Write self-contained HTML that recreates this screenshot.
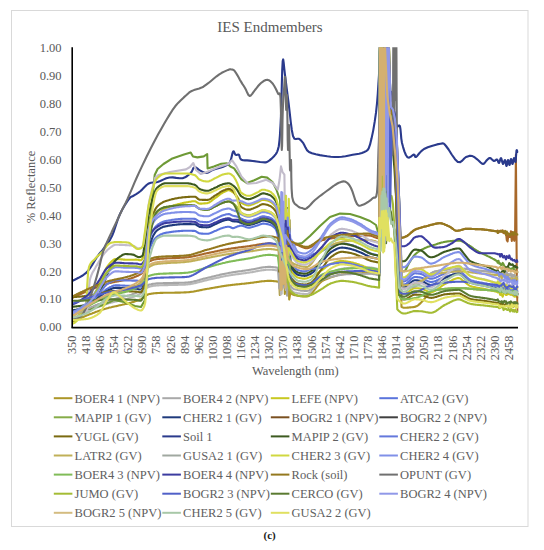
<!DOCTYPE html>
<html><head><meta charset="utf-8"><style>html,body{margin:0;padding:0;background:#fff;width:544px;height:550px;overflow:hidden}svg{display:block}</style></head>
<body><svg width="544" height="550" viewBox="0 0 544 550"><rect x="11.5" y="10.5" width="516.5" height="516" fill="#fff" stroke="#d9d9d9" stroke-width="1"/>
<text x="270" y="31.6" font-family="Liberation Serif, serif" font-size="15" fill="#595959" text-anchor="middle">IES Endmembers</text>
<text x="61.6" y="51.8" font-family="Liberation Serif, serif" font-size="12.5" fill="#595959" text-anchor="end">1.00</text>
<text x="61.6" y="79.8" font-family="Liberation Serif, serif" font-size="12.5" fill="#595959" text-anchor="end">0.90</text>
<text x="61.6" y="107.7" font-family="Liberation Serif, serif" font-size="12.5" fill="#595959" text-anchor="end">0.80</text>
<text x="61.6" y="135.7" font-family="Liberation Serif, serif" font-size="12.5" fill="#595959" text-anchor="end">0.70</text>
<text x="61.6" y="163.6" font-family="Liberation Serif, serif" font-size="12.5" fill="#595959" text-anchor="end">0.60</text>
<text x="61.6" y="191.6" font-family="Liberation Serif, serif" font-size="12.5" fill="#595959" text-anchor="end">0.50</text>
<text x="61.6" y="219.6" font-family="Liberation Serif, serif" font-size="12.5" fill="#595959" text-anchor="end">0.40</text>
<text x="61.6" y="247.5" font-family="Liberation Serif, serif" font-size="12.5" fill="#595959" text-anchor="end">0.30</text>
<text x="61.6" y="275.5" font-family="Liberation Serif, serif" font-size="12.5" fill="#595959" text-anchor="end">0.20</text>
<text x="61.6" y="303.4" font-family="Liberation Serif, serif" font-size="12.5" fill="#595959" text-anchor="end">0.10</text>
<text x="61.6" y="331.4" font-family="Liberation Serif, serif" font-size="12.5" fill="#595959" text-anchor="end">0.00</text>
<text transform="translate(75.8,335.6) rotate(-90)" font-family="Liberation Serif, serif" font-size="12.3" fill="#595959" text-anchor="end">350</text>
<text transform="translate(89.9,335.6) rotate(-90)" font-family="Liberation Serif, serif" font-size="12.3" fill="#595959" text-anchor="end">418</text>
<text transform="translate(104.0,335.6) rotate(-90)" font-family="Liberation Serif, serif" font-size="12.3" fill="#595959" text-anchor="end">486</text>
<text transform="translate(118.1,335.6) rotate(-90)" font-family="Liberation Serif, serif" font-size="12.3" fill="#595959" text-anchor="end">554</text>
<text transform="translate(132.2,335.6) rotate(-90)" font-family="Liberation Serif, serif" font-size="12.3" fill="#595959" text-anchor="end">622</text>
<text transform="translate(146.3,335.6) rotate(-90)" font-family="Liberation Serif, serif" font-size="12.3" fill="#595959" text-anchor="end">690</text>
<text transform="translate(160.4,335.6) rotate(-90)" font-family="Liberation Serif, serif" font-size="12.3" fill="#595959" text-anchor="end">758</text>
<text transform="translate(174.5,335.6) rotate(-90)" font-family="Liberation Serif, serif" font-size="12.3" fill="#595959" text-anchor="end">826</text>
<text transform="translate(188.6,335.6) rotate(-90)" font-family="Liberation Serif, serif" font-size="12.3" fill="#595959" text-anchor="end">894</text>
<text transform="translate(202.7,335.6) rotate(-90)" font-family="Liberation Serif, serif" font-size="12.3" fill="#595959" text-anchor="end">962</text>
<text transform="translate(216.8,335.6) rotate(-90)" font-family="Liberation Serif, serif" font-size="12.3" fill="#595959" text-anchor="end">1030</text>
<text transform="translate(230.9,335.6) rotate(-90)" font-family="Liberation Serif, serif" font-size="12.3" fill="#595959" text-anchor="end">1098</text>
<text transform="translate(245.0,335.6) rotate(-90)" font-family="Liberation Serif, serif" font-size="12.3" fill="#595959" text-anchor="end">1166</text>
<text transform="translate(259.1,335.6) rotate(-90)" font-family="Liberation Serif, serif" font-size="12.3" fill="#595959" text-anchor="end">1234</text>
<text transform="translate(273.2,335.6) rotate(-90)" font-family="Liberation Serif, serif" font-size="12.3" fill="#595959" text-anchor="end">1302</text>
<text transform="translate(287.3,335.6) rotate(-90)" font-family="Liberation Serif, serif" font-size="12.3" fill="#595959" text-anchor="end">1370</text>
<text transform="translate(301.4,335.6) rotate(-90)" font-family="Liberation Serif, serif" font-size="12.3" fill="#595959" text-anchor="end">1438</text>
<text transform="translate(315.5,335.6) rotate(-90)" font-family="Liberation Serif, serif" font-size="12.3" fill="#595959" text-anchor="end">1506</text>
<text transform="translate(329.6,335.6) rotate(-90)" font-family="Liberation Serif, serif" font-size="12.3" fill="#595959" text-anchor="end">1574</text>
<text transform="translate(343.7,335.6) rotate(-90)" font-family="Liberation Serif, serif" font-size="12.3" fill="#595959" text-anchor="end">1642</text>
<text transform="translate(357.8,335.6) rotate(-90)" font-family="Liberation Serif, serif" font-size="12.3" fill="#595959" text-anchor="end">1710</text>
<text transform="translate(371.9,335.6) rotate(-90)" font-family="Liberation Serif, serif" font-size="12.3" fill="#595959" text-anchor="end">1778</text>
<text transform="translate(386.0,335.6) rotate(-90)" font-family="Liberation Serif, serif" font-size="12.3" fill="#595959" text-anchor="end">1846</text>
<text transform="translate(400.1,335.6) rotate(-90)" font-family="Liberation Serif, serif" font-size="12.3" fill="#595959" text-anchor="end">1914</text>
<text transform="translate(414.2,335.6) rotate(-90)" font-family="Liberation Serif, serif" font-size="12.3" fill="#595959" text-anchor="end">1982</text>
<text transform="translate(428.3,335.6) rotate(-90)" font-family="Liberation Serif, serif" font-size="12.3" fill="#595959" text-anchor="end">2050</text>
<text transform="translate(442.4,335.6) rotate(-90)" font-family="Liberation Serif, serif" font-size="12.3" fill="#595959" text-anchor="end">2118</text>
<text transform="translate(456.5,335.6) rotate(-90)" font-family="Liberation Serif, serif" font-size="12.3" fill="#595959" text-anchor="end">2186</text>
<text transform="translate(470.6,335.6) rotate(-90)" font-family="Liberation Serif, serif" font-size="12.3" fill="#595959" text-anchor="end">2254</text>
<text transform="translate(484.7,335.6) rotate(-90)" font-family="Liberation Serif, serif" font-size="12.3" fill="#595959" text-anchor="end">2322</text>
<text transform="translate(498.8,335.6) rotate(-90)" font-family="Liberation Serif, serif" font-size="12.3" fill="#595959" text-anchor="end">2390</text>
<text transform="translate(512.9,335.6) rotate(-90)" font-family="Liberation Serif, serif" font-size="12.3" fill="#595959" text-anchor="end">2458</text>
<text x="295.3" y="375" font-family="Liberation Serif, serif" font-size="12.5" fill="#595959" text-anchor="middle">Wavelength (nm)</text>
<text transform="translate(35,187) rotate(-90)" font-family="Liberation Serif, serif" font-size="12.5" fill="#595959" text-anchor="middle">% Reflectance</text>
<defs><clipPath id="pc"><rect x="72" y="47.3" width="446.5" height="280.5"/></clipPath></defs>
<g clip-path="url(#pc)" fill="none" stroke-width="2.1" stroke-linejoin="round" stroke-linecap="round">
<polyline points="72.3,321.7 73.1,321.3 74.0,321.0 74.8,320.6 75.6,320.2 76.4,319.9 77.3,319.5 78.1,319.1 78.9,318.8 79.8,318.4 80.6,318.1 81.4,317.7 82.3,317.3 83.1,317.0 83.9,316.7 84.7,316.3 85.6,316.0 86.4,315.6 87.2,315.3 88.1,315.0 88.9,314.6 89.7,314.3 90.5,314.0 91.4,313.7 92.2,313.4 93.0,313.0 93.9,312.7 94.7,312.4 95.5,312.1 96.3,311.8 97.2,311.5 98.0,311.2 98.8,310.9 99.7,310.6 100.5,310.4 101.3,310.1 102.2,309.8 103.0,309.5 103.8,309.3 104.6,309.0 105.5,308.8 106.3,308.5 107.1,308.3 108.0,308.1 108.8,307.8 109.6,307.6 110.4,307.4 111.3,307.2 112.1,307.0 112.9,306.8 113.8,306.6 114.6,306.4 115.4,306.2 116.2,306.1 117.1,305.9 117.9,305.7 118.7,305.5 119.6,305.3 120.4,305.2 121.2,305.0 122.1,304.8 122.9,304.6 123.7,304.4 124.5,304.2 125.4,304.0 126.2,303.9 127.0,303.7 127.9,303.4 128.7,303.2 129.5,303.0 130.3,302.8 131.2,302.6 132.0,302.3 132.8,302.1 133.7,301.9 134.5,301.6 135.3,301.3 136.1,301.0 137.0,300.8 137.8,300.5 138.6,300.2 139.5,299.8 140.3,299.5 141.1,299.2 142.0,298.7 142.8,298.1 143.6,297.5 144.4,296.8 145.3,296.2 146.1,295.6 146.9,295.0 147.8,294.5 148.6,294.2 149.4,294.0 150.2,293.9 151.1,293.7 151.9,293.6 152.7,293.5 153.6,293.4 154.4,293.3 155.2,293.2 156.0,293.1 156.9,293.1 157.7,293.0 158.5,293.0 159.4,293.0 160.2,292.9 161.0,292.9 161.9,292.9 162.7,292.9 163.5,292.8 164.3,292.8 165.2,292.8 166.0,292.8 166.8,292.8 167.7,292.8 168.5,292.7 169.3,292.7 170.1,292.7 171.0,292.7 171.8,292.7 172.6,292.7 173.5,292.7 174.3,292.7 175.1,292.6 175.9,292.6 176.8,292.6 177.6,292.6 178.4,292.6 179.3,292.6 180.1,292.6 180.9,292.5 181.8,292.5 182.6,292.5 183.4,292.5 184.2,292.4 185.1,292.4 185.9,292.4 186.7,292.3 187.6,292.3 188.4,292.2 189.2,292.1 190.0,292.0 190.9,291.9 191.7,291.8 192.5,291.7 193.4,291.6 194.2,291.4 195.0,291.3 195.9,291.1 196.7,290.9 197.5,290.8 198.3,290.6 199.2,290.4 200.0,290.3 200.8,290.1 201.7,289.9 202.5,289.8 203.3,289.6 204.1,289.4 205.0,289.3 205.8,289.1 206.6,289.0 207.5,288.8 208.3,288.7 209.1,288.6 209.9,288.4 210.8,288.3 211.6,288.1 212.4,288.0 213.3,287.8 214.1,287.7 214.9,287.5 215.8,287.4 216.6,287.3 217.4,287.1 218.2,287.0 219.1,286.8 219.9,286.7 220.7,286.5 221.6,286.4 222.4,286.3 223.2,286.1 224.0,286.0 224.9,285.9 225.7,285.8 226.5,285.6 227.4,285.5 228.2,285.4 229.0,285.3 229.8,285.2 230.7,285.1 231.5,285.0 232.3,284.9 233.2,284.8 234.0,284.7 234.8,284.6 235.7,284.5 236.5,284.4 237.3,284.4 238.1,284.3 239.0,284.2 239.8,284.1 240.6,284.0 241.5,283.9 242.3,283.8 243.1,283.8 243.9,283.7 244.8,283.6 245.6,283.5 246.4,283.4 247.3,283.3 248.1,283.2 248.9,283.1 249.7,283.0 250.6,282.9 251.4,282.8 252.2,282.7 253.1,282.6 253.9,282.5 254.7,282.3 255.6,282.2 256.4,282.1 257.2,282.0 258.0,281.9 258.9,281.7 259.7,281.6 260.5,281.5 261.4,281.4 262.2,281.3 263.0,281.2 263.8,281.2 264.7,281.1 265.5,281.0 266.3,281.0 267.2,280.9 268.0,280.9 268.8,280.9 269.6,280.9 270.5,280.9 271.3,280.9 272.1,281.0 273.0,281.0 273.8,281.1 274.6,281.2 275.5,281.3 276.3,281.4 277.1,281.5 277.9,281.6 279.3,282.3 279.8,294.9 280.2,274.2 280.7,286.2 281.1,284.5 281.7,288.4 282.3,279.2 282.8,272.1 283.3,286.0 283.8,287.1 284.3,269.5 284.8,294.0 285.2,289.4 285.7,283.5 286.2,277.8 286.8,290.8 287.4,284.5 287.9,280.1 288.6,281.0 289.2,299.5 290.4,292.5 291.2,293.3 292.0,294.0 292.9,294.5 293.7,294.9 294.5,295.1 295.4,295.3 296.2,295.4 297.0,295.6 297.8,295.7 298.7,295.9 299.5,296.0 300.3,296.1 301.2,296.2 302.0,296.3 302.8,296.4 303.6,296.4 304.5,296.5 305.3,296.5 306.1,296.5 307.0,296.5 307.8,296.3 308.6,296.0 309.5,295.4 310.3,294.8 311.1,294.0 311.9,293.1 312.8,292.1 313.6,291.1 314.4,290.0 315.3,288.9 316.1,287.8 316.9,286.7 317.7,285.6 318.6,284.5 319.4,283.6 320.2,282.7 321.1,281.9 321.9,281.2 322.7,280.7 323.5,280.3 324.4,279.9 325.2,279.6 326.0,279.2 326.9,278.9 327.7,278.6 328.5,278.2 329.4,277.9 330.2,277.6 331.0,277.3 331.8,277.0 332.7,276.7 333.5,276.4 334.3,276.2 335.2,275.9 336.0,275.7 336.8,275.5 337.6,275.2 338.5,275.0 339.3,274.8 340.1,274.7 341.0,274.5 341.8,274.3 342.6,274.2 343.4,274.1 344.3,273.9 345.1,273.8 345.9,273.8 346.8,273.7 347.6,273.6 348.4,273.6 349.3,273.6 350.1,273.5 350.9,273.5 351.7,273.5 352.6,273.4 353.4,273.4 354.2,273.4 355.1,273.3 355.9,273.3 356.7,273.3 357.5,273.3 358.4,273.2 359.2,273.2 360.0,273.2 360.9,273.2 361.7,273.2 362.5,273.1 363.3,273.1 364.2,273.1 365.0,273.1 365.8,273.1 366.7,273.1 367.5,273.1 368.3,273.1 369.2,273.1 370.0,273.1 370.8,273.2 371.6,273.2 372.5,273.3 373.3,273.5 374.1,273.6 375.0,273.7 375.8,273.9 376.6,274.1 377.4,274.3 378.3,274.5 379.1,274.7 379.9,44.5 380.4,177.8 381.0,38.3 381.5,222.7 381.9,51.5 382.4,161.4 383.0,50.1 383.4,136.5 384.0,42.9 384.5,109.6 385.2,40.0 385.9,226.5 389.0,98.8 391.4,114.1 393.9,122.9 396.4,147.5 398.9,219.1 401.5,306.9 402.3,307.3 403.2,307.6 404.0,307.7 404.8,307.7 405.6,307.7 406.5,307.7 407.3,307.6 408.1,307.6 409.0,307.5 409.8,307.4 410.6,307.4 411.4,307.3 412.3,307.2 413.1,307.1 413.9,307.0 414.8,306.9 415.6,306.6 416.4,306.3 417.2,305.8 418.1,305.3 418.9,304.6 419.7,303.9 420.6,303.1 421.4,302.3 422.2,301.4 423.1,300.5 423.9,299.5 424.7,298.6 425.5,297.6 426.4,296.7 427.2,295.8 428.0,294.9 428.9,294.0 429.7,293.2 430.5,292.5 431.3,291.9 432.2,291.3 433.0,290.8 433.8,290.4 434.7,290.2 435.5,290.1 436.3,289.9 437.1,289.8 438.0,289.7 438.8,289.6 439.6,289.5 440.5,289.4 441.3,289.3 442.1,289.2 443.0,289.1 443.8,289.0 444.6,288.9 445.4,288.9 446.3,288.8 447.1,288.7 447.9,288.6 448.8,288.6 449.6,288.5 450.4,288.5 451.2,288.4 452.1,288.4 452.9,288.3 453.7,288.3 454.6,288.3 455.4,288.2 456.2,288.2 457.0,288.2 457.9,288.2 458.7,288.2 459.5,288.2 460.4,288.2 461.2,288.2 462.0,288.2 462.9,288.2 463.7,288.3 464.5,288.3 465.3,288.4 466.2,288.4 467.0,288.5 467.8,288.6 468.7,288.6 469.5,288.7 470.3,288.8 471.1,288.9 472.0,288.9 472.8,289.0 473.6,289.1 474.5,289.2 475.3,289.2 476.1,289.3 476.9,289.4 477.8,289.4 478.6,289.5 479.4,289.5 480.3,289.6 481.1,289.6 481.9,289.7 482.8,289.8 483.6,289.8 484.4,289.9 485.2,289.9 486.1,290.0 486.9,290.0 487.7,290.1 488.6,290.2 489.4,290.2 490.2,290.3 491.0,290.3 491.9,290.4 492.7,290.5 493.5,290.5 494.4,290.6 495.2,290.7 496.0,290.8 496.9,290.9 497.7,290.9 498.5,290.7 499.3,291.4 500.2,292.2 501.0,291.8 501.8,292.5 502.7,291.5 503.5,290.1 504.3,292.3 505.1,292.6 506.0,291.4 506.8,291.7 507.6,292.1 508.5,293.4 509.3,292.5 510.1,291.9 510.9,294.3 511.8,293.4 512.6,295.2 513.4,294.6 514.3,295.4 515.1,293.8 515.9,295.1 516.8,293.5 517.6,293.8" stroke="#ac9628"/>
<polyline points="72.3,318.9 73.1,318.5 74.0,318.1 74.8,317.7 75.6,317.2 76.4,316.8 77.3,316.4 78.1,316.0 78.9,315.6 79.8,315.2 80.6,314.8 81.4,314.4 82.3,314.0 83.1,313.6 83.9,313.2 84.7,312.8 85.6,312.5 86.4,312.1 87.2,311.7 88.1,311.3 88.9,311.0 89.7,310.6 90.5,310.2 91.4,309.9 92.2,309.5 93.0,309.2 93.9,308.8 94.7,308.5 95.5,308.1 96.3,307.8 97.2,307.4 98.0,307.1 98.8,306.8 99.7,306.5 100.5,306.2 101.3,305.8 102.2,305.5 103.0,305.2 103.8,304.9 104.6,304.6 105.5,304.4 106.3,304.1 107.1,303.8 108.0,303.6 108.8,303.3 109.6,303.1 110.4,302.9 111.3,302.6 112.1,302.4 112.9,302.2 113.8,302.0 114.6,301.8 115.4,301.6 116.2,301.4 117.1,301.2 117.9,301.0 118.7,300.8 119.6,300.6 120.4,300.4 121.2,300.2 122.1,300.0 122.9,299.8 123.7,299.6 124.5,299.4 125.4,299.2 126.2,299.0 127.0,298.8 127.9,298.5 128.7,298.3 129.5,298.1 130.3,297.8 131.2,297.5 132.0,297.3 132.8,297.0 133.7,296.7 134.5,296.4 135.3,296.1 136.1,295.8 137.0,295.4 137.8,295.1 138.6,294.7 139.5,294.3 140.3,294.0 141.1,293.5 142.0,292.9 142.8,292.2 143.6,291.4 144.4,290.5 145.3,289.6 146.1,288.8 146.9,288.0 147.8,287.4 148.6,287.0 149.4,286.7 150.2,286.5 151.1,286.3 151.9,286.1 152.7,286.0 153.6,285.8 154.4,285.7 155.2,285.6 156.0,285.5 156.9,285.5 157.7,285.4 158.5,285.4 159.4,285.3 160.2,285.3 161.0,285.3 161.9,285.2 162.7,285.2 163.5,285.2 164.3,285.1 165.2,285.1 166.0,285.1 166.8,285.1 167.7,285.1 168.5,285.0 169.3,285.0 170.1,285.0 171.0,285.0 171.8,285.0 172.6,285.0 173.5,284.9 174.3,284.9 175.1,284.9 175.9,284.9 176.8,284.9 177.6,284.9 178.4,284.8 179.3,284.8 180.1,284.8 180.9,284.8 181.8,284.7 182.6,284.7 183.4,284.7 184.2,284.6 185.1,284.6 185.9,284.5 186.7,284.5 187.6,284.4 188.4,284.3 189.2,284.2 190.0,284.1 190.9,284.0 191.7,283.8 192.5,283.7 193.4,283.5 194.2,283.3 195.0,283.1 195.9,282.9 196.7,282.7 197.5,282.5 198.3,282.3 199.2,282.1 200.0,281.8 200.8,281.6 201.7,281.4 202.5,281.2 203.3,281.0 204.1,280.8 205.0,280.5 205.8,280.4 206.6,280.2 207.5,280.0 208.3,279.8 209.1,279.6 209.9,279.4 210.8,279.3 211.6,279.1 212.4,278.9 213.3,278.7 214.1,278.5 214.9,278.3 215.8,278.1 216.6,277.9 217.4,277.7 218.2,277.6 219.1,277.4 219.9,277.2 220.7,277.0 221.6,276.8 222.4,276.7 223.2,276.5 224.0,276.3 224.9,276.2 225.7,276.0 226.5,275.8 227.4,275.7 228.2,275.6 229.0,275.4 229.8,275.3 230.7,275.2 231.5,275.0 232.3,274.9 233.2,274.8 234.0,274.7 234.8,274.5 235.7,274.4 236.5,274.3 237.3,274.2 238.1,274.1 239.0,274.0 239.8,273.9 240.6,273.7 241.5,273.6 242.3,273.5 243.1,273.4 243.9,273.3 244.8,273.2 245.6,273.1 246.4,273.0 247.3,272.8 248.1,272.7 248.9,272.6 249.7,272.5 250.6,272.3 251.4,272.2 252.2,272.1 253.1,271.9 253.9,271.7 254.7,271.6 255.6,271.4 256.4,271.3 257.2,271.1 258.0,271.0 258.9,270.8 259.7,270.7 260.5,270.5 261.4,270.4 262.2,270.3 263.0,270.2 263.8,270.1 264.7,270.0 265.5,269.9 266.3,269.8 267.2,269.8 268.0,269.7 268.8,269.7 269.6,269.7 270.5,269.7 271.3,269.8 272.1,269.8 273.0,269.9 273.8,270.0 274.6,270.0 275.5,270.2 276.3,270.3 277.1,270.4 277.9,270.5 279.2,269.0 279.6,285.0 280.2,265.2 280.7,294.8 281.1,281.4 281.7,293.8 282.2,275.3 282.7,277.4 283.2,278.1 283.6,287.5 284.2,265.0 284.9,283.3 285.4,267.5 285.8,290.0 286.2,275.4 286.6,279.4 287.2,276.0 287.8,280.1 288.4,281.2 288.9,284.8 290.4,288.5 291.2,289.8 292.0,290.9 292.9,291.7 293.7,292.2 294.5,292.5 295.4,292.7 296.2,292.8 297.0,293.0 297.8,293.2 298.7,293.3 299.5,293.4 300.3,293.6 301.2,293.7 302.0,293.8 302.8,293.9 303.6,293.9 304.5,294.0 305.3,294.0 306.1,294.0 307.0,294.0 307.8,293.8 308.6,293.4 309.5,292.8 310.3,292.0 311.1,291.1 311.9,290.1 312.8,289.0 313.6,287.8 314.4,286.6 315.3,285.3 316.1,284.1 316.9,282.8 317.7,281.6 318.6,280.4 319.4,279.3 320.2,278.3 321.1,277.4 321.9,276.7 322.7,276.1 323.5,275.6 324.4,275.2 325.2,274.8 326.0,274.4 326.9,274.0 327.7,273.6 328.5,273.3 329.4,272.9 330.2,272.5 331.0,272.2 331.8,271.9 332.7,271.5 333.5,271.2 334.3,270.9 335.2,270.6 336.0,270.4 336.8,270.1 337.6,269.9 338.5,269.6 339.3,269.4 340.1,269.2 341.0,269.0 341.8,268.8 342.6,268.7 343.4,268.5 344.3,268.4 345.1,268.3 345.9,268.2 346.8,268.1 347.6,268.0 348.4,268.0 349.3,268.0 350.1,267.9 350.9,267.9 351.7,267.8 352.6,267.8 353.4,267.8 354.2,267.7 355.1,267.7 355.9,267.7 356.7,267.6 357.5,267.6 358.4,267.6 359.2,267.6 360.0,267.5 360.9,267.5 361.7,267.5 362.5,267.5 363.3,267.5 364.2,267.5 365.0,267.5 365.8,267.4 366.7,267.4 367.5,267.4 368.3,267.4 369.2,267.4 370.0,267.5 370.8,267.5 371.6,267.6 372.5,267.7 373.3,267.9 374.1,268.0 375.0,268.2 375.8,268.4 376.6,268.6 377.4,268.8 378.3,269.0 379.1,269.2 379.7,30.9 380.2,63.0 380.7,30.9 381.3,187.7 382.0,30.9 382.3,104.8 382.9,30.9 383.3,88.5 383.8,30.9 384.5,150.8 385.1,30.9 385.8,181.7 386.1,30.9 386.5,106.6 387.2,30.9 389.2,104.7 391.2,104.9 393.2,126.5 395.1,150.0 397.1,206.6 399.8,286.9 400.7,287.3 401.5,287.7 402.3,287.9 403.2,288.1 404.0,288.2 404.8,288.1 405.6,288.1 406.5,288.0 407.3,287.9 408.1,287.8 409.0,287.7 409.8,287.6 410.6,287.4 411.4,287.2 412.3,287.1 413.1,286.9 413.9,286.7 414.8,286.5 415.6,286.2 416.4,285.8 417.2,285.4 418.1,284.8 418.9,284.2 419.7,283.6 420.6,282.9 421.4,282.2 422.2,281.4 423.1,280.6 423.9,279.8 424.7,279.0 425.5,278.2 426.4,277.4 427.2,276.6 428.0,275.8 428.9,275.1 429.7,274.4 430.5,273.8 431.3,273.2 432.2,272.7 433.0,272.2 433.8,271.9 434.7,271.6 435.5,271.4 436.3,271.3 437.1,271.1 438.0,270.9 438.8,270.8 439.6,270.6 440.5,270.5 441.3,270.3 442.1,270.2 443.0,270.1 443.8,269.9 444.6,269.8 445.4,269.7 446.3,269.6 447.1,269.5 447.9,269.4 448.8,269.3 449.6,269.2 450.4,269.1 451.2,269.0 452.1,268.9 452.9,268.9 453.7,268.8 454.6,268.7 455.4,268.7 456.2,268.7 457.0,268.6 457.9,268.6 458.7,268.6 459.5,268.6 460.4,268.6 461.2,268.6 462.0,268.6 462.9,268.7 463.7,268.7 464.5,268.8 465.3,268.9 466.2,269.0 467.0,269.1 467.8,269.2 468.7,269.3 469.5,269.4 470.3,269.5 471.1,269.6 472.0,269.8 472.8,269.9 473.6,270.0 474.5,270.1 475.3,270.2 476.1,270.3 476.9,270.4 477.8,270.5 478.6,270.6 479.4,270.7 480.3,270.7 481.1,270.8 481.9,270.9 482.8,271.0 483.6,271.1 484.4,271.2 485.2,271.2 486.1,271.3 486.9,271.4 487.7,271.5 488.6,271.6 489.4,271.7 490.2,271.8 491.0,271.9 491.9,272.0 492.7,272.1 493.5,272.2 494.4,272.3 495.2,272.4 496.0,272.5 496.9,272.6 497.7,272.7 498.5,273.5 499.3,273.2 500.2,275.4 501.0,274.6 501.8,273.1 502.7,276.0 503.5,272.9 504.3,275.9 505.1,273.3 506.0,275.3 506.8,273.6 507.6,274.6 508.5,276.6 509.3,273.7 510.1,273.7 510.9,275.6 511.8,276.0 512.6,276.1 513.4,277.2 514.3,275.1 515.1,277.2 515.9,276.9 516.8,277.9 517.6,278.0" stroke="#b8b8b8"/>
<polyline points="72.3,318.9 73.1,318.6 74.0,318.3 74.8,317.9 75.6,317.4 76.4,316.9 77.3,316.3 78.1,315.7 78.9,315.0 79.8,314.3 80.6,313.5 81.4,312.7 82.3,311.9 83.1,311.0 83.9,310.2 84.7,309.3 85.6,308.4 86.4,307.4 87.2,306.5 88.1,305.4 88.9,304.2 89.7,302.9 90.5,301.6 91.4,300.1 92.2,298.6 93.0,297.1 93.9,295.5 94.7,293.9 95.5,292.2 96.3,290.6 97.2,289.0 98.0,287.3 98.8,285.4 99.7,283.5 100.5,281.4 101.3,279.3 102.2,277.2 103.0,275.2 103.8,273.2 104.6,271.3 105.5,269.6 106.3,268.1 107.1,266.8 108.0,265.7 108.8,264.7 109.6,263.7 110.4,262.7 111.3,261.8 112.1,261.0 112.9,260.3 113.8,259.7 114.6,259.3 115.4,259.1 116.2,259.1 117.1,259.1 117.9,259.1 118.7,259.2 119.6,259.2 120.4,259.3 121.2,259.4 122.1,259.4 122.9,259.5 123.7,259.6 124.5,259.6 125.4,259.7 126.2,259.7 127.0,259.7 127.9,259.8 128.7,259.8 129.5,259.8 130.3,259.7 131.2,259.7 132.0,259.7 132.8,259.7 133.7,259.7 134.5,259.7 135.3,259.6 136.1,259.6 137.0,259.7 137.8,259.8 138.6,259.9 139.5,260.1 140.3,260.2 141.1,260.1 142.0,259.4 142.8,258.2 143.6,256.4 144.4,254.3 145.3,251.3 146.1,244.2 146.9,234.8 147.8,225.7 148.6,219.5 149.4,217.9 150.2,217.2 151.1,216.7 151.9,216.3 152.7,216.0 153.6,215.7 154.4,215.5 155.2,215.2 156.0,214.9 156.9,214.6 157.7,214.1 158.5,213.5 159.4,212.9 160.2,212.3 161.0,211.6 161.9,210.9 162.7,210.3 163.5,209.6 164.3,209.1 165.2,208.6 166.0,208.2 166.8,207.9 167.7,207.6 168.5,207.2 169.3,206.9 170.1,206.6 171.0,206.3 171.8,206.0 172.6,205.7 173.5,205.5 174.3,205.2 175.1,205.0 175.9,204.7 176.8,204.5 177.6,204.3 178.4,204.1 179.3,203.9 180.1,203.7 180.9,203.5 181.8,203.3 182.6,203.1 183.4,202.9 184.2,202.8 185.1,202.6 185.9,202.5 186.7,202.3 187.6,202.2 188.4,202.0 189.2,201.8 190.0,201.7 190.9,201.6 191.7,201.4 192.5,201.3 193.4,201.3 194.2,201.2 195.0,201.3 195.9,201.6 196.7,202.1 197.5,202.6 198.3,203.2 199.2,203.5 200.0,203.6 200.8,203.6 201.7,203.6 202.5,203.5 203.3,203.5 204.1,203.4 205.0,203.4 205.8,203.3 206.6,203.2 207.5,203.1 208.3,202.8 209.1,202.5 209.9,202.0 210.8,201.4 211.6,200.8 212.4,200.1 213.3,199.5 214.1,198.8 214.9,198.2 215.8,197.6 216.6,197.1 217.4,196.4 218.2,195.8 219.1,195.2 219.9,194.5 220.7,193.9 221.6,193.4 222.4,192.8 223.2,192.4 224.0,192.0 224.9,191.6 225.7,191.2 226.5,190.8 227.4,190.5 228.2,190.3 229.0,190.3 229.8,190.5 230.7,190.9 231.5,191.4 232.3,191.9 233.2,192.5 234.0,193.1 234.8,193.9 235.7,194.8 236.5,195.7 237.3,196.7 238.1,198.0 239.0,199.5 239.8,200.9 240.6,202.1 241.5,202.8 242.3,203.3 243.1,203.7 243.9,204.2 244.8,204.5 245.6,204.8 246.4,205.1 247.3,205.3 248.1,205.4 248.9,205.4 249.7,205.3 250.6,205.1 251.4,204.8 252.2,204.6 253.1,204.2 253.9,203.9 254.7,203.5 255.6,203.1 256.4,202.8 257.2,202.5 258.0,202.0 258.9,201.6 259.7,201.1 260.5,200.6 261.4,200.2 262.2,200.0 263.0,199.9 263.8,199.9 264.7,200.0 265.5,200.2 266.3,200.3 267.2,200.6 268.0,200.8 268.8,201.1 269.6,201.4 270.5,201.8 271.3,202.4 272.1,203.0 273.0,203.8 273.8,204.6 274.6,205.6 275.5,206.7 276.3,208.3 277.1,210.5 277.9,213.3 279.4,208.4 280.0,245.7 280.5,226.3 281.0,257.1 281.5,216.3 282.1,259.2 282.7,231.0 283.4,240.4 284.0,225.9 284.4,250.4 285.0,226.1 285.5,261.3 286.0,229.4 286.6,256.0 287.3,228.7 287.8,245.7 288.4,219.8 288.8,260.1 289.2,236.7 290.4,269.6 291.2,271.0 292.0,272.2 292.9,273.3 293.7,274.4 294.5,275.3 295.4,276.0 296.2,276.7 297.0,277.2 297.8,277.5 298.7,277.8 299.5,278.0 300.3,278.2 301.2,278.3 302.0,278.5 302.8,278.6 303.6,278.6 304.5,278.6 305.3,278.6 306.1,278.4 307.0,278.2 307.8,277.9 308.6,277.6 309.5,277.2 310.3,276.9 311.1,276.5 311.9,276.2 312.8,275.8 313.6,275.3 314.4,274.9 315.3,274.4 316.1,273.9 316.9,273.4 317.7,272.8 318.6,272.3 319.4,271.8 320.2,271.2 321.1,270.7 321.9,270.2 322.7,269.6 323.5,269.0 324.4,268.3 325.2,267.7 326.0,267.0 326.9,266.4 327.7,265.8 328.5,265.2 329.4,264.7 330.2,264.2 331.0,263.8 331.8,263.5 332.7,263.2 333.5,262.9 334.3,262.6 335.2,262.3 336.0,262.1 336.8,261.8 337.6,261.6 338.5,261.4 339.3,261.3 340.1,261.1 341.0,261.1 341.8,261.0 342.6,261.1 343.4,261.1 344.3,261.2 345.1,261.3 345.9,261.4 346.8,261.5 347.6,261.6 348.4,261.7 349.3,261.9 350.1,262.0 350.9,262.2 351.7,262.4 352.6,262.6 353.4,262.8 354.2,263.0 355.1,263.2 355.9,263.5 356.7,263.8 357.5,264.0 358.4,264.3 359.2,264.6 360.0,264.9 360.9,265.2 361.7,265.5 362.5,265.8 363.3,266.1 364.2,266.5 365.0,266.8 365.8,267.2 366.7,267.5 367.5,267.9 368.3,268.2 369.2,268.5 370.0,268.7 370.8,269.0 371.6,269.2 372.5,269.4 373.3,269.5 374.1,269.7 375.0,269.8 375.8,270.0 376.6,270.1 377.4,270.3 378.3,270.5 379.1,270.7 379.8,30.9 380.2,130.9 380.5,30.9 380.9,86.7 381.4,30.9 382.1,56.5 382.8,30.9 383.3,175.0 383.7,30.9 384.2,193.6 384.6,30.9 385.1,182.7 385.7,30.9 386.2,165.0 386.7,30.9 387.3,144.8 387.9,30.9 388.3,191.2 388.6,30.9 390.5,108.5 392.1,99.8 393.7,125.2 395.4,149.0 397.0,203.1 399.0,291.9 399.8,292.5 400.7,293.0 401.5,293.4 402.3,293.8 403.2,294.0 404.0,294.0 404.8,293.9 405.6,293.7 406.5,293.3 407.3,292.7 408.1,292.2 409.0,291.5 409.8,290.8 410.6,290.2 411.4,289.6 412.3,289.0 413.1,288.6 413.9,288.3 414.8,288.2 415.6,288.2 416.4,288.2 417.2,288.2 418.1,288.3 418.9,288.4 419.7,288.5 420.6,288.5 421.4,288.7 422.2,288.9 423.1,289.2 423.9,289.6 424.7,290.0 425.5,290.3 426.4,290.7 427.2,291.1 428.0,291.5 428.9,291.7 429.7,291.9 430.5,292.1 431.3,292.1 432.2,291.9 433.0,291.7 433.8,291.4 434.7,291.0 435.5,290.6 436.3,290.1 437.1,289.5 438.0,288.9 438.8,288.3 439.6,287.6 440.5,287.0 441.3,286.4 442.1,285.7 443.0,285.2 443.8,284.6 444.6,284.1 445.4,283.7 446.3,283.3 447.1,282.8 447.9,282.4 448.8,281.9 449.6,281.5 450.4,281.0 451.2,280.6 452.1,280.1 452.9,279.7 453.7,279.3 454.6,279.0 455.4,278.7 456.2,278.5 457.0,278.3 457.9,278.1 458.7,278.1 459.5,278.2 460.4,278.5 461.2,279.1 462.0,279.8 462.9,280.5 463.7,281.2 464.5,281.8 465.3,282.5 466.2,283.2 467.0,283.8 467.8,284.5 468.7,285.1 469.5,285.6 470.3,286.0 471.1,286.2 472.0,286.5 472.8,286.7 473.6,286.9 474.5,287.1 475.3,287.3 476.1,287.5 476.9,287.7 477.8,287.8 478.6,288.0 479.4,288.1 480.3,288.2 481.1,288.4 481.9,288.5 482.8,288.6 483.6,288.8 484.4,288.9 485.2,289.1 486.1,289.2 486.9,289.4 487.7,289.6 488.6,289.8 489.4,290.0 490.2,290.2 491.0,290.4 491.9,290.6 492.7,290.8 493.5,291.0 494.4,291.2 495.2,291.4 496.0,291.6 496.9,291.8 497.7,292.3 498.5,290.9 499.3,292.4 500.2,295.0 501.0,293.5 501.8,295.1 502.7,296.7 503.5,293.9 504.3,291.9 505.1,293.5 506.0,295.0 506.8,294.9 507.6,292.7 508.5,294.0 509.3,294.3 510.1,294.5 510.9,294.6 511.8,293.9 512.6,294.4 513.4,295.0 514.3,296.6 515.1,295.1 515.9,296.6 516.8,294.9 517.6,297.7" stroke="#c8c820"/>
<polyline points="72.3,311.9 73.1,311.8 74.0,311.6 74.8,311.5 75.6,311.3 76.4,311.0 77.3,310.8 78.1,310.5 78.9,310.2 79.8,309.9 80.6,309.5 81.4,309.2 82.3,308.8 83.1,308.4 83.9,308.0 84.7,307.6 85.6,307.2 86.4,306.8 87.2,306.4 88.1,305.9 88.9,305.4 89.7,304.8 90.5,304.2 91.4,303.6 92.2,302.9 93.0,302.2 93.9,301.5 94.7,300.8 95.5,300.1 96.3,299.4 97.2,298.6 98.0,297.9 98.8,297.1 99.7,296.2 100.5,295.3 101.3,294.3 102.2,293.4 103.0,292.5 103.8,291.6 104.6,290.8 105.5,290.0 106.3,289.4 107.1,288.8 108.0,288.3 108.8,287.9 109.6,287.4 110.4,287.0 111.3,286.6 112.1,286.2 112.9,285.9 113.8,285.6 114.6,285.5 115.4,285.4 116.2,285.4 117.1,285.4 117.9,285.4 118.7,285.4 119.6,285.4 120.4,285.5 121.2,285.5 122.1,285.5 122.9,285.6 123.7,285.6 124.5,285.6 125.4,285.7 126.2,285.7 127.0,285.7 127.9,285.8 128.7,285.8 129.5,285.8 130.3,285.8 131.2,285.9 132.0,285.9 132.8,285.9 133.7,285.9 134.5,286.0 135.3,286.0 136.1,286.0 137.0,286.1 137.8,286.2 138.6,286.4 139.5,286.6 140.3,286.7 141.1,286.7 142.0,286.1 142.8,285.0 143.6,283.5 144.4,281.7 145.3,279.2 146.1,273.6 146.9,266.0 147.8,258.4 148.6,252.4 149.4,249.5 150.2,247.3 151.1,245.3 151.9,243.5 152.7,241.9 153.6,240.6 154.4,239.4 155.2,238.4 156.0,237.5 156.9,236.8 157.7,236.2 158.5,235.7 159.4,235.2 160.2,234.7 161.0,234.3 161.9,234.0 162.7,233.6 163.5,233.4 164.3,233.1 165.2,232.9 166.0,232.8 166.8,232.6 167.7,232.5 168.5,232.4 169.3,232.2 170.1,232.1 171.0,232.0 171.8,231.9 172.6,231.8 173.5,231.6 174.3,231.5 175.1,231.5 175.9,231.4 176.8,231.3 177.6,231.2 178.4,231.1 179.3,231.1 180.1,231.0 180.9,231.0 181.8,230.9 182.6,230.9 183.4,230.8 184.2,230.8 185.1,230.8 185.9,230.8 186.7,230.8 187.6,230.8 188.4,230.8 189.2,230.8 190.0,230.8 190.9,230.8 191.7,230.8 192.5,230.9 193.4,230.9 194.2,230.9 195.0,231.0 195.9,231.3 196.7,231.8 197.5,232.3 198.3,232.8 199.2,233.2 200.0,233.4 200.8,233.5 201.7,233.6 202.5,233.6 203.3,233.7 204.1,233.8 205.0,233.8 205.8,233.8 206.6,233.8 207.5,233.8 208.3,233.7 209.1,233.5 209.9,233.3 210.8,232.9 211.6,232.6 212.4,232.2 213.3,231.8 214.1,231.4 214.9,231.0 215.8,230.7 216.6,230.4 217.4,230.0 218.2,229.6 219.1,229.3 219.9,228.9 220.7,228.5 221.6,228.2 222.4,227.9 223.2,227.7 224.0,227.5 224.9,227.3 225.7,227.1 226.5,226.9 227.4,226.7 228.2,226.7 229.0,226.7 229.8,226.9 230.7,227.3 231.5,227.7 232.3,228.1 233.2,228.1 234.0,228.0 234.8,227.6 235.7,227.2 236.5,226.9 237.3,226.6 238.1,226.3 239.0,226.1 239.8,225.8 240.6,225.7 241.5,225.6 242.3,225.7 243.1,226.0 243.9,226.3 244.8,226.6 245.6,226.9 246.4,227.3 247.3,227.5 248.1,227.6 248.9,227.6 249.7,227.6 250.6,227.4 251.4,227.3 252.2,227.1 253.1,226.8 253.9,226.5 254.7,226.3 255.6,226.0 256.4,225.8 257.2,225.5 258.0,225.2 258.9,224.9 259.7,224.5 260.5,224.2 261.4,223.9 262.2,223.7 263.0,223.6 263.8,223.6 264.7,223.7 265.5,223.8 266.3,224.0 267.2,224.1 268.0,224.3 268.8,224.5 269.6,224.7 270.5,225.0 271.3,225.4 272.1,225.9 273.0,226.4 273.8,227.1 274.6,227.8 275.5,228.7 276.3,230.2 277.1,232.8 277.9,236.0 279.2,241.1 279.7,227.9 280.2,245.4 280.7,245.7 281.2,233.7 281.7,240.7 282.3,235.9 282.8,245.9 283.3,248.6 283.9,241.4 284.3,243.1 284.8,239.8 285.2,244.5 285.7,235.8 286.2,237.2 286.7,239.5 287.3,246.1 287.8,232.7 288.3,243.3 288.9,241.8 289.3,236.7 290.4,244.2 291.2,244.8 292.0,245.9 292.9,247.4 293.7,249.1 294.5,250.8 295.4,252.6 296.2,254.2 297.0,255.5 297.8,256.3 298.7,256.7 299.5,257.0 300.3,257.3 301.2,257.5 302.0,257.7 302.8,257.8 303.6,257.9 304.5,258.0 305.3,257.9 306.1,257.6 307.0,257.2 307.8,256.8 308.6,256.3 309.5,255.8 310.3,255.4 311.1,255.0 311.9,254.7 312.8,254.4 313.6,254.1 314.4,253.8 315.3,253.6 316.1,253.3 316.9,253.0 317.7,252.7 318.6,252.4 319.4,252.1 320.2,251.8 321.1,251.4 321.9,251.0 322.7,250.6 323.5,250.1 324.4,249.6 325.2,249.0 326.0,248.5 326.9,247.9 327.7,247.4 328.5,246.9 329.4,246.5 330.2,246.1 331.0,245.7 331.8,245.5 332.7,245.2 333.5,245.0 334.3,244.7 335.2,244.5 336.0,244.3 336.8,244.1 337.6,243.9 338.5,243.7 339.3,243.6 340.1,243.5 341.0,243.4 341.8,243.4 342.6,243.4 343.4,243.5 344.3,243.6 345.1,243.7 345.9,243.8 346.8,244.0 347.6,244.1 348.4,244.3 349.3,244.5 350.1,244.7 350.9,244.9 351.7,245.1 352.6,245.3 353.4,245.6 354.2,245.9 355.1,246.2 355.9,246.5 356.7,246.9 357.5,247.2 358.4,247.6 359.2,247.9 360.0,248.3 360.9,248.6 361.7,249.0 362.5,249.4 363.3,249.8 364.2,250.3 365.0,250.7 365.8,251.2 366.7,251.6 367.5,252.0 368.3,252.5 369.2,252.8 370.0,253.2 370.8,253.5 371.6,253.7 372.5,254.0 373.3,254.2 374.1,254.4 375.0,254.5 375.8,254.7 376.6,254.9 377.4,255.1 378.3,255.4 379.1,255.7 379.7,30.9 380.2,94.0 380.8,30.9 381.3,174.0 381.7,30.9 382.2,38.5 382.7,30.9 383.1,107.9 383.8,30.9 384.3,160.2 385.0,30.9 385.6,192.4 386.2,30.9 386.8,171.6 387.2,30.9 389.7,104.4 392.0,103.0 394.4,120.2 396.7,149.3 399.0,198.0 401.5,283.8 402.3,284.2 403.2,284.4 404.0,284.5 404.8,284.4 405.6,284.1 406.5,283.5 407.3,282.9 408.1,282.1 409.0,281.3 409.8,280.4 410.6,279.6 411.4,278.8 412.3,278.1 413.1,277.6 413.9,277.2 414.8,277.0 415.6,277.0 416.4,277.0 417.2,277.1 418.1,277.2 418.9,277.3 419.7,277.4 420.6,277.5 421.4,277.7 422.2,277.9 423.1,278.3 423.9,278.8 424.7,279.3 425.5,279.8 426.4,280.3 427.2,280.8 428.0,281.2 428.9,281.6 429.7,281.8 430.5,282.0 431.3,282.0 432.2,281.9 433.0,281.8 433.8,281.6 434.7,281.3 435.5,281.0 436.3,280.7 437.1,280.3 438.0,279.9 438.8,279.5 439.6,279.1 440.5,278.7 441.3,278.3 442.1,277.9 443.0,277.5 443.8,277.2 444.6,276.9 445.4,276.7 446.3,276.5 447.1,276.3 447.9,276.1 448.8,275.8 449.6,275.6 450.4,275.4 451.2,275.2 452.1,275.0 452.9,274.9 453.7,274.7 454.6,274.6 455.4,274.4 456.2,274.3 457.0,274.3 457.9,274.2 458.7,274.2 459.5,274.3 460.4,274.7 461.2,275.3 462.0,276.0 462.9,276.8 463.7,277.6 464.5,278.2 465.3,278.9 466.2,279.6 467.0,280.4 467.8,281.1 468.7,281.7 469.5,282.3 470.3,282.7 471.1,283.0 472.0,283.3 472.8,283.5 473.6,283.7 474.5,284.0 475.3,284.2 476.1,284.3 476.9,284.5 477.8,284.7 478.6,284.8 479.4,285.0 480.3,285.1 481.1,285.3 481.9,285.4 482.8,285.5 483.6,285.7 484.4,285.9 485.2,286.0 486.1,286.2 486.9,286.4 487.7,286.6 488.6,286.8 489.4,287.0 490.2,287.2 491.0,287.4 491.9,287.7 492.7,287.9 493.5,288.1 494.4,288.3 495.2,288.6 496.0,288.8 496.9,289.0 497.7,289.6 498.5,290.2 499.3,288.9 500.2,287.3 501.0,289.8 501.8,291.1 502.7,291.7 503.5,290.6 504.3,290.9 505.1,292.2 506.0,290.9 506.8,292.5 507.6,290.1 508.5,290.3 509.3,290.5 510.1,292.4 510.9,291.5 511.8,292.4 512.6,292.9 513.4,293.0 514.3,294.3 515.1,294.7 515.9,292.5 516.8,293.8 517.6,293.6" stroke="#5a74dc"/>
<polyline points="72.0,310.0 90.0,309.0 103.0,305.0 114.0,300.0 124.0,302.0 135.0,306.0 141.0,307.0 145.0,300.0 148.0,260.0 150.5,220.0 152.5,196.0 154.7,175.0 157.6,169.0 163.5,164.0 172.4,158.4 184.0,154.5 190.7,152.5 193.0,156.5 197.4,157.4 203.8,156.4 207.2,154.0 207.6,168.4 213.9,166.5 221.3,163.8 226.8,163.2 230.4,166.5 234.1,168.4 237.8,173.9 241.5,179.4 247.0,183.1 254.3,180.3 261.7,176.7 267.2,177.6 272.7,182.2 276.4,189.5 280.0,200.0 282.0,230.0 284.0,215.0 286.0,245.0 288.0,232.0 290.0,250.0 293.0,245.0 297.0,244.0 302.0,243.0 310.0,236.0 320.0,226.0 330.0,217.0 340.0,213.6 350.0,214.0 360.0,217.0 370.0,221.0 376.0,225.0 378.0,232.0 378.3,229.0 379.1,229.4 380.1,30.9 380.4,164.5 380.8,30.9 381.3,47.0 381.7,30.9 382.3,58.0 382.8,30.9 383.4,147.8 383.8,30.9 384.4,152.7 384.8,30.9 385.2,80.3 385.6,30.9 386.0,107.8 386.3,30.9 386.9,171.6 387.4,30.9 387.9,137.8 388.5,30.9 390.7,107.4 392.7,102.9 394.8,116.1 396.8,139.9 398.9,193.7 401.5,270.3 402.3,270.9 403.2,271.3 404.0,271.4 404.8,271.0 405.6,269.9 406.5,268.4 407.3,266.6 408.1,264.9 409.0,263.3 409.8,262.0 410.6,260.7 411.4,259.3 412.3,258.0 413.1,256.8 413.9,255.7 414.8,254.8 415.6,254.0 416.4,253.3 417.2,252.6 418.1,252.0 418.9,251.4 419.7,250.9 420.6,250.4 421.4,249.9 422.2,249.4 423.1,249.0 423.9,248.6 424.7,248.2 425.5,247.8 426.4,247.5 427.2,247.1 428.0,246.8 428.9,246.5 429.7,246.2 430.5,246.0 431.3,245.7 432.2,245.4 433.0,245.2 433.8,244.9 434.7,244.7 435.5,244.4 436.3,244.2 437.1,243.9 438.0,243.6 438.8,243.4 439.6,243.1 440.5,242.9 441.3,242.6 442.1,242.4 443.0,242.2 443.8,242.0 444.6,241.9 445.4,241.7 446.3,241.6 447.1,241.5 447.9,241.4 448.8,241.3 449.6,241.2 450.4,241.1 451.2,241.1 452.1,241.0 452.9,240.9 453.7,240.8 454.6,240.8 455.4,240.7 456.2,240.7 457.0,240.7 457.9,240.6 458.7,240.6 459.5,240.7 460.4,240.8 461.2,241.0 462.0,241.3 462.9,241.7 463.7,242.1 464.5,242.6 465.3,243.1 466.2,243.6 467.0,244.1 467.8,244.6 468.7,245.0 469.5,245.6 470.3,246.1 471.1,246.7 472.0,247.3 472.8,247.9 473.6,248.5 474.5,249.1 475.3,249.6 476.1,250.2 476.9,250.7 477.8,251.1 478.6,251.6 479.4,252.0 480.3,252.5 481.1,252.9 481.9,253.3 482.8,253.7 483.6,254.1 484.4,254.5 485.2,254.9 486.1,255.3 486.9,255.7 487.7,256.1 488.6,256.5 489.4,256.9 490.2,257.3 491.0,257.7 491.9,258.1 492.7,258.6 493.5,259.0 494.4,259.5 495.2,260.0 496.0,260.5 496.9,261.0 497.7,262.7 498.5,260.8 499.3,263.7 500.2,263.3 501.0,265.2 501.8,265.1 502.7,262.9 503.5,264.1 504.3,265.9 505.1,266.9 506.0,268.5 506.8,267.2 507.6,267.2 508.5,267.7 509.3,268.1 510.1,269.6 510.9,268.8 511.8,269.1 512.6,267.9 513.4,267.6 514.3,270.2 515.1,271.2 515.9,270.7 516.8,271.6 517.6,272.1" stroke="#6e9a36"/>
<polyline points="72.3,310.5 73.1,310.4 74.0,310.3 74.8,310.1 75.6,310.0 76.4,309.8 77.3,309.5 78.1,309.3 78.9,309.0 79.8,308.8 80.6,308.5 81.4,308.2 82.3,307.9 83.1,307.5 83.9,307.2 84.7,306.9 85.6,306.5 86.4,306.2 87.2,305.8 88.1,305.4 88.9,305.0 89.7,304.5 90.5,304.0 91.4,303.4 92.2,302.8 93.0,302.3 93.9,301.7 94.7,301.0 95.5,300.4 96.3,299.8 97.2,299.2 98.0,298.6 98.8,297.9 99.7,297.1 100.5,296.3 101.3,295.5 102.2,294.7 103.0,294.0 103.8,293.2 104.6,292.5 105.5,291.9 106.3,291.3 107.1,290.8 108.0,290.4 108.8,290.0 109.6,289.6 110.4,289.3 111.3,288.9 112.1,288.6 112.9,288.3 113.8,288.1 114.6,288.0 115.4,287.9 116.2,287.9 117.1,287.9 117.9,287.9 118.7,287.9 119.6,287.9 120.4,288.0 121.2,288.0 122.1,288.0 122.9,288.0 123.7,288.1 124.5,288.1 125.4,288.1 126.2,288.2 127.0,288.2 127.9,288.3 128.7,288.3 129.5,288.3 130.3,288.4 131.2,288.4 132.0,288.4 132.8,288.5 133.7,288.5 134.5,288.6 135.3,288.6 136.1,288.7 137.0,288.8 137.8,289.0 138.6,289.2 139.5,289.4 140.3,289.5 141.1,289.5 142.0,288.8 142.8,287.5 143.6,285.8 144.4,283.7 145.3,280.8 146.1,274.2 146.9,265.5 147.8,256.6 148.6,249.7 149.4,246.2 150.2,243.4 151.1,241.0 151.9,238.8 152.7,236.8 153.6,235.1 154.4,233.7 155.2,232.4 156.0,231.4 156.9,230.5 157.7,229.9 158.5,229.3 159.4,228.8 160.2,228.3 161.0,227.8 161.9,227.5 162.7,227.1 163.5,226.8 164.3,226.6 165.2,226.4 166.0,226.2 166.8,226.1 167.7,225.9 168.5,225.8 169.3,225.6 170.1,225.5 171.0,225.4 171.8,225.2 172.6,225.1 173.5,225.0 174.3,224.9 175.1,224.8 175.9,224.7 176.8,224.6 177.6,224.5 178.4,224.4 179.3,224.4 180.1,224.3 180.9,224.3 181.8,224.2 182.6,224.2 183.4,224.1 184.2,224.1 185.1,224.1 185.9,224.1 186.7,224.1 187.6,224.1 188.4,224.1 189.2,224.1 190.0,224.1 190.9,224.1 191.7,224.2 192.5,224.2 193.4,224.2 194.2,224.2 195.0,224.3 195.9,224.6 196.7,225.1 197.5,225.7 198.3,226.2 199.2,226.7 200.0,226.9 200.8,227.0 201.7,227.1 202.5,227.1 203.3,227.2 204.1,227.3 205.0,227.3 205.8,227.3 206.6,227.4 207.5,227.3 208.3,227.2 209.1,227.0 209.9,226.7 210.8,226.4 211.6,226.0 212.4,225.6 213.3,225.1 214.1,224.7 214.9,224.3 215.8,224.0 216.6,223.6 217.4,223.2 218.2,222.8 219.1,222.4 219.9,222.1 220.7,221.7 221.6,221.3 222.4,221.0 223.2,220.7 224.0,220.5 224.9,220.3 225.7,220.1 226.5,219.9 227.4,219.8 228.2,219.7 229.0,219.7 229.8,219.9 230.7,220.3 231.5,220.7 232.3,221.1 233.2,221.3 234.0,221.4 234.8,221.4 235.7,221.5 236.5,221.5 237.3,221.6 238.1,221.8 239.0,222.1 239.8,222.4 240.6,222.7 241.5,222.9 242.3,223.2 243.1,223.6 243.9,223.9 244.8,224.2 245.6,224.5 246.4,224.7 247.3,224.9 248.1,225.0 248.9,225.0 249.7,225.0 250.6,224.8 251.4,224.6 252.2,224.4 253.1,224.1 253.9,223.9 254.7,223.6 255.6,223.3 256.4,223.0 257.2,222.7 258.0,222.4 258.9,222.0 259.7,221.7 260.5,221.3 261.4,221.0 262.2,220.8 263.0,220.7 263.8,220.8 264.7,220.8 265.5,220.9 266.3,221.1 267.2,221.3 268.0,221.5 268.8,221.7 269.6,221.9 270.5,222.3 271.3,222.7 272.1,223.2 273.0,223.8 273.8,224.4 274.6,225.2 275.5,226.1 276.3,227.4 277.1,229.5 277.9,232.0 279.3,243.4 279.8,256.7 280.3,220.1 280.7,250.0 281.3,244.9 281.9,269.6 282.6,245.7 283.1,261.8 283.6,235.5 284.2,255.8 284.8,238.7 285.3,274.0 285.8,229.1 286.4,261.6 287.0,242.0 287.5,254.7 288.0,235.0 288.7,278.2 289.3,228.5 290.4,266.2 291.2,267.5 292.0,268.7 292.9,269.9 293.7,271.0 294.5,272.0 295.4,272.9 296.2,273.7 297.0,274.3 297.8,274.7 298.7,274.9 299.5,275.2 300.3,275.3 301.2,275.5 302.0,275.7 302.8,275.8 303.6,275.8 304.5,275.9 305.3,275.8 306.1,275.6 307.0,275.4 307.8,275.1 308.6,274.8 309.5,274.4 310.3,274.0 311.1,273.6 311.9,273.0 312.8,272.4 313.6,271.7 314.4,270.8 315.3,269.9 316.1,269.0 316.9,268.0 317.7,267.0 318.6,266.0 319.4,265.0 320.2,264.1 321.1,263.1 321.9,262.2 322.7,261.3 323.5,260.3 324.4,259.2 325.2,258.2 326.0,257.2 326.9,256.1 327.7,255.2 328.5,254.3 329.4,253.5 330.2,252.7 331.0,252.1 331.8,251.6 332.7,251.1 333.5,250.6 334.3,250.1 335.2,249.7 336.0,249.3 336.8,248.9 337.6,248.5 338.5,248.2 339.3,248.0 340.1,247.8 341.0,247.7 341.8,247.6 342.6,247.6 343.4,247.7 344.3,247.8 345.1,247.9 345.9,248.0 346.8,248.1 347.6,248.3 348.4,248.5 349.3,248.6 350.1,248.8 350.9,249.0 351.7,249.2 352.6,249.4 353.4,249.7 354.2,250.0 355.1,250.3 355.9,250.6 356.7,250.9 357.5,251.2 358.4,251.6 359.2,251.9 360.0,252.2 360.9,252.6 361.7,252.9 362.5,253.3 363.3,253.7 364.2,254.1 365.0,254.6 365.8,255.0 366.7,255.4 367.5,255.8 368.3,256.2 369.2,256.6 370.0,256.9 370.8,257.2 371.6,257.4 372.5,257.6 373.3,257.8 374.1,258.0 375.0,258.2 375.8,258.3 376.6,258.5 377.4,258.7 378.3,259.0 379.1,259.3 380.1,67.8 380.6,154.5 381.2,71.5 381.6,175.9 382.3,75.9 382.7,118.7 383.1,76.3 383.4,110.7 383.8,71.8 384.4,156.5 384.8,67.4 385.2,213.9 385.6,67.2 386.1,175.6 386.7,69.3 387.0,178.8 387.6,69.0 388.1,125.4 388.6,77.8 390.4,121.3 391.9,117.4 393.4,136.6 395.0,164.0 396.5,206.6 398.2,283.9 399.0,284.7 399.8,285.5 400.7,286.2 401.5,286.7 402.3,287.1 403.2,287.3 404.0,287.4 404.8,287.3 405.6,286.9 406.5,286.5 407.3,285.8 408.1,285.1 409.0,284.3 409.8,283.6 410.6,282.8 411.4,282.0 412.3,281.4 413.1,280.9 413.9,280.5 414.8,280.3 415.6,280.3 416.4,280.4 417.2,280.4 418.1,280.5 418.9,280.6 419.7,280.7 420.6,280.8 421.4,281.0 422.2,281.2 423.1,281.6 423.9,282.0 424.7,282.5 425.5,283.0 426.4,283.4 427.2,283.9 428.0,284.3 428.9,284.6 429.7,284.9 430.5,285.0 431.3,285.0 432.2,284.9 433.0,284.7 433.8,284.5 434.7,284.1 435.5,283.7 436.3,283.3 437.1,282.8 438.0,282.3 438.8,281.7 439.6,281.2 440.5,280.6 441.3,280.1 442.1,279.5 443.0,279.0 443.8,278.6 444.6,278.1 445.4,277.8 446.3,277.4 447.1,277.1 447.9,276.7 448.8,276.4 449.6,276.0 450.4,275.6 451.2,275.3 452.1,274.9 452.9,274.6 453.7,274.3 454.6,274.1 455.4,273.8 456.2,273.6 457.0,273.5 457.9,273.4 458.7,273.3 459.5,273.4 460.4,273.8 461.2,274.5 462.0,275.2 462.9,276.0 463.7,276.8 464.5,277.4 465.3,278.1 466.2,278.9 467.0,279.6 467.8,280.4 468.7,281.0 469.5,281.6 470.3,282.0 471.1,282.3 472.0,282.6 472.8,282.8 473.6,283.1 474.5,283.3 475.3,283.5 476.1,283.7 476.9,283.8 477.8,284.0 478.6,284.2 479.4,284.3 480.3,284.5 481.1,284.6 481.9,284.7 482.8,284.9 483.6,285.0 484.4,285.2 485.2,285.4 486.1,285.6 486.9,285.7 487.7,286.0 488.6,286.2 489.4,286.4 490.2,286.6 491.0,286.8 491.9,287.0 492.7,287.3 493.5,287.5 494.4,287.7 495.2,287.9 496.0,288.2 496.9,288.4 497.7,287.0 498.5,289.9 499.3,289.2 500.2,289.5 501.0,288.6 501.8,288.5 502.7,291.5 503.5,291.0 504.3,289.8 505.1,291.0 506.0,292.2 506.8,289.5 507.6,290.2 508.5,290.4 509.3,291.7 510.1,290.2 510.9,291.8 511.8,290.5 512.6,292.9 513.4,293.1 514.3,292.1 515.1,293.4 515.9,292.1 516.8,292.8 517.6,294.4" stroke="#1f3a7c"/>
<polyline points="72.3,297.9 73.1,297.5 74.0,297.1 74.8,296.8 75.6,296.4 76.4,296.0 77.3,295.6 78.1,295.2 78.9,294.8 79.8,294.4 80.6,294.1 81.4,293.7 82.3,293.3 83.1,292.9 83.9,292.6 84.7,292.2 85.6,291.8 86.4,291.5 87.2,291.1 88.1,290.8 88.9,290.4 89.7,290.1 90.5,289.7 91.4,289.4 92.2,289.1 93.0,288.7 93.9,288.4 94.7,288.1 95.5,287.8 96.3,287.4 97.2,287.1 98.0,286.8 98.8,286.5 99.7,286.2 100.5,285.9 101.3,285.6 102.2,285.3 103.0,285.0 103.8,284.7 104.6,284.5 105.5,284.2 106.3,284.0 107.1,283.7 108.0,283.5 108.8,283.3 109.6,283.1 110.4,282.9 111.3,282.7 112.1,282.5 112.9,282.3 113.8,282.2 114.6,282.0 115.4,281.8 116.2,281.7 117.1,281.5 117.9,281.4 118.7,281.2 119.6,281.0 120.4,280.9 121.2,280.7 122.1,280.6 122.9,280.4 123.7,280.2 124.5,280.0 125.4,279.8 126.2,279.6 127.0,279.4 127.9,279.2 128.7,279.0 129.5,278.8 130.3,278.5 131.2,278.3 132.0,278.0 132.8,277.7 133.7,277.4 134.5,277.1 135.3,276.8 136.1,276.4 137.0,276.1 137.8,275.7 138.6,275.3 139.5,274.9 140.3,274.4 141.1,273.9 142.0,273.0 142.8,271.7 143.6,270.3 144.4,268.7 145.3,267.0 146.1,265.4 146.9,263.9 147.8,262.7 148.6,261.9 149.4,261.4 150.2,261.0 151.1,260.7 151.9,260.3 152.7,260.1 153.6,259.8 154.4,259.6 155.2,259.4 156.0,259.3 156.9,259.1 157.7,259.0 158.5,258.9 159.4,258.9 160.2,258.8 161.0,258.7 161.9,258.7 162.7,258.6 163.5,258.6 164.3,258.5 165.2,258.5 166.0,258.4 166.8,258.4 167.7,258.3 168.5,258.3 169.3,258.3 170.1,258.2 171.0,258.2 171.8,258.2 172.6,258.1 173.5,258.1 174.3,258.1 175.1,258.1 175.9,258.0 176.8,258.0 177.6,258.0 178.4,257.9 179.3,257.9 180.1,257.8 180.9,257.8 181.8,257.7 182.6,257.7 183.4,257.6 184.2,257.6 185.1,257.5 185.9,257.4 186.7,257.4 187.6,257.3 188.4,257.2 189.2,257.0 190.0,256.9 190.9,256.8 191.7,256.6 192.5,256.5 193.4,256.3 194.2,256.1 195.0,256.0 195.9,255.8 196.7,255.6 197.5,255.4 198.3,255.2 199.2,255.0 200.0,254.8 200.8,254.6 201.7,254.4 202.5,254.2 203.3,254.0 204.1,253.8 205.0,253.6 205.8,253.5 206.6,253.3 207.5,253.1 208.3,253.0 209.1,252.8 209.9,252.6 210.8,252.4 211.6,252.3 212.4,252.1 213.3,251.9 214.1,251.7 214.9,251.5 215.8,251.4 216.6,251.2 217.4,251.0 218.2,250.8 219.1,250.7 219.9,250.5 220.7,250.3 221.6,250.1 222.4,250.0 223.2,249.8 224.0,249.7 224.9,249.5 225.7,249.4 226.5,249.2 227.4,249.1 228.2,248.9 229.0,248.8 229.8,248.7 230.7,248.6 231.5,248.4 232.3,248.3 233.2,248.2 234.0,248.1 234.8,248.0 235.7,247.9 236.5,247.8 237.3,247.7 238.1,247.5 239.0,247.4 239.8,247.3 240.6,247.2 241.5,247.1 242.3,247.0 243.1,246.9 243.9,246.8 244.8,246.7 245.6,246.6 246.4,246.5 247.3,246.4 248.1,246.3 248.9,246.2 249.7,246.0 250.6,245.9 251.4,245.8 252.2,245.6 253.1,245.5 253.9,245.3 254.7,245.2 255.6,245.1 256.4,244.9 257.2,244.8 258.0,244.6 258.9,244.5 259.7,244.3 260.5,244.2 261.4,244.1 262.2,244.0 263.0,243.8 263.8,243.7 264.7,243.7 265.5,243.6 266.3,243.5 267.2,243.5 268.0,243.4 268.8,243.4 269.6,243.4 270.5,243.5 271.3,243.6 272.1,243.7 273.0,243.9 273.8,244.1 274.6,244.3 275.5,244.5 276.3,244.7 277.1,244.9 277.9,245.0 279.4,243.0 280.0,253.4 280.7,252.0 281.3,256.0 281.8,242.6 282.2,244.1 282.8,242.5 283.2,245.3 283.7,252.8 284.1,251.6 284.5,245.3 285.0,248.2 285.5,245.0 286.0,250.4 286.4,240.2 287.0,244.5 287.5,247.6 288.0,247.0 288.4,255.1 289.0,241.1 289.3,240.9 290.4,244.4 291.2,244.3 292.0,244.3 292.9,244.2 293.7,244.2 294.5,244.2 295.4,244.3 296.2,244.5 297.0,244.8 297.8,245.1 298.7,245.4 299.5,245.8 300.3,246.2 301.2,246.6 302.0,247.0 302.8,247.3 303.6,247.6 304.5,247.9 305.3,248.1 306.1,248.2 307.0,248.2 307.8,248.1 308.6,247.9 309.5,247.6 310.3,247.3 311.1,246.9 311.9,246.4 312.8,245.9 313.6,245.4 314.4,244.8 315.3,244.3 316.1,243.7 316.9,243.1 317.7,242.6 318.6,242.0 319.4,241.5 320.2,241.1 321.1,240.7 321.9,240.3 322.7,240.1 323.5,239.9 324.4,239.7 325.2,239.5 326.0,239.3 326.9,239.2 327.7,239.0 328.5,238.8 329.4,238.7 330.2,238.5 331.0,238.4 331.8,238.2 332.7,238.1 333.5,238.0 334.3,237.9 335.2,237.7 336.0,237.6 336.8,237.5 337.6,237.4 338.5,237.3 339.3,237.2 340.1,237.1 341.0,237.0 341.8,236.9 342.6,236.9 343.4,236.8 344.3,236.7 345.1,236.6 345.9,236.6 346.8,236.5 347.6,236.5 348.4,236.4 349.3,236.3 350.1,236.3 350.9,236.2 351.7,236.2 352.6,236.1 353.4,236.1 354.2,236.0 355.1,236.0 355.9,235.9 356.7,235.9 357.5,235.8 358.4,235.8 359.2,235.8 360.0,235.7 360.9,235.7 361.7,235.7 362.5,235.6 363.3,235.6 364.2,235.6 365.0,235.6 365.8,235.5 366.7,235.5 367.5,235.5 368.3,235.5 369.2,235.5 370.0,235.6 370.8,235.8 371.6,236.0 372.5,236.3 373.3,236.6 374.1,237.0 375.0,237.3 375.8,237.6 376.6,237.9 377.4,238.1 378.3,238.2 379.1,238.2 380.0,77.1 380.5,180.2 381.1,64.3 381.5,94.7 382.2,73.1 382.5,167.4 382.8,67.2 383.2,189.2 383.7,65.6 384.1,101.3 384.6,68.8 384.9,113.4 385.5,71.8 386.1,192.1 386.5,72.3 388.4,111.7 390.3,117.0 392.2,127.2 394.1,154.2 396.0,174.2 398.2,237.9 399.0,237.9 399.8,237.9 400.7,237.8 401.5,237.8 402.3,237.6 403.2,237.4 404.0,237.2 404.8,236.9 405.6,236.6 406.5,236.3 407.3,235.8 408.1,235.2 409.0,234.5 409.8,233.8 410.6,233.1 411.4,232.3 412.3,231.6 413.1,230.9 413.9,230.3 414.8,229.8 415.6,229.4 416.4,229.1 417.2,228.8 418.1,228.5 418.9,228.2 419.7,228.0 420.6,227.7 421.4,227.5 422.2,227.2 423.1,227.0 423.9,226.8 424.7,226.6 425.5,226.4 426.4,226.2 427.2,226.0 428.0,225.8 428.9,225.5 429.7,225.3 430.5,225.1 431.3,224.8 432.2,224.6 433.0,224.4 433.8,224.2 434.7,224.0 435.5,223.8 436.3,223.6 437.1,223.5 438.0,223.4 438.8,223.3 439.6,223.3 440.5,223.3 441.3,223.4 442.1,223.5 443.0,223.8 443.8,224.0 444.6,224.4 445.4,224.7 446.3,225.1 447.1,225.5 447.9,225.9 448.8,226.3 449.6,226.6 450.4,227.1 451.2,227.6 452.1,228.3 452.9,228.9 453.7,229.5 454.6,230.1 455.4,230.5 456.2,230.8 457.0,230.8 457.9,230.8 458.7,230.6 459.5,230.4 460.4,230.2 461.2,230.0 462.0,229.7 462.9,229.4 463.7,229.2 464.5,229.0 465.3,228.9 466.2,228.9 467.0,228.9 467.8,228.9 468.7,228.9 469.5,228.9 470.3,228.9 471.1,228.9 472.0,229.0 472.8,229.0 473.6,229.0 474.5,229.0 475.3,229.1 476.1,229.1 476.9,229.1 477.8,229.2 478.6,229.2 479.4,229.3 480.3,229.3 481.1,229.3 481.9,229.4 482.8,229.4 483.6,229.5 484.4,229.6 485.2,229.7 486.1,229.8 486.9,229.9 487.7,230.0 488.6,230.1 489.4,230.2 490.2,230.4 491.0,230.5 491.9,230.6 492.7,230.8 493.5,230.9 494.4,231.0 495.2,231.1 496.0,231.2 496.9,231.3 497.7,230.5 498.5,232.7 499.3,231.7 500.2,230.6 501.0,231.5 501.8,231.8 502.7,230.4 503.5,233.1 504.3,232.5 505.1,233.5 506.0,232.3 506.8,240.2 507.6,241.4 508.5,233.7 509.3,236.9 510.1,237.0 510.9,231.4 511.8,241.0 512.6,232.1 513.4,238.0 514.3,240.8 515.1,234.4 515.9,154.7 516.8,276.8 517.6,310.6" stroke="#a8682a"/>
<polyline points="72.3,316.1 73.1,315.7 74.0,315.3 74.8,314.9 75.6,314.4 76.4,314.0 77.3,313.6 78.1,313.2 78.9,312.8 79.8,312.4 80.6,312.0 81.4,311.6 82.3,311.2 83.1,310.8 83.9,310.4 84.7,310.0 85.6,309.7 86.4,309.3 87.2,308.9 88.1,308.5 88.9,308.2 89.7,307.8 90.5,307.4 91.4,307.1 92.2,306.7 93.0,306.4 93.9,306.0 94.7,305.7 95.5,305.3 96.3,305.0 97.2,304.7 98.0,304.3 98.8,304.0 99.7,303.7 100.5,303.4 101.3,303.0 102.2,302.7 103.0,302.4 103.8,302.1 104.6,301.8 105.5,301.6 106.3,301.3 107.1,301.0 108.0,300.8 108.8,300.5 109.6,300.3 110.4,300.0 111.3,299.8 112.1,299.6 112.9,299.4 113.8,299.2 114.6,299.0 115.4,298.8 116.2,298.6 117.1,298.3 117.9,298.1 118.7,297.9 119.6,297.7 120.4,297.5 121.2,297.3 122.1,297.1 122.9,296.9 123.7,296.7 124.5,296.5 125.4,296.3 126.2,296.1 127.0,295.9 127.9,295.6 128.7,295.4 129.5,295.2 130.3,294.9 131.2,294.7 132.0,294.4 132.8,294.1 133.7,293.8 134.5,293.5 135.3,293.2 136.1,292.9 137.0,292.6 137.8,292.2 138.6,291.9 139.5,291.5 140.3,291.1 141.1,290.7 142.0,290.2 142.8,289.5 143.6,288.8 144.4,288.0 145.3,287.2 146.1,286.4 146.9,285.8 147.8,285.2 148.6,284.8 149.4,284.6 150.2,284.4 151.1,284.2 151.9,284.0 152.7,283.9 153.6,283.8 154.4,283.7 155.2,283.6 156.0,283.5 156.9,283.4 157.7,283.4 158.5,283.3 159.4,283.3 160.2,283.3 161.0,283.2 161.9,283.2 162.7,283.2 163.5,283.1 164.3,283.1 165.2,283.1 166.0,283.1 166.8,283.1 167.7,283.0 168.5,283.0 169.3,283.0 170.1,283.0 171.0,283.0 171.8,283.0 172.6,283.0 173.5,282.9 174.3,282.9 175.1,282.9 175.9,282.9 176.8,282.9 177.6,282.9 178.4,282.9 179.3,282.8 180.1,282.8 180.9,282.8 181.8,282.8 182.6,282.7 183.4,282.7 184.2,282.7 185.1,282.6 185.9,282.6 186.7,282.5 187.6,282.5 188.4,282.4 189.2,282.3 190.0,282.2 190.9,282.0 191.7,281.9 192.5,281.7 193.4,281.5 194.2,281.3 195.0,281.1 195.9,280.9 196.7,280.7 197.5,280.4 198.3,280.2 199.2,280.0 200.0,279.7 200.8,279.5 201.7,279.3 202.5,279.0 203.3,278.8 204.1,278.6 205.0,278.4 205.8,278.2 206.6,278.0 207.5,277.8 208.3,277.6 209.1,277.4 209.9,277.2 210.8,277.0 211.6,276.8 212.4,276.6 213.3,276.4 214.1,276.2 214.9,276.0 215.8,275.8 216.6,275.6 217.4,275.4 218.2,275.2 219.1,275.0 219.9,274.8 220.7,274.6 221.6,274.4 222.4,274.3 223.2,274.1 224.0,273.9 224.9,273.7 225.7,273.6 226.5,273.4 227.4,273.2 228.2,273.1 229.0,272.9 229.8,272.8 230.7,272.7 231.5,272.5 232.3,272.4 233.2,272.3 234.0,272.1 234.8,272.0 235.7,271.9 236.5,271.8 237.3,271.6 238.1,271.5 239.0,271.4 239.8,271.3 240.6,271.2 241.5,271.1 242.3,270.9 243.1,270.8 243.9,270.7 244.8,270.6 245.6,270.5 246.4,270.3 247.3,270.2 248.1,270.1 248.9,270.0 249.7,269.8 250.6,269.7 251.4,269.5 252.2,269.4 253.1,269.2 253.9,269.1 254.7,268.9 255.6,268.7 256.4,268.6 257.2,268.4 258.0,268.2 258.9,268.1 259.7,267.9 260.5,267.8 261.4,267.6 262.2,267.5 263.0,267.4 263.8,267.3 264.7,267.2 265.5,267.1 266.3,267.0 267.2,267.0 268.0,266.9 268.8,266.9 269.6,266.9 270.5,266.9 271.3,267.0 272.1,267.0 273.0,267.1 273.8,267.2 274.6,267.3 275.5,267.4 276.3,267.5 277.1,267.6 277.9,267.8 279.3,288.5 279.8,285.7 280.4,275.3 281.0,284.2 281.5,277.2 282.1,288.5 282.7,283.9 283.1,276.0 283.6,271.7 284.2,286.8 284.6,271.3 285.1,287.0 285.5,263.3 286.0,269.7 286.5,271.2 287.1,295.6 287.7,271.3 288.3,281.1 288.7,268.1 289.1,287.3 290.4,285.3 291.2,286.6 292.0,287.6 292.9,288.4 293.7,289.0 294.5,289.2 295.4,289.4 296.2,289.6 297.0,289.8 297.8,290.0 298.7,290.2 299.5,290.3 300.3,290.4 301.2,290.6 302.0,290.7 302.8,290.8 303.6,290.8 304.5,290.9 305.3,290.9 306.1,290.9 307.0,290.9 307.8,290.8 308.6,290.5 309.5,290.1 310.3,289.6 311.1,289.1 311.9,288.4 312.8,287.7 313.6,287.0 314.4,286.2 315.3,285.3 316.1,284.5 316.9,283.7 317.7,282.9 318.6,282.2 319.4,281.5 320.2,280.8 321.1,280.2 321.9,279.7 322.7,279.4 323.5,279.1 324.4,278.8 325.2,278.5 326.0,278.3 326.9,278.0 327.7,277.8 328.5,277.6 329.4,277.3 330.2,277.1 331.0,276.9 331.8,276.7 332.7,276.5 333.5,276.3 334.3,276.1 335.2,275.9 336.0,275.7 336.8,275.6 337.6,275.4 338.5,275.3 339.3,275.1 340.1,275.0 341.0,274.9 341.8,274.7 342.6,274.6 343.4,274.5 344.3,274.4 345.1,274.4 345.9,274.3 346.8,274.2 347.6,274.2 348.4,274.2 349.3,274.1 350.1,274.1 350.9,274.1 351.7,274.0 352.6,274.0 353.4,274.0 354.2,273.9 355.1,273.9 355.9,273.9 356.7,273.8 357.5,273.8 358.4,273.8 359.2,273.8 360.0,273.8 360.9,273.7 361.7,273.7 362.5,273.7 363.3,273.7 364.2,273.7 365.0,273.7 365.8,273.7 366.7,273.7 367.5,273.6 368.3,273.6 369.2,273.6 370.0,273.7 370.8,273.7 371.6,273.8 372.5,273.9 373.3,274.1 374.1,274.2 375.0,274.3 375.8,274.5 376.6,274.7 377.4,274.9 378.3,275.1 379.1,275.2 379.9,275.5 380.5,30.9 381.1,46.0 381.7,30.9 382.1,115.4 382.5,30.9 382.9,60.9 383.6,30.9 383.9,164.9 384.3,30.9 384.8,134.2 385.3,30.9 385.9,159.9 386.4,30.9 389.3,108.2 391.8,103.9 394.3,123.1 396.8,141.6 399.3,202.8 402.3,288.0 403.2,288.1 404.0,288.2 404.8,288.1 405.6,288.1 406.5,288.0 407.3,287.9 408.1,287.8 409.0,287.7 409.8,287.6 410.6,287.4 411.4,287.2 412.3,287.1 413.1,286.9 413.9,286.7 414.8,286.5 415.6,286.2 416.4,285.8 417.2,285.4 418.1,284.8 418.9,284.2 419.7,283.6 420.6,282.9 421.4,282.2 422.2,281.4 423.1,280.6 423.9,279.8 424.7,279.0 425.5,278.2 426.4,277.4 427.2,276.6 428.0,275.8 428.9,275.1 429.7,274.4 430.5,273.8 431.3,273.2 432.2,272.7 433.0,272.2 433.8,271.9 434.7,271.6 435.5,271.4 436.3,271.3 437.1,271.1 438.0,270.9 438.8,270.8 439.6,270.6 440.5,270.5 441.3,270.3 442.1,270.2 443.0,270.1 443.8,269.9 444.6,269.8 445.4,269.7 446.3,269.6 447.1,269.5 447.9,269.4 448.8,269.3 449.6,269.2 450.4,269.1 451.2,269.0 452.1,268.9 452.9,268.9 453.7,268.8 454.6,268.7 455.4,268.7 456.2,268.7 457.0,268.6 457.9,268.6 458.7,268.6 459.5,268.6 460.4,268.6 461.2,268.6 462.0,268.6 462.9,268.7 463.7,268.7 464.5,268.8 465.3,268.9 466.2,269.0 467.0,269.1 467.8,269.2 468.7,269.3 469.5,269.4 470.3,269.5 471.1,269.6 472.0,269.8 472.8,269.9 473.6,270.0 474.5,270.1 475.3,270.2 476.1,270.3 476.9,270.4 477.8,270.5 478.6,270.6 479.4,270.7 480.3,270.7 481.1,270.8 481.9,270.9 482.8,271.0 483.6,271.1 484.4,271.2 485.2,271.2 486.1,271.3 486.9,271.4 487.7,271.5 488.6,271.6 489.4,271.7 490.2,271.8 491.0,271.9 491.9,272.0 492.7,272.1 493.5,272.2 494.4,272.3 495.2,272.4 496.0,272.5 496.9,272.6 497.7,274.0 498.5,272.9 499.3,272.0 500.2,274.3 501.0,273.6 501.8,272.7 502.7,274.8 503.5,273.6 504.3,275.2 505.1,272.9 506.0,271.7 506.8,272.2 507.6,274.9 508.5,274.1 509.3,275.0 510.1,275.2 510.9,273.8 511.8,277.2 512.6,274.7 513.4,276.2 514.3,274.8 515.1,276.4 515.9,277.6 516.8,276.7 517.6,276.5" stroke="#a6a6a6"/>
<polyline points="72.3,297.1 73.1,297.1 74.0,297.0 74.8,297.0 75.6,296.9 76.4,296.9 77.3,296.8 78.1,296.8 78.9,296.7 79.8,296.6 80.6,296.5 81.4,296.5 82.3,296.4 83.1,296.3 83.9,296.2 84.7,296.1 85.6,296.0 86.4,295.9 87.2,295.8 88.1,295.7 88.9,295.6 89.7,295.5 90.5,295.3 91.4,295.2 92.2,295.0 93.0,294.9 93.9,294.7 94.7,294.5 95.5,294.4 96.3,294.2 97.2,294.0 98.0,293.9 98.8,293.7 99.7,293.5 100.5,293.2 101.3,293.0 102.2,292.8 103.0,292.6 103.8,292.4 104.6,292.2 105.5,292.0 106.3,291.9 107.1,291.7 108.0,291.6 108.8,291.5 109.6,291.4 110.4,291.3 111.3,291.2 112.1,291.1 112.9,291.1 113.8,291.0 114.6,291.0 115.4,291.0 116.2,291.0 117.1,291.0 117.9,291.0 118.7,291.0 119.6,291.0 120.4,291.0 121.2,291.1 122.1,291.1 122.9,291.1 123.7,291.1 124.5,291.2 125.4,291.2 126.2,291.2 127.0,291.3 127.9,291.3 128.7,291.3 129.5,291.4 130.3,291.4 131.2,291.4 132.0,291.4 132.8,291.5 133.7,291.5 134.5,291.5 135.3,291.6 136.1,291.6 137.0,291.7 137.8,291.8 138.6,292.0 139.5,292.2 140.3,292.3 141.1,292.2 142.0,291.2 142.8,289.3 143.6,286.8 144.4,283.7 145.3,279.3 146.1,269.6 146.9,256.6 147.8,243.4 148.6,233.3 149.4,228.3 150.2,224.5 151.1,221.1 151.9,218.1 152.7,215.5 153.6,213.2 154.4,211.2 155.2,209.5 156.0,208.1 156.9,206.9 157.7,206.0 158.5,205.3 159.4,204.5 160.2,203.9 161.0,203.3 161.9,202.8 162.7,202.3 163.5,201.9 164.3,201.6 165.2,201.3 166.0,201.0 166.8,200.7 167.7,200.5 168.5,200.2 169.3,200.0 170.1,199.7 171.0,199.5 171.8,199.3 172.6,199.1 173.5,198.9 174.3,198.7 175.1,198.5 175.9,198.4 176.8,198.2 177.6,198.1 178.4,197.9 179.3,197.8 180.1,197.7 180.9,197.6 181.8,197.4 182.6,197.4 183.4,197.3 184.2,197.2 185.1,197.1 185.9,197.1 186.7,197.0 187.6,197.0 188.4,196.9 189.2,196.9 190.0,196.8 190.9,196.8 191.7,196.8 192.5,196.8 193.4,196.7 194.2,196.7 195.0,196.8 195.9,197.1 196.7,197.7 197.5,198.4 198.3,199.1 199.2,199.6 200.0,199.7 200.8,199.8 201.7,199.8 202.5,199.9 203.3,199.9 204.1,199.9 205.0,199.9 205.8,199.9 206.6,200.0 207.5,199.9 208.3,199.8 209.1,199.5 209.9,199.1 210.8,198.6 211.6,198.0 212.4,197.4 213.3,196.8 214.1,196.2 214.9,195.7 215.8,195.2 216.6,194.7 217.4,194.1 218.2,193.6 219.1,193.0 219.9,192.4 220.7,191.9 221.6,191.4 222.4,191.0 223.2,190.6 224.0,190.2 224.9,189.9 225.7,189.6 226.5,189.3 227.4,189.1 228.2,188.9 229.0,188.9 229.8,189.1 230.7,189.4 231.5,189.9 232.3,190.5 233.2,191.1 234.0,192.1 234.8,193.4 235.7,194.9 236.5,196.4 237.3,198.0 238.1,200.0 239.0,202.3 239.8,204.5 240.6,206.2 241.5,207.0 242.3,207.6 243.1,208.1 243.9,208.5 244.8,208.9 245.6,209.2 246.4,209.4 247.3,209.6 248.1,209.6 248.9,209.6 249.7,209.6 250.6,209.4 251.4,209.1 252.2,208.8 253.1,208.5 253.9,208.1 254.7,207.8 255.6,207.4 256.4,207.1 257.2,206.7 258.0,206.3 258.9,205.8 259.7,205.3 260.5,204.9 261.4,204.5 262.2,204.2 263.0,204.1 263.8,204.2 264.7,204.2 265.5,204.4 266.3,204.6 267.2,204.8 268.0,205.1 268.8,205.4 269.6,205.7 270.5,206.1 271.3,206.6 272.1,207.3 273.0,208.0 273.8,208.9 274.6,209.9 275.5,211.0 276.3,212.6 277.1,214.7 277.9,217.3 279.3,271.7 279.9,222.6 280.5,259.5 281.0,225.6 281.6,257.1 282.2,236.4 282.7,246.1 283.2,226.4 283.9,284.1 284.4,254.3 284.8,259.8 285.3,241.4 285.9,255.9 286.4,252.6 287.1,281.5 287.7,233.9 288.1,246.0 288.5,226.0 288.9,269.0 289.5,220.0 290.4,276.6 291.2,277.8 292.0,278.9 292.9,279.9 293.7,280.8 294.5,281.6 295.4,282.3 296.2,282.8 297.0,283.2 297.8,283.6 298.7,283.8 299.5,283.9 300.3,284.1 301.2,284.2 302.0,284.4 302.8,284.4 303.6,284.5 304.5,284.5 305.3,284.5 306.1,284.4 307.0,284.2 307.8,283.9 308.6,283.6 309.5,283.3 310.3,283.0 311.1,282.6 311.9,282.0 312.8,281.3 313.6,280.4 314.4,279.4 315.3,278.3 316.1,277.1 316.9,275.8 317.7,274.6 318.6,273.3 319.4,272.1 320.2,270.9 321.1,269.8 321.9,268.7 322.7,267.6 323.5,266.4 324.4,265.2 325.2,264.0 326.0,262.8 326.9,261.7 327.7,260.6 328.5,259.5 329.4,258.6 330.2,257.7 331.0,257.0 331.8,256.4 332.7,255.9 333.5,255.3 334.3,254.7 335.2,254.2 336.0,253.7 336.8,253.3 337.6,252.9 338.5,252.5 339.3,252.2 340.1,252.0 341.0,251.9 341.8,251.8 342.6,251.8 343.4,251.9 344.3,252.0 345.1,252.1 345.9,252.2 346.8,252.3 347.6,252.5 348.4,252.6 349.3,252.8 350.1,252.9 350.9,253.1 351.7,253.3 352.6,253.5 353.4,253.8 354.2,254.0 355.1,254.3 355.9,254.6 356.7,254.9 357.5,255.2 358.4,255.6 359.2,255.9 360.0,256.2 360.9,256.5 361.7,256.8 362.5,257.2 363.3,257.6 364.2,258.0 365.0,258.4 365.8,258.8 366.7,259.2 367.5,259.6 368.3,259.9 369.2,260.3 370.0,260.6 370.8,260.9 371.6,261.1 372.5,261.3 373.3,261.5 374.1,261.6 375.0,261.8 375.8,262.0 376.6,262.1 377.4,262.3 378.3,262.6 379.1,262.9 379.9,263.3 380.6,30.9 381.3,119.7 382.0,30.9 382.7,204.4 383.3,30.9 383.7,161.2 384.3,30.9 384.9,211.6 385.3,30.9 386.0,124.9 386.5,30.9 387.1,166.9 387.4,30.9 389.8,102.3 392.0,115.3 394.3,121.9 396.5,152.7 398.7,205.2 401.5,298.6 402.3,299.1 403.2,299.4 404.0,299.5 404.8,299.4 405.6,299.2 406.5,298.9 407.3,298.4 408.1,297.9 409.0,297.4 409.8,296.8 410.6,296.3 411.4,295.8 412.3,295.3 413.1,295.0 413.9,294.7 414.8,294.6 415.6,294.6 416.4,294.6 417.2,294.7 418.1,294.7 418.9,294.8 419.7,294.8 420.6,294.9 421.4,295.0 422.2,295.2 423.1,295.5 423.9,295.8 424.7,296.1 425.5,296.4 426.4,296.8 427.2,297.1 428.0,297.3 428.9,297.6 429.7,297.8 430.5,297.8 431.3,297.9 432.2,297.8 433.0,297.7 433.8,297.5 434.7,297.3 435.5,297.1 436.3,296.9 437.1,296.6 438.0,296.3 438.8,296.0 439.6,295.7 440.5,295.4 441.3,295.2 442.1,294.9 443.0,294.7 443.8,294.5 444.6,294.4 445.4,294.3 446.3,294.2 447.1,294.1 447.9,294.0 448.8,294.0 449.6,293.9 450.4,293.8 451.2,293.8 452.1,293.7 452.9,293.7 453.7,293.6 454.6,293.6 455.4,293.5 456.2,293.5 457.0,293.5 457.9,293.5 458.7,293.5 459.5,293.5 460.4,293.8 461.2,294.2 462.0,294.7 462.9,295.2 463.7,295.6 464.5,296.0 465.3,296.5 466.2,297.0 467.0,297.4 467.8,297.9 468.7,298.3 469.5,298.6 470.3,298.9 471.1,299.1 472.0,299.2 472.8,299.4 473.6,299.6 474.5,299.7 475.3,299.8 476.1,299.9 476.9,300.0 477.8,300.2 478.6,300.2 479.4,300.3 480.3,300.4 481.1,300.5 481.9,300.6 482.8,300.7 483.6,300.8 484.4,300.9 485.2,301.0 486.1,301.1 486.9,301.2 487.7,301.4 488.6,301.5 489.4,301.6 490.2,301.8 491.0,301.9 491.9,302.1 492.7,302.2 493.5,302.3 494.4,302.5 495.2,302.6 496.0,302.8 496.9,302.9 497.7,303.0 498.5,303.1 499.3,303.6 500.2,305.5 501.0,303.8 501.8,306.2 502.7,303.4 503.5,304.7 504.3,304.8 505.1,304.4 506.0,303.9 506.8,305.9 507.6,306.4 508.5,305.7 509.3,306.9 510.1,305.8 510.9,303.1 511.8,306.2 512.6,304.4 513.4,306.8 514.3,305.0 515.1,305.9 515.9,305.8 516.8,305.2 517.6,304.0" stroke="#7a6a10"/>
<polyline points="72.0,281.0 74.7,279.7 78.5,277.8 82.7,275.5 86.4,272.7 89.4,269.1 92.2,264.9 94.7,260.6 97.0,257.0 99.0,254.3 100.7,252.3 102.3,250.3 104.0,248.0 105.9,245.4 107.9,242.8 110.0,239.8 112.0,236.0 114.0,231.0 115.9,225.2 117.9,219.2 120.0,214.0 122.3,209.5 124.8,205.3 127.1,201.7 129.0,199.0 130.3,197.4 131.1,196.8 131.9,196.6 133.0,196.0 134.5,195.1 136.2,194.1 138.1,192.9 140.0,191.5 142.1,189.6 144.3,187.3 146.6,185.0 148.8,183.4 150.9,182.7 153.0,182.5 155.2,182.4 157.6,182.0 160.3,181.0 163.2,179.6 166.3,178.3 169.4,177.5 172.7,177.4 176.2,177.9 179.6,178.3 182.6,178.2 185.1,177.3 187.2,176.0 189.1,174.5 190.7,173.0 191.9,171.4 192.7,169.6 193.4,168.0 194.4,167.2 195.7,167.4 197.2,168.4 198.7,169.6 200.3,170.6 201.8,171.4 203.4,172.2 205.0,172.8 206.6,173.0 208.1,172.6 209.7,171.7 211.3,170.6 213.2,169.7 215.5,169.0 218.2,168.3 220.9,167.6 223.2,166.8 225.2,165.9 226.9,165.0 228.5,163.9 229.8,162.3 230.9,159.7 231.7,156.4 232.4,153.4 233.1,151.5 233.8,151.4 234.3,152.5 234.9,153.9 235.6,154.8 236.4,154.9 237.3,154.7 238.1,154.5 238.9,154.8 239.4,155.8 239.8,157.3 240.4,158.7 241.4,159.8 243.0,160.3 244.9,160.4 247.1,160.4 249.7,160.6 252.8,161.0 256.5,161.5 260.1,162.0 262.9,162.3 264.7,162.4 265.8,162.4 266.7,162.1 267.9,161.5 269.5,160.4 271.3,158.9 273.0,157.3 274.5,155.7 275.6,154.3 276.5,153.1 277.2,151.6 277.8,149.9 278.3,148.1 278.8,146.2 279.1,143.6 279.5,140.0 279.9,135.5 280.2,130.3 280.6,123.6 281.0,115.0 281.4,101.9 281.8,85.6 282.2,70.4 282.7,61.0 283.2,59.4 283.7,62.8 284.3,68.9 285.0,75.0 285.8,81.1 286.7,88.4 287.7,96.2 288.7,104.0 289.7,112.5 290.7,121.6 291.8,130.0 293.0,136.0 294.4,138.7 296.0,139.1 297.6,138.7 299.0,138.8 300.2,139.7 301.2,140.6 302.2,141.8 303.3,143.2 304.4,145.2 305.5,147.6 306.9,150.1 309.0,152.0 312.0,153.3 315.8,154.3 319.8,155.1 323.6,155.7 327.2,156.3 330.8,156.7 334.4,157.0 338.0,157.0 341.7,156.7 345.5,156.2 349.2,155.5 352.7,154.8 356.0,154.2 359.1,153.7 361.9,153.0 364.3,152.0 366.1,151.1 367.5,150.2 368.7,148.4 370.0,144.7 371.5,138.6 373.2,130.6 374.7,121.7 376.0,112.7 377.0,103.4 377.8,93.6 378.4,83.9 379.0,75.0 379.3,66.7 379.5,58.6 379.7,51.8 380.3,47.0 381.5,44.0 383.0,42.6 384.7,43.4 386.0,47.0 386.9,55.5 387.7,67.9 388.3,80.5 389.0,89.4 389.7,92.6 390.4,92.3 391.2,91.8 392.0,93.8 393.0,100.3 394.1,109.2 395.2,118.1 396.3,124.3 397.3,126.5 398.3,126.2 399.2,125.4 400.0,126.3 400.5,129.5 400.9,133.9 401.3,138.6 402.0,143.0 403.1,147.1 404.4,151.4 405.9,155.0 407.4,157.3 409.1,157.7 410.9,156.6 412.6,155.2 414.0,154.5 414.7,155.0 414.9,156.1 415.2,157.0 416.0,157.0 417.4,155.7 419.1,153.5 421.3,151.1 424.0,149.0 427.8,147.3 432.5,145.7 437.0,144.4 440.6,143.7 442.6,143.4 443.6,143.5 444.5,144.3 446.0,146.0 448.6,149.5 451.7,154.5 455.0,159.2 457.8,162.0 460.2,162.1 462.3,160.6 464.2,158.5 466.0,157.0 467.7,156.4 469.1,155.9 470.6,155.8 472.0,156.0 473.5,156.6 475.1,157.7 476.6,158.9 478.0,160.0 479.3,161.2 480.6,162.5 481.8,163.6 483.0,164.0 484.1,163.5 485.1,162.4 486.1,161.0 487.0,160.0 487.8,159.2 488.5,158.6 489.2,158.1 490.0,158.0 491.0,158.5 492.0,159.5 493.0,160.4 494.0,161.0 494.8,160.8 495.6,160.2 496.3,159.6 497.0,159.5 497.6,160.2 498.1,161.5 498.5,162.6 499.0,163.0 499.5,162.1 500.0,160.3 500.5,158.7 501.0,158.0 501.5,159.0 502.0,160.9 502.5,162.9 503.0,164.0 503.5,163.5 504.0,162.0 504.5,160.5 505.0,160.0 505.4,161.1 505.8,163.1 506.1,165.1 506.5,166.0 506.9,165.1 507.2,163.1 507.6,161.0 508.0,160.0 508.4,160.7 508.8,162.5 509.1,164.3 509.5,165.0 509.9,164.0 510.2,162.0 510.6,160.0 511.0,159.0 511.4,159.7 511.8,161.5 512.1,163.3 512.5,164.0 512.9,163.0 513.2,161.1 513.6,159.1 514.0,158.0 514.4,158.7 514.8,160.3 515.2,161.8 515.5,162.0 515.8,159.9 516.0,156.5 516.3,152.9 516.5,150.6 516.8,150.1 517.1,150.6 517.3,151.4 517.5,152.0" stroke="#2a3a8c"/>
<polyline points="72.3,306.6 73.1,306.6 74.0,306.6 74.8,306.5 75.6,306.5 76.4,306.4 77.3,306.3 78.1,306.3 78.9,306.1 79.8,306.0 80.6,305.9 81.4,305.7 82.3,305.6 83.1,305.4 83.9,305.2 84.7,305.0 85.6,304.8 86.4,304.5 87.2,304.3 88.1,304.0 88.9,303.7 89.7,303.4 90.5,303.1 91.4,302.8 92.2,302.5 93.0,302.1 93.9,301.6 94.7,300.8 95.5,299.8 96.3,298.7 97.2,297.3 98.0,295.9 98.8,294.5 99.7,293.0 100.5,291.2 101.3,289.2 102.2,287.1 103.0,285.1 103.8,283.1 104.6,281.1 105.5,279.0 106.3,276.8 107.1,274.8 108.0,272.7 108.8,270.8 109.6,269.1 110.4,267.5 111.3,266.1 112.1,264.8 112.9,263.7 113.8,262.5 114.6,261.5 115.4,260.5 116.2,259.7 117.1,258.9 117.9,258.1 118.7,257.5 119.6,256.9 120.4,256.3 121.2,255.8 122.1,255.2 122.9,254.8 123.7,254.4 124.5,254.2 125.4,254.0 126.2,254.0 127.0,254.1 127.9,254.1 128.7,254.2 129.5,254.2 130.3,254.3 131.2,254.4 132.0,254.5 132.8,254.6 133.7,254.8 134.5,255.2 135.3,255.7 136.1,256.1 137.0,256.6 137.8,256.9 138.6,257.1 139.5,257.1 140.3,256.9 141.1,256.6 142.0,256.2 142.8,255.2 143.6,251.4 144.4,246.0 145.3,240.8 146.1,234.4 146.9,227.5 147.8,220.7 148.6,215.1 149.4,211.1 150.2,207.5 151.1,204.1 151.9,200.9 152.7,197.9 153.6,195.2 154.4,192.9 155.2,190.9 156.0,189.2 156.9,188.1 157.7,187.3 158.5,186.6 159.4,185.9 160.2,185.3 161.0,184.8 161.9,184.3 162.7,183.9 163.5,183.6 164.3,183.4 165.2,183.3 166.0,183.3 166.8,183.3 167.7,183.3 168.5,183.3 169.3,183.3 170.1,183.3 171.0,183.3 171.8,183.3 172.6,183.3 173.5,183.3 174.3,183.3 175.1,183.3 175.9,183.3 176.8,183.3 177.6,183.3 178.4,183.3 179.3,183.3 180.1,183.3 180.9,183.3 181.8,183.3 182.6,183.3 183.4,183.3 184.2,183.3 185.1,183.3 185.9,183.3 186.7,183.3 187.6,183.3 188.4,183.4 189.2,183.5 190.0,183.6 190.9,183.8 191.7,184.0 192.5,184.2 193.4,184.4 194.2,184.6 195.0,184.9 195.9,185.5 196.7,186.3 197.5,187.2 198.3,188.0 199.2,188.7 200.0,189.1 200.8,189.5 201.7,189.7 202.5,190.0 203.3,190.2 204.1,190.5 205.0,190.6 205.8,190.7 206.6,190.8 207.5,190.8 208.3,190.7 209.1,190.5 209.9,190.2 210.8,189.8 211.6,189.4 212.4,189.0 213.3,188.6 214.1,188.2 214.9,187.8 215.8,187.5 216.6,187.1 217.4,186.7 218.2,186.2 219.1,185.8 219.9,185.4 220.7,185.0 221.6,184.7 222.4,184.4 223.2,184.1 224.0,183.9 224.9,183.8 225.7,183.6 226.5,183.5 227.4,183.4 228.2,183.3 229.0,183.3 229.8,183.5 230.7,183.9 231.5,184.4 232.3,185.0 233.2,185.6 234.0,186.3 234.8,187.1 235.7,188.0 236.5,189.0 237.3,190.1 238.1,191.4 239.0,192.9 239.8,194.4 240.6,195.7 241.5,196.4 242.3,196.9 243.1,197.4 243.9,197.9 244.8,198.3 245.6,198.6 246.4,198.9 247.3,199.0 248.1,199.1 248.9,199.1 249.7,199.0 250.6,198.9 251.4,198.6 252.2,198.3 253.1,197.9 253.9,197.6 254.7,197.2 255.6,196.8 256.4,196.4 257.2,196.1 258.0,195.6 258.9,195.2 259.7,194.6 260.5,194.2 261.4,193.8 262.2,193.5 263.0,193.4 263.8,193.4 264.7,193.5 265.5,193.7 266.3,193.9 267.2,194.1 268.0,194.4 268.8,194.7 269.6,195.0 270.5,195.4 271.3,196.0 272.1,196.7 273.0,197.5 273.8,198.4 274.6,199.4 275.5,200.6 276.3,202.2 277.1,204.6 277.9,207.6 279.3,223.4 279.8,245.6 280.4,232.5 280.9,235.4 281.4,209.2 281.9,254.0 282.5,236.6 282.9,248.2 283.5,212.3 284.0,266.2 284.6,216.1 285.2,236.8 285.8,203.0 286.3,254.9 286.7,216.7 287.2,254.5 287.7,208.0 288.2,256.9 288.8,227.5 289.4,247.0 290.4,263.6 291.2,265.1 292.0,266.5 292.9,267.7 293.7,268.8 294.5,269.8 295.4,270.7 296.2,271.4 297.0,272.0 297.8,272.4 298.7,272.7 299.5,272.9 300.3,273.1 301.2,273.3 302.0,273.4 302.8,273.5 303.6,273.6 304.5,273.6 305.3,273.6 306.1,273.4 307.0,273.2 307.8,272.9 308.6,272.5 309.5,272.1 310.3,271.7 311.1,271.2 311.9,270.7 312.8,270.0 313.6,269.2 314.4,268.3 315.3,267.4 316.1,266.4 316.9,265.3 317.7,264.2 318.6,263.2 319.4,262.1 320.2,261.1 321.1,260.2 321.9,259.2 322.7,258.2 323.5,257.1 324.4,256.0 325.2,254.9 326.0,253.8 326.9,252.7 327.7,251.7 328.5,250.8 329.4,249.9 330.2,249.1 331.0,248.5 331.8,247.9 332.7,247.4 333.5,246.9 334.3,246.4 335.2,245.9 336.0,245.4 336.8,245.0 337.6,244.7 338.5,244.3 339.3,244.1 340.1,243.9 341.0,243.7 341.8,243.7 342.6,243.7 343.4,243.8 344.3,243.9 345.1,244.0 345.9,244.1 346.8,244.3 347.6,244.4 348.4,244.6 349.3,244.8 350.1,245.0 350.9,245.1 351.7,245.4 352.6,245.6 353.4,245.9 354.2,246.2 355.1,246.5 355.9,246.8 356.7,247.2 357.5,247.5 358.4,247.8 359.2,248.2 360.0,248.5 360.9,248.9 361.7,249.3 362.5,249.7 363.3,250.1 364.2,250.5 365.0,251.0 365.8,251.4 366.7,251.9 367.5,252.3 368.3,252.7 369.2,253.1 370.0,253.4 370.8,253.7 371.6,254.0 372.5,254.3 373.3,254.5 374.1,254.7 375.0,254.9 375.8,255.1 376.6,255.3 377.4,255.5 378.3,255.7 379.1,255.9 379.7,91.3 380.3,148.2 380.9,84.9 381.3,121.5 381.7,91.7 382.0,116.8 382.4,90.0 382.9,141.4 383.6,94.6 384.1,213.2 384.7,97.9 385.0,135.2 385.4,90.7 385.9,153.0 386.6,93.9 387.1,141.8 387.6,90.0 389.4,133.2 391.1,139.3 392.8,148.5 394.5,169.7 396.3,201.4 398.2,260.8 399.0,260.9 399.8,261.0 400.7,261.1 401.5,261.1 402.3,261.2 403.2,261.2 404.0,261.2 404.8,261.0 405.6,260.5 406.5,259.7 407.3,258.7 408.1,257.5 409.0,256.2 409.8,254.9 410.6,253.6 411.4,252.4 412.3,251.3 413.1,250.5 413.9,249.9 414.8,249.6 415.6,249.6 416.4,249.6 417.2,249.7 418.1,249.9 418.9,250.0 419.7,250.2 420.6,250.3 421.4,250.6 422.2,251.1 423.1,251.7 423.9,252.4 424.7,253.1 425.5,253.9 426.4,254.7 427.2,255.5 428.0,256.1 428.9,256.7 429.7,257.1 430.5,257.3 431.3,257.3 432.2,257.3 433.0,257.1 433.8,256.9 434.7,256.6 435.5,256.3 436.3,255.9 437.1,255.5 438.0,255.1 438.8,254.6 439.6,254.2 440.5,253.7 441.3,253.3 442.1,252.8 443.0,252.4 443.8,252.1 444.6,251.8 445.4,251.5 446.3,251.3 447.1,251.0 447.9,250.7 448.8,250.5 449.6,250.2 450.4,250.0 451.2,249.7 452.1,249.5 452.9,249.3 453.7,249.1 454.6,248.9 455.4,248.8 456.2,248.6 457.0,248.5 457.9,248.5 458.7,248.5 459.5,248.6 460.4,249.2 461.2,250.1 462.0,251.2 462.9,252.4 463.7,253.5 464.5,254.4 465.3,255.5 466.2,256.6 467.0,257.7 467.8,258.7 468.7,259.7 469.5,260.5 470.3,261.1 471.1,261.5 472.0,261.9 472.8,262.3 473.6,262.6 474.5,263.0 475.3,263.3 476.1,263.5 476.9,263.8 477.8,264.0 478.6,264.3 479.4,264.5 480.3,264.7 481.1,264.9 481.9,265.1 482.8,265.3 483.6,265.6 484.4,265.8 485.2,266.0 486.1,266.3 486.9,266.6 487.7,266.9 488.6,267.2 489.4,267.6 490.2,268.0 491.0,268.4 491.9,268.9 492.7,269.3 493.5,269.7 494.4,270.1 495.2,270.5 496.0,270.8 496.9,271.2 497.7,270.2 498.5,272.6 499.3,274.4 500.2,272.8 501.0,274.3 501.8,272.1 502.7,270.6 503.5,270.6 504.3,272.2 505.1,270.8 506.0,267.2 506.8,268.0 507.6,267.5 508.5,265.5 509.3,263.2 510.1,264.0 510.9,264.9 511.8,264.6 512.6,264.3 513.4,265.9 514.3,266.7 515.1,265.8 515.9,267.4 516.8,267.1 517.6,267.6" stroke="#3c5a20"/>
<polyline points="72.3,311.9 73.1,311.8 74.0,311.6 74.8,311.4 75.6,311.1 76.4,310.8 77.3,310.5 78.1,310.2 78.9,309.8 79.8,309.5 80.6,309.0 81.4,308.6 82.3,308.2 83.1,307.7 83.9,307.3 84.7,306.8 85.6,306.3 86.4,305.8 87.2,305.3 88.1,304.7 88.9,304.1 89.7,303.4 90.5,302.7 91.4,301.9 92.2,301.1 93.0,300.3 93.9,299.4 94.7,298.6 95.5,297.7 96.3,296.8 97.2,296.0 98.0,295.1 98.8,294.1 99.7,293.0 100.5,291.9 101.3,290.8 102.2,289.7 103.0,288.6 103.8,287.6 104.6,286.6 105.5,285.7 106.3,284.8 107.1,284.2 108.0,283.6 108.8,283.1 109.6,282.5 110.4,282.0 111.3,281.5 112.1,281.1 112.9,280.7 113.8,280.4 114.6,280.2 115.4,280.1 116.2,280.0 117.1,280.1 117.9,280.1 118.7,280.1 119.6,280.1 120.4,280.2 121.2,280.2 122.1,280.3 122.9,280.3 123.7,280.3 124.5,280.4 125.4,280.4 126.2,280.5 127.0,280.5 127.9,280.5 128.7,280.5 129.5,280.5 130.3,280.5 131.2,280.5 132.0,280.6 132.8,280.6 133.7,280.6 134.5,280.6 135.3,280.6 136.1,280.6 137.0,280.6 137.8,280.7 138.6,280.9 139.5,281.1 140.3,281.2 141.1,281.1 142.0,280.4 142.8,279.2 143.6,277.5 144.4,275.5 145.3,272.7 146.1,266.4 146.9,258.0 147.8,249.5 148.6,242.9 149.4,239.6 150.2,237.1 151.1,234.9 151.9,232.9 152.7,231.2 153.6,229.7 154.4,228.4 155.2,227.2 156.0,226.3 156.9,225.5 157.7,224.8 158.5,224.2 159.4,223.7 160.2,223.2 161.0,222.7 161.9,222.3 162.7,221.9 163.5,221.6 164.3,221.4 165.2,221.1 166.0,221.0 166.8,220.8 167.7,220.7 168.5,220.5 169.3,220.4 170.1,220.2 171.0,220.1 171.8,219.9 172.6,219.8 173.5,219.7 174.3,219.6 175.1,219.5 175.9,219.4 176.8,219.3 177.6,219.2 178.4,219.1 179.3,219.0 180.1,219.0 180.9,218.9 181.8,218.9 182.6,218.8 183.4,218.8 184.2,218.8 185.1,218.7 185.9,218.7 186.7,218.7 187.6,218.7 188.4,218.7 189.2,218.7 190.0,218.8 190.9,218.8 191.7,218.8 192.5,218.8 193.4,218.8 194.2,218.9 195.0,218.9 195.9,219.3 196.7,219.8 197.5,220.4 198.3,221.0 199.2,221.4 200.0,221.6 200.8,221.7 201.7,221.8 202.5,221.9 203.3,222.0 204.1,222.1 205.0,222.1 205.8,222.1 206.6,222.2 207.5,222.1 208.3,222.0 209.1,221.8 209.9,221.5 210.8,221.1 211.6,220.7 212.4,220.3 213.3,219.8 214.1,219.4 214.9,219.0 215.8,218.6 216.6,218.3 217.4,217.8 218.2,217.4 219.1,217.0 219.9,216.6 220.7,216.2 221.6,215.8 222.4,215.5 223.2,215.2 224.0,215.0 224.9,214.8 225.7,214.5 226.5,214.3 227.4,214.2 228.2,214.1 229.0,214.1 229.8,214.3 230.7,214.7 231.5,215.1 232.3,215.5 233.2,215.8 234.0,216.0 234.8,216.1 235.7,216.3 236.5,216.5 237.3,216.7 238.1,217.0 239.0,217.4 239.8,217.9 240.6,218.3 241.5,218.7 242.3,219.0 243.1,219.4 243.9,219.7 244.8,220.0 245.6,220.3 246.4,220.6 247.3,220.7 248.1,220.8 248.9,220.8 249.7,220.8 250.6,220.6 251.4,220.4 252.2,220.2 253.1,219.9 253.9,219.6 254.7,219.3 255.6,219.0 256.4,218.7 257.2,218.4 258.0,218.1 258.9,217.7 259.7,217.3 260.5,216.9 261.4,216.6 262.2,216.4 263.0,216.3 263.8,216.4 264.7,216.4 265.5,216.6 266.3,216.7 267.2,216.9 268.0,217.1 268.8,217.3 269.6,217.6 270.5,217.9 271.3,218.4 272.1,218.9 273.0,219.5 273.8,220.2 274.6,221.1 275.5,222.0 276.3,223.4 277.1,225.6 277.9,228.2 279.4,254.0 279.8,225.0 280.3,264.1 280.9,225.2 281.4,257.9 281.9,227.5 282.3,248.9 282.9,226.5 283.4,259.3 284.0,231.3 284.5,250.5 285.0,231.8 285.6,257.9 285.9,229.8 286.4,250.5 286.8,236.9 287.3,250.3 287.8,243.5 288.4,258.0 288.8,230.2 289.3,256.6 290.4,260.9 291.2,262.2 292.0,263.5 292.9,264.8 293.7,266.0 294.5,267.1 295.4,268.1 296.2,269.0 297.0,269.6 297.8,270.1 298.7,270.4 299.5,270.6 300.3,270.8 301.2,271.0 302.0,271.2 302.8,271.3 303.6,271.4 304.5,271.4 305.3,271.3 306.1,271.1 307.0,270.7 307.8,270.3 308.6,269.9 309.5,269.6 310.3,269.3 311.1,269.1 311.9,268.9 312.8,268.7 313.6,268.6 314.4,268.5 315.3,268.4 316.1,268.3 316.9,268.2 317.7,268.0 318.6,267.9 319.4,267.8 320.2,267.6 321.1,267.5 321.9,267.3 322.7,267.0 323.5,266.7 324.4,266.4 325.2,266.1 326.0,265.8 326.9,265.5 327.7,265.1 328.5,264.8 329.4,264.5 330.2,264.3 331.0,264.1 331.8,263.9 332.7,263.8 333.5,263.6 334.3,263.5 335.2,263.3 336.0,263.2 336.8,263.1 337.6,263.0 338.5,262.9 339.3,262.8 340.1,262.8 341.0,262.7 341.8,262.7 342.6,262.7 343.4,262.8 344.3,262.8 345.1,262.9 345.9,263.0 346.8,263.1 347.6,263.3 348.4,263.4 349.3,263.5 350.1,263.7 350.9,263.8 351.7,264.0 352.6,264.2 353.4,264.4 354.2,264.6 355.1,264.9 355.9,265.1 356.7,265.4 357.5,265.6 358.4,265.9 359.2,266.2 360.0,266.5 360.9,266.7 361.7,267.0 362.5,267.3 363.3,267.7 364.2,268.0 365.0,268.3 365.8,268.7 366.7,269.0 367.5,269.4 368.3,269.7 369.2,270.0 370.0,270.2 370.8,270.5 371.6,270.7 372.5,270.9 373.3,271.0 374.1,271.2 375.0,271.3 375.8,271.5 376.6,271.6 377.4,271.8 378.3,272.0 379.1,272.2 379.9,272.4 380.5,65.0 381.2,122.8 381.8,55.9 382.2,139.5 382.9,57.1 383.4,225.3 384.0,59.1 384.6,195.1 385.2,62.3 385.7,201.6 386.2,63.3 386.6,215.6 387.1,56.1 387.7,111.9 388.4,64.6 389.0,201.8 390.9,104.2 392.8,107.3 394.7,119.7 396.5,144.1 398.4,202.7 400.7,281.1 401.5,281.2 402.3,281.3 403.2,281.4 404.0,281.4 404.8,281.3 405.6,280.9 406.5,280.4 407.3,279.7 408.1,278.8 409.0,278.0 409.8,277.0 410.6,276.1 411.4,275.3 412.3,274.6 413.1,274.0 413.9,273.5 414.8,273.3 415.6,273.3 416.4,273.4 417.2,273.5 418.1,273.5 418.9,273.6 419.7,273.8 420.6,273.9 421.4,274.1 422.2,274.4 423.1,274.8 423.9,275.3 424.7,275.8 425.5,276.4 426.4,276.9 427.2,277.4 428.0,277.9 428.9,278.3 429.7,278.6 430.5,278.7 431.3,278.7 432.2,278.6 433.0,278.5 433.8,278.3 434.7,278.0 435.5,277.7 436.3,277.4 437.1,277.0 438.0,276.6 438.8,276.2 439.6,275.8 440.5,275.4 441.3,275.0 442.1,274.6 443.0,274.2 443.8,273.9 444.6,273.6 445.4,273.4 446.3,273.2 447.1,273.0 447.9,272.7 448.8,272.5 449.6,272.3 450.4,272.1 451.2,271.9 452.1,271.7 452.9,271.5 453.7,271.4 454.6,271.2 455.4,271.1 456.2,271.0 457.0,270.9 457.9,270.8 458.7,270.8 459.5,270.9 460.4,271.3 461.2,272.0 462.0,272.8 462.9,273.6 463.7,274.4 464.5,275.1 465.3,275.9 466.2,276.6 467.0,277.4 467.8,278.2 468.7,278.9 469.5,279.4 470.3,279.9 471.1,280.2 472.0,280.5 472.8,280.7 473.6,281.0 474.5,281.2 475.3,281.4 476.1,281.6 476.9,281.8 477.8,282.0 478.6,282.1 479.4,282.3 480.3,282.5 481.1,282.6 481.9,282.8 482.8,282.9 483.6,283.1 484.4,283.2 485.2,283.4 486.1,283.6 486.9,283.8 487.7,284.0 488.6,284.2 489.4,284.5 490.2,284.7 491.0,284.9 491.9,285.2 492.7,285.4 493.5,285.6 494.4,285.9 495.2,286.1 496.0,286.3 496.9,286.6 497.7,287.3 498.5,288.3 499.3,285.0 500.2,288.0 501.0,289.0 501.8,287.6 502.7,287.6 503.5,289.0 504.3,287.5 505.1,289.1 506.0,289.8 506.8,288.7 507.6,288.2 508.5,290.0 509.3,289.1 510.1,289.7 510.9,286.7 511.8,290.8 512.6,288.7 513.4,290.5 514.3,290.9 515.1,290.2 515.9,290.2 516.8,290.1 517.6,291.4" stroke="#6478dc"/>
<polyline points="72.3,316.1 73.1,315.6 74.0,315.0 74.8,314.4 75.6,313.9 76.4,313.3 77.3,312.8 78.1,312.2 78.9,311.7 79.8,311.2 80.6,310.6 81.4,310.1 82.3,309.6 83.1,309.1 83.9,308.5 84.7,308.0 85.6,307.5 86.4,307.0 87.2,306.5 88.1,306.0 88.9,305.5 89.7,305.0 90.5,304.5 91.4,304.1 92.2,303.6 93.0,303.1 93.9,302.6 94.7,302.2 95.5,301.7 96.3,301.3 97.2,300.8 98.0,300.4 98.8,300.0 99.7,299.5 100.5,299.1 101.3,298.7 102.2,298.3 103.0,297.9 103.8,297.5 104.6,297.1 105.5,296.7 106.3,296.4 107.1,296.0 108.0,295.7 108.8,295.4 109.6,295.1 110.4,294.8 111.3,294.6 112.1,294.3 112.9,294.0 113.8,293.8 114.6,293.6 115.4,293.3 116.2,293.1 117.1,292.9 117.9,292.6 118.7,292.4 119.6,292.2 120.4,291.9 121.2,291.7 122.1,291.5 122.9,291.2 123.7,291.0 124.5,290.7 125.4,290.4 126.2,290.1 127.0,289.9 127.9,289.6 128.7,289.2 129.5,288.9 130.3,288.6 131.2,288.2 132.0,287.8 132.8,287.4 133.7,287.0 134.5,286.6 135.3,286.1 136.1,285.7 137.0,285.2 137.8,284.6 138.6,284.1 139.5,283.5 140.3,282.9 141.1,282.2 142.0,281.0 142.8,279.5 143.6,277.7 144.4,275.7 145.3,273.6 146.1,271.7 146.9,269.9 147.8,268.4 148.6,267.4 149.4,266.8 150.2,266.3 151.1,265.9 151.9,265.5 152.7,265.1 153.6,264.8 154.4,264.6 155.2,264.3 156.0,264.2 156.9,264.0 157.7,263.9 158.5,263.8 159.4,263.7 160.2,263.6 161.0,263.5 161.9,263.4 162.7,263.4 163.5,263.3 164.3,263.2 165.2,263.2 166.0,263.1 166.8,263.1 167.7,263.0 168.5,263.0 169.3,262.9 170.1,262.9 171.0,262.8 171.8,262.8 172.6,262.8 173.5,262.7 174.3,262.7 175.1,262.6 175.9,262.6 176.8,262.6 177.6,262.5 178.4,262.5 179.3,262.4 180.1,262.4 180.9,262.3 181.8,262.3 182.6,262.2 183.4,262.1 184.2,262.1 185.1,262.0 185.9,261.9 186.7,261.8 187.6,261.7 188.4,261.6 189.2,261.5 190.0,261.4 190.9,261.2 191.7,261.1 192.5,261.0 193.4,260.8 194.2,260.7 195.0,260.5 195.9,260.3 196.7,260.2 197.5,260.0 198.3,259.8 199.2,259.6 200.0,259.5 200.8,259.3 201.7,259.1 202.5,258.9 203.3,258.8 204.1,258.6 205.0,258.4 205.8,258.3 206.6,258.1 207.5,257.9 208.3,257.8 209.1,257.6 209.9,257.5 210.8,257.3 211.6,257.1 212.4,257.0 213.3,256.8 214.1,256.6 214.9,256.5 215.8,256.3 216.6,256.2 217.4,256.0 218.2,255.8 219.1,255.7 219.9,255.5 220.7,255.4 221.6,255.2 222.4,255.0 223.2,254.9 224.0,254.8 224.9,254.6 225.7,254.5 226.5,254.3 227.4,254.2 228.2,254.1 229.0,254.0 229.8,253.9 230.7,253.7 231.5,253.6 232.3,253.5 233.2,253.4 234.0,253.3 234.8,253.2 235.7,253.1 236.5,253.0 237.3,252.9 238.1,252.8 239.0,252.7 239.8,252.6 240.6,252.5 241.5,252.4 242.3,252.3 243.1,252.2 243.9,252.1 244.8,252.0 245.6,251.9 246.4,251.8 247.3,251.7 248.1,251.6 248.9,251.5 249.7,251.4 250.6,251.3 251.4,251.2 252.2,251.1 253.1,250.9 253.9,250.8 254.7,250.7 255.6,250.5 256.4,250.4 257.2,250.2 258.0,250.1 258.9,250.0 259.7,249.9 260.5,249.7 261.4,249.6 262.2,249.5 263.0,249.4 263.8,249.3 264.7,249.2 265.5,249.2 266.3,249.1 267.2,249.1 268.0,249.0 268.8,249.0 269.6,249.0 270.5,249.0 271.3,249.1 272.1,249.2 273.0,249.3 273.8,249.4 274.6,249.5 275.5,249.7 276.3,249.8 277.1,250.0 277.9,250.2 279.2,248.5 279.7,268.8 280.1,254.6 280.7,266.7 281.1,241.1 281.6,253.0 282.0,250.8 282.4,260.5 282.8,257.6 283.3,267.8 283.7,259.5 284.3,255.4 284.9,253.2 285.5,252.2 285.9,238.6 286.5,256.6 286.9,262.1 287.4,258.6 287.8,240.2 288.4,270.0 288.8,260.1 289.2,264.2 290.4,261.1 291.2,261.9 292.0,262.6 292.9,263.2 293.7,263.7 294.5,264.0 295.4,264.4 296.2,264.7 297.0,264.9 297.8,265.2 298.7,265.5 299.5,265.8 300.3,266.0 301.2,266.2 302.0,266.4 302.8,266.6 303.6,266.7 304.5,266.8 305.3,266.9 306.1,266.9 307.0,266.9 307.8,266.7 308.6,266.2 309.5,265.6 310.3,264.9 311.1,264.0 311.9,263.0 312.8,261.9 313.6,260.7 314.4,259.5 315.3,258.2 316.1,257.0 316.9,255.7 317.7,254.5 318.6,253.3 319.4,252.2 320.2,251.2 321.1,250.3 321.9,249.5 322.7,248.9 323.5,248.5 324.4,248.1 325.2,247.7 326.0,247.3 326.9,246.9 327.7,246.5 328.5,246.2 329.4,245.8 330.2,245.4 331.0,245.1 331.8,244.8 332.7,244.5 333.5,244.2 334.3,243.9 335.2,243.6 336.0,243.3 336.8,243.1 337.6,242.8 338.5,242.6 339.3,242.4 340.1,242.2 341.0,242.0 341.8,241.8 342.6,241.6 343.4,241.5 344.3,241.3 345.1,241.2 345.9,241.1 346.8,241.0 347.6,240.9 348.4,240.9 349.3,240.8 350.1,240.8 350.9,240.7 351.7,240.6 352.6,240.6 353.4,240.5 354.2,240.5 355.1,240.5 355.9,240.4 356.7,240.4 357.5,240.3 358.4,240.3 359.2,240.2 360.0,240.2 360.9,240.2 361.7,240.2 362.5,240.1 363.3,240.1 364.2,240.1 365.0,240.1 365.8,240.1 366.7,240.1 367.5,240.0 368.3,240.0 369.2,240.0 370.0,240.1 370.8,240.2 371.6,240.3 372.5,240.5 373.3,240.7 374.1,240.9 375.0,241.1 375.8,241.4 376.6,241.7 377.4,242.0 378.3,242.3 379.1,242.6 379.9,93.8 380.4,174.9 381.0,97.6 381.4,191.7 381.7,87.4 382.4,147.4 383.1,86.5 383.6,129.9 384.2,86.4 384.6,146.1 385.2,91.8 385.6,112.5 386.1,95.5 386.7,203.0 387.1,86.4 387.5,190.8 387.9,90.0 388.4,127.8 390.7,140.8 392.9,131.9 395.1,146.6 397.2,171.4 399.4,217.5 402.3,284.9 403.2,285.2 404.0,285.4 404.8,285.3 405.6,285.3 406.5,285.2 407.3,285.1 408.1,285.0 409.0,284.9 409.8,284.7 410.6,284.5 411.4,284.3 412.3,284.2 413.1,284.0 413.9,283.8 414.8,283.6 415.6,283.3 416.4,283.1 417.2,282.8 418.1,282.4 418.9,282.0 419.7,281.6 420.6,281.2 421.4,280.7 422.2,280.3 423.1,279.8 423.9,279.3 424.7,278.8 425.5,278.3 426.4,277.9 427.2,277.4 428.0,276.9 428.9,276.5 429.7,276.1 430.5,275.7 431.3,275.3 432.2,275.0 433.0,274.7 433.8,274.5 434.7,274.3 435.5,274.1 436.3,273.9 437.1,273.8 438.0,273.7 438.8,273.5 439.6,273.4 440.5,273.2 441.3,273.1 442.1,273.0 443.0,272.8 443.8,272.7 444.6,272.6 445.4,272.5 446.3,272.4 447.1,272.3 447.9,272.2 448.8,272.1 449.6,272.0 450.4,271.9 451.2,271.8 452.1,271.7 452.9,271.7 453.7,271.6 454.6,271.5 455.4,271.5 456.2,271.5 457.0,271.4 457.9,271.4 458.7,271.4 459.5,271.4 460.4,271.4 461.2,271.4 462.0,271.4 462.9,271.5 463.7,271.5 464.5,271.6 465.3,271.7 466.2,271.8 467.0,271.9 467.8,272.0 468.7,272.1 469.5,272.2 470.3,272.3 471.1,272.4 472.0,272.5 472.8,272.6 473.6,272.7 474.5,272.8 475.3,272.9 476.1,273.0 476.9,273.1 477.8,273.2 478.6,273.3 479.4,273.4 480.3,273.4 481.1,273.5 481.9,273.6 482.8,273.7 483.6,273.8 484.4,273.8 485.2,273.9 486.1,274.0 486.9,274.1 487.7,274.2 488.6,274.2 489.4,274.3 490.2,274.4 491.0,274.5 491.9,274.6 492.7,274.7 493.5,274.8 494.4,274.9 495.2,275.0 496.0,275.1 496.9,275.2 497.7,274.3 498.5,275.3 499.3,276.9 500.2,275.0 501.0,276.7 501.8,278.9 502.7,273.0 503.5,275.6 504.3,274.5 505.1,277.7 506.0,275.2 506.8,275.2 507.6,275.5 508.5,277.4 509.3,278.9 510.1,278.0 510.9,280.4 511.8,280.1 512.6,278.3 513.4,279.7 514.3,279.0 515.1,279.1 515.9,277.1 516.8,278.0 517.6,279.7" stroke="#c0b058"/>
<polyline points="72.3,317.5 73.1,317.5 74.0,317.4 74.8,317.3 75.6,317.2 76.4,317.0 77.3,316.8 78.1,316.5 78.9,316.2 79.8,315.9 80.6,315.6 81.4,315.2 82.3,314.8 83.1,314.3 83.9,313.8 84.7,313.3 85.6,312.6 86.4,311.4 87.2,308.5 88.1,299.8 88.9,289.0 89.7,280.8 90.5,277.6 91.4,275.2 92.2,273.3 93.0,271.8 93.9,270.4 94.7,269.0 95.5,267.6 96.3,266.1 97.2,264.6 98.0,263.2 98.8,261.8 99.7,260.4 100.5,259.1 101.3,257.8 102.2,256.5 103.0,255.3 103.8,254.2 104.6,253.1 105.5,252.1 106.3,251.2 107.1,250.3 108.0,249.5 108.8,248.8 109.6,248.2 110.4,247.5 111.3,246.9 112.1,246.3 112.9,245.7 113.8,245.3 114.6,245.0 115.4,244.8 116.2,244.8 117.1,244.8 117.9,244.8 118.7,244.8 119.6,244.9 120.4,244.9 121.2,244.9 122.1,244.9 122.9,245.0 123.7,245.0 124.5,245.0 125.4,245.1 126.2,245.1 127.0,245.2 127.9,245.3 128.7,245.3 129.5,245.4 130.3,245.5 131.2,245.5 132.0,245.6 132.8,245.7 133.7,246.0 134.5,246.5 135.3,247.0 136.1,247.5 137.0,248.0 137.8,248.3 138.6,248.5 139.5,248.4 140.3,248.1 141.1,247.6 142.0,247.0 142.8,246.2 143.6,243.2 144.4,237.8 145.3,232.2 146.1,225.4 146.9,217.8 147.8,210.6 148.6,204.6 149.4,200.4 150.2,196.7 151.1,193.3 151.9,190.0 152.7,187.1 153.6,184.4 154.4,182.1 155.0,178.0 158.4,175.0 170.0,172.0 186.0,169.4 190.0,167.0 193.3,163.0 196.0,170.0 200.7,174.0 206.2,172.2 217.2,167.6 228.2,163.9 232.0,160.2 236.4,166.4 241.4,176.4 248.0,183.8 256.3,183.0 266.2,179.7 272.8,183.0 277.8,189.6 279.5,180.0 281.0,166.4 282.5,172.0 284.4,174.7 284.9,209.8 285.5,235.8 286.1,195.8 286.7,235.1 287.1,209.5 287.5,253.5 287.9,220.8 288.5,251.7 289.1,232.9 290.4,253.0 291.2,254.6 292.0,256.1 292.9,257.5 293.7,258.9 294.5,260.1 295.4,261.1 296.2,262.0 297.0,262.7 297.8,263.2 298.7,263.6 299.5,263.8 300.3,264.1 301.2,264.3 302.0,264.4 302.8,264.6 303.6,264.6 304.5,264.7 305.3,264.6 306.1,264.4 307.0,264.1 307.8,263.8 308.6,263.4 309.5,262.9 310.3,262.4 311.1,261.9 311.9,261.2 312.8,260.4 313.6,259.5 314.4,258.4 315.3,257.3 316.1,256.0 316.9,254.8 317.7,253.5 318.6,252.2 319.4,250.9 320.2,249.7 321.1,248.6 321.9,247.4 322.7,246.2 323.5,244.9 324.4,243.6 325.2,242.3 326.0,241.0 326.9,239.7 327.7,238.5 328.5,237.3 329.4,236.3 330.2,235.4 331.0,234.6 331.8,233.9 332.7,233.3 333.5,232.7 334.3,232.1 335.2,231.5 336.0,231.0 336.8,230.5 337.6,230.0 338.5,229.6 339.3,229.3 340.1,229.1 341.0,228.9 341.8,228.9 342.6,228.9 343.4,229.0 344.3,229.1 345.1,229.2 345.9,229.4 346.8,229.5 347.6,229.7 348.4,229.9 349.3,230.1 350.1,230.4 350.9,230.6 351.7,230.8 352.6,231.1 353.4,231.5 354.2,231.8 355.1,232.2 355.9,232.5 356.7,232.9 357.5,233.3 358.4,233.8 359.2,234.2 360.0,234.6 360.9,235.0 361.7,235.4 362.5,235.9 363.3,236.4 364.2,236.9 365.0,237.5 365.8,238.0 366.7,238.5 367.5,239.0 368.3,239.5 369.2,239.9 370.0,240.3 370.8,240.7 371.6,241.0 372.5,241.3 373.3,241.5 374.1,241.7 375.0,241.9 375.8,242.1 376.6,242.4 377.4,242.6 378.3,242.9 379.1,243.3 379.8,40.7 380.3,106.5 380.7,41.4 381.4,101.6 381.7,44.7 382.2,163.4 382.7,38.7 383.3,166.8 383.7,36.6 384.3,140.7 384.6,37.8 385.0,199.2 385.8,35.6 386.3,151.6 386.6,44.1 387.3,175.3 387.8,36.7 389.7,101.3 391.6,102.8 393.5,115.4 395.4,144.8 397.3,208.1 399.8,286.1 400.7,287.2 401.5,288.1 402.3,288.7 403.2,289.1 404.0,289.3 404.8,289.2 405.6,288.9 406.5,288.4 407.3,287.8 408.1,287.1 409.0,286.4 409.8,285.6 410.6,284.9 411.4,284.2 412.3,283.6 413.1,283.1 413.9,282.7 414.8,282.6 415.6,282.6 416.4,282.6 417.2,282.7 418.1,282.7 418.9,282.8 419.7,282.9 420.6,283.0 421.4,283.2 422.2,283.4 423.1,283.8 423.9,284.2 424.7,284.6 425.5,285.1 426.4,285.5 427.2,286.0 428.0,286.3 428.9,286.7 429.7,286.9 430.5,287.0 431.3,287.0 432.2,286.9 433.0,286.6 433.8,286.1 434.7,285.6 435.5,285.0 436.3,284.2 437.1,283.4 438.0,282.6 438.8,281.7 439.6,280.8 440.5,279.9 441.3,279.0 442.1,278.1 443.0,277.2 443.8,276.4 444.6,275.7 445.4,275.0 446.3,274.4 447.1,273.7 447.9,272.9 448.8,272.2 449.6,271.4 450.4,270.7 451.2,269.9 452.1,269.2 452.9,268.5 453.7,267.9 454.6,267.3 455.4,266.8 456.2,266.4 457.0,266.1 457.9,265.9 458.7,265.8 459.5,265.9 460.4,266.4 461.2,267.1 462.0,267.9 462.9,268.9 463.7,269.7 464.5,270.5 465.3,271.3 466.2,272.1 467.0,273.0 467.8,273.8 468.7,274.5 469.5,275.2 470.3,275.6 471.1,276.0 472.0,276.3 472.8,276.6 473.6,276.9 474.5,277.1 475.3,277.3 476.1,277.6 476.9,277.8 477.8,277.9 478.6,278.1 479.4,278.3 480.3,278.5 481.1,278.6 481.9,278.8 482.8,279.0 483.6,279.1 484.4,279.3 485.2,279.5 486.1,279.7 486.9,279.9 487.7,280.2 488.6,280.4 489.4,280.7 490.2,280.9 491.0,281.2 491.9,281.4 492.7,281.7 493.5,281.9 494.4,282.2 495.2,282.4 496.0,282.7 496.9,282.9 497.7,282.7 498.5,285.1 499.3,281.4 500.2,282.6 501.0,283.3 501.8,284.8 502.7,284.7 503.5,284.1 504.3,284.5 505.1,287.1 506.0,284.5 506.8,282.2 507.6,287.8 508.5,284.7 509.3,285.6 510.1,286.4 510.9,284.9 511.8,288.1 512.6,286.8 513.4,285.5 514.3,287.7 515.1,288.2 515.9,287.9 516.8,288.8 517.6,286.8" stroke="#c2bccb"/>
<polyline points="72.3,323.7 73.1,323.4 74.0,323.1 74.8,322.6 75.6,321.9 76.4,321.2 77.3,320.4 78.1,319.4 78.9,318.4 79.8,317.4 80.6,316.2 81.4,315.1 82.3,313.9 83.1,312.8 83.9,311.6 84.7,310.1 85.6,307.7 86.4,299.8 87.2,285.4 88.1,272.2 88.9,267.3 89.7,265.2 90.5,263.6 91.4,262.4 92.2,261.5 93.0,260.8 93.9,260.0 94.7,259.3 95.5,258.3 96.3,257.4 97.2,256.6 98.0,255.8 98.8,255.1 99.7,254.4 100.5,253.6 101.3,252.8 102.2,252.0 103.0,251.1 103.8,250.0 104.6,248.9 105.5,247.7 106.3,246.6 107.1,245.5 108.0,244.6 108.8,243.9 109.6,243.4 110.4,243.1 111.3,242.8 112.1,242.6 112.9,242.4 113.8,242.2 114.6,242.1 115.4,242.0 116.2,242.0 117.1,242.0 117.9,242.0 118.7,242.0 119.6,242.1 120.4,242.1 121.2,242.1 122.1,242.2 122.9,242.2 123.7,242.2 124.5,242.3 125.4,242.3 126.2,242.4 127.0,242.5 127.9,242.5 128.7,242.7 129.5,243.0 130.3,243.6 131.2,244.3 132.0,245.0 132.8,245.7 133.7,246.4 134.5,247.1 135.3,247.8 136.1,248.5 137.0,248.9 137.8,249.0 138.6,248.9 139.5,248.8 140.3,248.6 141.1,248.3 142.0,247.5 142.8,246.2 143.6,242.1 144.4,235.4 145.3,229.3 146.1,223.1 146.9,216.8 147.8,210.8 148.6,205.8 149.4,201.9 150.2,198.3 151.1,194.9 151.9,191.7 152.7,188.7 153.6,186.0 154.4,183.6 155.2,181.5 156.0,179.8 156.9,178.6 157.7,177.7 158.5,177.0 159.4,176.3 160.2,175.7 161.0,175.1 161.9,174.6 162.7,174.2 163.5,173.9 164.3,173.7 165.2,173.5 166.0,173.5 166.8,173.5 167.7,173.5 168.5,173.5 169.3,173.5 170.1,173.5 171.0,173.5 171.8,173.5 172.6,173.5 173.5,173.5 174.3,173.5 175.1,173.5 175.9,173.5 176.8,173.5 177.6,173.5 178.4,173.5 179.3,173.5 180.1,173.5 180.9,173.5 181.8,173.5 182.6,173.5 183.4,173.5 184.2,173.5 185.1,173.5 185.9,173.5 186.7,173.5 187.6,173.6 188.4,173.6 189.2,173.7 190.0,173.9 190.9,174.0 191.7,174.2 192.5,174.4 193.4,174.7 194.2,174.9 195.0,175.2 195.9,175.9 196.7,176.7 197.5,177.7 198.3,178.6 199.2,179.3 200.0,179.8 200.8,180.1 201.7,180.4 202.5,180.7 203.3,180.9 204.1,181.2 205.0,181.3 205.8,181.4 206.6,181.5 207.5,181.5 208.3,181.4 209.1,181.2 209.9,180.8 210.8,180.5 211.6,180.1 212.4,179.6 213.3,179.2 214.1,178.7 214.9,178.3 215.8,177.9 216.6,177.5 217.4,177.1 218.2,176.7 219.1,176.2 219.9,175.8 220.7,175.4 221.6,175.0 222.4,174.6 223.2,174.4 224.0,174.2 224.9,174.0 225.7,173.9 226.5,173.7 227.4,173.6 228.2,173.5 229.0,173.5 229.8,173.7 230.7,174.1 231.5,174.7 232.3,175.3 233.2,176.0 234.0,177.0 234.8,178.4 235.7,179.9 236.5,181.6 237.3,183.3 238.1,185.4 239.0,187.8 239.8,190.1 240.6,192.0 241.5,192.9 242.3,193.5 243.1,194.0 243.9,194.5 244.8,194.9 245.6,195.3 246.4,195.5 247.3,195.7 248.1,195.8 248.9,195.8 249.7,195.7 250.6,195.5 251.4,195.2 252.2,194.9 253.1,194.5 253.9,194.1 254.7,193.7 255.6,193.3 256.4,192.9 257.2,192.5 258.0,192.1 258.9,191.6 259.7,191.0 260.5,190.5 261.4,190.1 262.2,189.8 263.0,189.7 263.8,189.7 264.7,189.8 265.5,190.0 266.3,190.2 267.2,190.4 268.0,190.7 268.8,191.0 269.6,191.4 270.5,191.8 271.3,192.4 272.1,193.2 273.0,194.0 273.8,195.0 274.6,196.1 275.5,197.4 276.3,199.1 277.1,201.7 277.9,204.9 279.3,216.3 279.8,251.5 280.3,217.3 280.8,259.2 281.4,225.9 281.9,253.6 282.4,209.7 283.0,237.8 283.5,227.1 284.2,255.7 284.8,209.1 285.4,236.1 285.8,195.8 286.3,237.8 286.9,213.4 287.3,240.7 288.0,220.7 288.4,266.3 288.8,198.9 289.3,234.8 290.4,250.3 291.2,251.9 292.0,253.5 292.9,255.0 293.7,256.4 294.5,257.6 295.4,258.7 296.2,259.7 297.0,260.4 297.8,261.0 298.7,261.3 299.5,261.5 300.3,261.8 301.2,262.0 302.0,262.2 302.8,262.3 303.6,262.4 304.5,262.4 305.3,262.4 306.1,262.1 307.0,261.8 307.8,261.4 308.6,261.0 309.5,260.5 310.3,260.1 311.1,259.6 311.9,259.1 312.8,258.6 313.6,258.0 314.4,257.4 315.3,256.7 316.1,256.1 316.9,255.4 317.7,254.7 318.6,254.0 319.4,253.3 320.2,252.6 321.1,251.9 321.9,251.1 322.7,250.4 323.5,249.5 324.4,248.7 325.2,247.8 326.0,246.9 326.9,246.1 327.7,245.3 328.5,244.5 329.4,243.8 330.2,243.2 331.0,242.7 331.8,242.3 332.7,241.9 333.5,241.4 334.3,241.1 335.2,240.7 336.0,240.3 336.8,240.0 337.6,239.7 338.5,239.4 339.3,239.2 340.1,239.1 341.0,239.0 341.8,238.9 342.6,239.0 343.4,239.0 344.3,239.1 345.1,239.2 345.9,239.4 346.8,239.5 347.6,239.7 348.4,239.9 349.3,240.1 350.1,240.3 350.9,240.5 351.7,240.7 352.6,241.0 353.4,241.3 354.2,241.6 355.1,241.9 355.9,242.2 356.7,242.6 357.5,243.0 358.4,243.3 359.2,243.7 360.0,244.1 360.9,244.4 361.7,244.8 362.5,245.3 363.3,245.7 364.2,246.2 365.0,246.6 365.8,247.1 366.7,247.6 367.5,248.0 368.3,248.5 369.2,248.9 370.0,249.2 370.8,249.5 371.6,249.8 372.5,250.1 373.3,250.3 374.1,250.5 375.0,250.7 375.8,250.9 376.6,251.1 377.4,251.3 378.3,251.6 379.1,251.9 379.9,252.3 380.6,30.9 381.3,137.7 381.6,30.9 382.2,157.8 382.8,30.9 383.5,138.6 383.9,30.9 384.3,30.9 384.7,30.9 385.4,197.3 385.9,30.9 386.2,36.0 386.9,30.9 387.4,101.2 388.0,30.9 389.9,108.3 391.8,110.8 393.6,124.3 395.5,138.5 397.4,188.0 399.8,275.7 400.7,276.3 401.5,276.8 402.3,277.1 403.2,277.3 404.0,277.4 404.8,277.2 405.6,276.8 406.5,276.2 407.3,275.5 408.1,274.6 409.0,273.6 409.8,272.6 410.6,271.6 411.4,270.7 412.3,269.9 413.1,269.3 413.9,268.8 414.8,268.6 415.6,268.6 416.4,268.6 417.2,268.7 418.1,268.8 418.9,268.9 419.7,269.0 420.6,269.2 421.4,269.4 422.2,269.7 423.1,270.2 423.9,270.7 424.7,271.3 425.5,271.9 426.4,272.5 427.2,273.0 428.0,273.5 428.9,274.0 429.7,274.3 430.5,274.4 431.3,274.4 432.2,274.4 433.0,274.2 433.8,274.0 434.7,273.7 435.5,273.4 436.3,273.1 437.1,272.7 438.0,272.3 438.8,271.9 439.6,271.5 440.5,271.0 441.3,270.6 442.1,270.2 443.0,269.9 443.8,269.5 444.6,269.2 445.4,269.0 446.3,268.8 447.1,268.6 447.9,268.3 448.8,268.1 449.6,267.9 450.4,267.7 451.2,267.5 452.1,267.3 452.9,267.1 453.7,266.9 454.6,266.8 455.4,266.6 456.2,266.5 457.0,266.4 457.9,266.4 458.7,266.3 459.5,266.5 460.4,266.9 461.2,267.6 462.0,268.5 462.9,269.4 463.7,270.2 464.5,271.0 465.3,271.8 466.2,272.6 467.0,273.5 467.8,274.3 468.7,275.0 469.5,275.6 470.3,276.1 471.1,276.4 472.0,276.8 472.8,277.1 473.6,277.3 474.5,277.6 475.3,277.8 476.1,278.0 476.9,278.2 477.8,278.4 478.6,278.6 479.4,278.7 480.3,278.9 481.1,279.1 481.9,279.2 482.8,279.4 483.6,279.6 484.4,279.8 485.2,279.9 486.1,280.1 486.9,280.4 487.7,280.6 488.6,280.8 489.4,281.1 490.2,281.3 491.0,281.6 491.9,281.8 492.7,282.1 493.5,282.3 494.4,282.6 495.2,282.8 496.0,283.1 496.9,283.3 497.7,281.3 498.5,283.6 499.3,282.5 500.2,284.0 501.0,283.8 501.8,286.4 502.7,285.1 503.5,285.2 504.3,285.6 505.1,287.9 506.0,284.7 506.8,286.3 507.6,286.5 508.5,286.5 509.3,286.7 510.1,286.2 510.9,288.3 511.8,288.1 512.6,287.0 513.4,287.4 514.3,288.2 515.1,288.7 515.9,289.3 516.8,288.7 517.6,287.6" stroke="#d0d840"/>
<polyline points="72.3,311.9 73.1,311.7 74.0,311.5 74.8,311.1 75.6,310.8 76.4,310.4 77.3,310.0 78.1,309.5 78.9,309.0 79.8,308.5 80.6,307.9 81.4,307.3 82.3,306.7 83.1,306.0 83.9,305.4 84.7,304.7 85.6,304.0 86.4,303.3 87.2,302.6 88.1,301.8 88.9,300.9 89.7,300.0 90.5,299.0 91.4,297.9 92.2,296.8 93.0,295.6 93.9,294.4 94.7,293.2 95.5,292.0 96.3,290.8 97.2,289.6 98.0,288.3 98.8,286.9 99.7,285.4 100.5,283.9 101.3,282.3 102.2,280.8 103.0,279.2 103.8,277.7 104.6,276.3 105.5,275.1 106.3,273.9 107.1,273.0 108.0,272.2 108.8,271.4 109.6,270.7 110.4,269.9 111.3,269.2 112.1,268.6 112.9,268.1 113.8,267.7 114.6,267.4 115.4,267.2 116.2,267.2 117.1,267.2 117.9,267.2 118.7,267.3 119.6,267.3 120.4,267.3 121.2,267.4 122.1,267.5 122.9,267.5 123.7,267.6 124.5,267.6 125.4,267.7 126.2,267.7 127.0,267.8 127.9,267.8 128.7,267.8 129.5,267.8 130.3,267.8 131.2,267.8 132.0,267.8 132.8,267.8 133.7,267.8 134.5,267.8 135.3,267.9 136.1,267.9 137.0,267.9 137.8,268.1 138.6,268.2 139.5,268.4 140.3,268.6 141.1,268.5 142.0,267.9 142.8,266.8 143.6,265.3 144.4,263.6 145.3,261.0 146.1,255.4 146.9,247.9 147.8,240.2 148.6,234.3 149.4,231.3 150.2,229.0 151.1,227.0 151.9,225.1 152.7,223.5 153.6,222.1 154.4,220.9 155.2,219.8 156.0,218.9 156.9,218.1 157.7,217.5 158.5,216.9 159.4,216.3 160.2,215.8 161.0,215.3 161.9,214.9 162.7,214.6 163.5,214.2 164.3,214.0 165.2,213.8 166.0,213.6 166.8,213.5 167.7,213.4 168.5,213.3 169.3,213.2 170.1,213.1 171.0,212.9 171.8,212.8 172.6,212.8 173.5,212.7 174.3,212.6 175.1,212.5 175.9,212.4 176.8,212.4 177.6,212.3 178.4,212.2 179.3,212.2 180.1,212.1 180.9,212.1 181.8,212.1 182.6,212.0 183.4,212.0 184.2,212.0 185.1,212.0 185.9,212.0 186.7,212.0 187.6,212.0 188.4,212.0 189.2,212.0 190.0,212.1 190.9,212.1 191.7,212.2 192.5,212.2 193.4,212.3 194.2,212.4 195.0,212.5 195.9,212.9 196.7,213.5 197.5,214.2 198.3,214.8 199.2,215.3 200.0,215.5 200.8,215.7 201.7,215.8 202.5,216.0 203.3,216.1 204.1,216.2 205.0,216.2 205.8,216.3 206.6,216.3 207.5,216.3 208.3,216.2 209.1,216.0 209.9,215.7 210.8,215.3 211.6,214.9 212.4,214.5 213.3,214.0 214.1,213.6 214.9,213.2 215.8,212.9 216.6,212.5 217.4,212.1 218.2,211.7 219.1,211.3 219.9,210.9 220.7,210.5 221.6,210.1 222.4,209.8 223.2,209.5 224.0,209.3 224.9,209.1 225.7,208.9 226.5,208.7 227.4,208.6 228.2,208.5 229.0,208.5 229.8,208.7 230.7,209.1 231.5,209.5 232.3,210.0 233.2,210.3 234.0,210.6 234.8,210.9 235.7,211.1 236.5,211.4 237.3,211.8 238.1,212.3 239.0,212.9 239.8,213.5 240.6,214.1 241.5,214.5 242.3,214.9 243.1,215.3 243.9,215.6 244.8,216.0 245.6,216.3 246.4,216.5 247.3,216.7 248.1,216.8 248.9,216.8 249.7,216.7 250.6,216.5 251.4,216.3 252.2,216.1 253.1,215.8 253.9,215.5 254.7,215.2 255.6,214.9 256.4,214.6 257.2,214.3 258.0,213.9 258.9,213.5 259.7,213.1 260.5,212.7 261.4,212.3 262.2,212.1 263.0,212.0 263.8,212.1 264.7,212.1 265.5,212.3 266.3,212.4 267.2,212.6 268.0,212.9 268.8,213.1 269.6,213.4 270.5,213.7 271.3,214.2 272.1,214.7 273.0,215.4 273.8,216.1 274.6,217.0 275.5,218.0 276.3,219.7 277.1,222.5 277.9,226.0 279.2,243.3 279.8,215.1 280.3,240.9 280.8,226.2 281.3,232.4 281.9,212.2 282.4,231.1 282.8,215.5 283.2,231.7 283.6,220.6 284.2,236.0 284.5,231.1 285.2,241.9 285.8,225.5 286.3,234.0 286.7,231.4 287.2,233.9 287.7,217.5 288.3,233.9 288.9,227.0 289.5,229.4 290.4,238.9 291.2,239.6 292.0,240.9 292.9,242.4 293.7,244.2 294.5,246.1 295.4,247.9 296.2,249.5 297.0,250.9 297.8,251.8 298.7,252.2 299.5,252.5 300.3,252.8 301.2,253.0 302.0,253.2 302.8,253.4 303.6,253.5 304.5,253.5 305.3,253.4 306.1,253.2 307.0,252.8 307.8,252.4 308.6,251.9 309.5,251.4 310.3,250.8 311.1,250.2 311.9,249.5 312.8,248.7 313.6,247.8 314.4,246.7 315.3,245.6 316.1,244.5 316.9,243.3 317.7,242.0 318.6,240.8 319.4,239.6 320.2,238.4 321.1,237.3 321.9,236.1 322.7,234.9 323.5,233.6 324.4,232.3 325.2,230.9 326.0,229.6 326.9,228.3 327.7,227.1 328.5,225.9 329.4,224.9 330.2,224.0 331.0,223.2 331.8,222.5 332.7,221.9 333.5,221.3 334.3,220.7 335.2,220.1 336.0,219.5 336.8,219.0 337.6,218.6 338.5,218.2 339.3,217.9 340.1,217.6 341.0,217.5 341.8,217.4 342.6,217.4 343.4,217.5 344.3,217.6 345.1,217.8 345.9,218.0 346.8,218.2 347.6,218.4 348.4,218.6 349.3,218.8 350.1,219.1 350.9,219.3 351.7,219.6 352.6,219.9 353.4,220.3 354.2,220.7 355.1,221.1 355.9,221.5 356.7,222.0 357.5,222.4 358.4,222.9 359.2,223.3 360.0,223.8 360.9,224.2 361.7,224.7 362.5,225.3 363.3,225.8 364.2,226.4 365.0,227.0 365.8,227.6 366.7,228.2 367.5,228.7 368.3,229.3 369.2,229.7 370.0,230.2 370.8,230.6 371.6,230.9 372.5,231.2 373.3,231.5 374.1,231.8 375.0,232.0 375.8,232.2 376.6,232.5 377.4,232.8 378.3,233.1 379.1,233.5 379.9,234.0 380.4,71.6 380.8,138.9 381.4,71.6 382.0,130.4 382.4,66.8 383.0,95.9 383.6,69.1 384.3,191.4 384.9,65.3 385.6,165.2 386.1,70.3 386.4,165.8 386.9,70.7 387.3,105.2 387.7,63.0 388.3,124.5 390.5,106.4 392.5,119.9 394.5,121.9 396.4,147.3 398.4,195.3 400.7,265.7 401.5,266.3 402.3,266.8 403.2,267.1 404.0,267.2 404.8,267.0 405.6,266.5 406.5,265.8 407.3,264.9 408.1,263.8 409.0,262.6 409.8,261.4 410.6,260.2 411.4,259.1 412.3,258.2 413.1,257.4 413.9,256.8 414.8,256.6 415.6,256.6 416.4,256.6 417.2,256.7 418.1,256.8 418.9,257.0 419.7,257.1 420.6,257.3 421.4,257.5 422.2,257.9 423.1,258.5 423.9,259.1 424.7,259.8 425.5,260.5 426.4,261.2 427.2,261.9 428.0,262.5 428.9,263.0 429.7,263.4 430.5,263.6 431.3,263.6 432.2,263.5 433.0,263.3 433.8,263.1 434.7,262.7 435.5,262.3 436.3,261.9 437.1,261.4 438.0,260.9 438.8,260.4 439.6,259.8 440.5,259.3 441.3,258.7 442.1,258.2 443.0,257.7 443.8,257.2 444.6,256.8 445.4,256.5 446.3,256.1 447.1,255.8 447.9,255.4 448.8,255.1 449.6,254.7 450.4,254.3 451.2,254.0 452.1,253.7 452.9,253.3 453.7,253.1 454.6,252.8 455.4,252.6 456.2,252.4 457.0,252.2 457.9,252.1 458.7,252.1 459.5,252.2 460.4,252.8 461.2,253.7 462.0,254.7 462.9,255.8 463.7,256.9 464.5,257.8 465.3,258.8 466.2,259.8 467.0,260.9 467.8,261.9 468.7,262.8 469.5,263.6 470.3,264.1 471.1,264.5 472.0,264.9 472.8,265.3 473.6,265.6 474.5,265.9 475.3,266.2 476.1,266.5 476.9,266.7 477.8,266.9 478.6,267.2 479.4,267.4 480.3,267.6 481.1,267.8 481.9,268.0 482.8,268.2 483.6,268.4 484.4,268.6 485.2,268.9 486.1,269.1 486.9,269.4 487.7,269.7 488.6,269.9 489.4,270.2 490.2,270.5 491.0,270.8 491.9,271.1 492.7,271.4 493.5,271.6 494.4,271.9 495.2,272.2 496.0,272.5 496.9,272.8 497.7,271.9 498.5,272.7 499.3,275.6 500.2,273.7 501.0,273.5 501.8,274.3 502.7,274.1 503.5,276.2 504.3,277.1 505.1,275.4 506.0,278.1 506.8,279.7 507.6,276.6 508.5,279.0 509.3,278.9 510.1,280.6 510.9,280.9 511.8,281.1 512.6,280.5 513.4,280.0 514.3,283.4 515.1,280.3 515.9,282.7 516.8,282.9 517.6,281.2" stroke="#8090e8"/>
<polyline points="72.3,314.7 73.1,314.2 74.0,313.7 74.8,313.3 75.6,312.8 76.4,312.3 77.3,311.8 78.1,311.3 78.9,310.9 79.8,310.4 80.6,309.9 81.4,309.5 82.3,309.0 83.1,308.5 83.9,308.1 84.7,307.6 85.6,307.2 86.4,306.7 87.2,306.3 88.1,305.9 88.9,305.4 89.7,305.0 90.5,304.6 91.4,304.2 92.2,303.8 93.0,303.3 93.9,302.9 94.7,302.5 95.5,302.1 96.3,301.7 97.2,301.3 98.0,301.0 98.8,300.6 99.7,300.2 100.5,299.8 101.3,299.5 102.2,299.1 103.0,298.7 103.8,298.4 104.6,298.1 105.5,297.7 106.3,297.4 107.1,297.1 108.0,296.8 108.8,296.6 109.6,296.3 110.4,296.0 111.3,295.8 112.1,295.5 112.9,295.3 113.8,295.1 114.6,294.8 115.4,294.6 116.2,294.4 117.1,294.2 117.9,293.9 118.7,293.7 119.6,293.5 120.4,293.3 121.2,293.1 122.1,292.8 122.9,292.6 123.7,292.4 124.5,292.1 125.4,291.9 126.2,291.6 127.0,291.4 127.9,291.1 128.7,290.8 129.5,290.6 130.3,290.3 131.2,290.0 132.0,289.6 132.8,289.3 133.7,289.0 134.5,288.6 135.3,288.2 136.1,287.8 137.0,287.4 137.8,287.0 138.6,286.6 139.5,286.1 140.3,285.6 141.1,285.1 142.0,284.3 142.8,283.3 143.6,282.2 144.4,281.0 145.3,279.8 146.1,278.6 146.9,277.6 147.8,276.7 148.6,276.1 149.4,275.8 150.2,275.5 151.1,275.2 151.9,275.0 152.7,274.8 153.6,274.6 154.4,274.4 155.2,274.3 156.0,274.2 156.9,274.1 157.7,274.0 158.5,273.9 159.4,273.9 160.2,273.8 161.0,273.8 161.9,273.7 162.7,273.7 163.5,273.6 164.3,273.6 165.2,273.6 166.0,273.6 166.8,273.5 167.7,273.5 168.5,273.5 169.3,273.4 170.1,273.4 171.0,273.4 171.8,273.4 172.6,273.4 173.5,273.3 174.3,273.3 175.1,273.3 175.9,273.3 176.8,273.3 177.6,273.2 178.4,273.2 179.3,273.2 180.1,273.1 180.9,273.1 181.8,273.1 182.6,273.0 183.4,273.0 184.2,272.9 185.1,272.9 185.9,272.8 186.7,272.7 187.6,272.7 188.4,272.5 189.2,272.4 190.0,272.3 190.9,272.1 191.7,271.9 192.5,271.7 193.4,271.5 194.2,271.3 195.0,271.1 195.9,270.8 196.7,270.6 197.5,270.3 198.3,270.0 199.2,269.8 200.0,269.5 200.8,269.3 201.7,269.0 202.5,268.7 203.3,268.5 204.1,268.2 205.0,268.0 205.8,267.7 206.6,267.5 207.5,267.3 208.3,267.1 209.1,266.9 209.9,266.6 210.8,266.4 211.6,266.2 212.4,266.0 213.3,265.7 214.1,265.5 214.9,265.3 215.8,265.0 216.6,264.8 217.4,264.6 218.2,264.4 219.1,264.1 219.9,263.9 220.7,263.7 221.6,263.5 222.4,263.3 223.2,263.1 224.0,262.9 224.9,262.7 225.7,262.5 226.5,262.3 227.4,262.1 228.2,262.0 229.0,261.8 229.8,261.6 230.7,261.5 231.5,261.3 232.3,261.2 233.2,261.0 234.0,260.9 234.8,260.7 235.7,260.6 236.5,260.4 237.3,260.3 238.1,260.2 239.0,260.0 239.8,259.9 240.6,259.8 241.5,259.6 242.3,259.5 243.1,259.4 243.9,259.2 244.8,259.1 245.6,259.0 246.4,258.8 247.3,258.7 248.1,258.5 248.9,258.4 249.7,258.2 250.6,258.1 251.4,257.9 252.2,257.7 253.1,257.5 253.9,257.4 254.7,257.2 255.6,257.0 256.4,256.8 257.2,256.6 258.0,256.4 258.9,256.2 259.7,256.0 260.5,255.9 261.4,255.7 262.2,255.6 263.0,255.4 263.8,255.3 264.7,255.2 265.5,255.1 266.3,255.0 267.2,255.0 268.0,254.9 268.8,254.9 269.6,254.9 270.5,254.9 271.3,255.0 272.1,255.0 273.0,255.1 273.8,255.2 274.6,255.3 275.5,255.5 276.3,255.6 277.1,255.8 277.9,255.9 279.3,268.6 279.8,269.7 280.4,261.0 281.0,275.6 281.6,261.2 282.2,284.0 282.6,260.7 283.1,268.7 283.5,257.3 284.1,271.7 284.8,270.7 285.2,280.6 285.8,263.8 286.4,282.2 286.8,269.2 287.3,267.9 287.9,267.9 288.5,282.1 289.0,256.8 290.4,279.6 291.2,281.3 292.0,282.8 292.9,283.9 293.7,284.6 294.5,284.9 295.4,285.1 296.2,285.3 297.0,285.5 297.8,285.7 298.7,285.9 299.5,286.1 300.3,286.2 301.2,286.3 302.0,286.5 302.8,286.6 303.6,286.6 304.5,286.7 305.3,286.7 306.1,286.8 307.0,286.7 307.8,286.6 308.6,286.3 309.5,285.9 310.3,285.3 311.1,284.7 311.9,284.0 312.8,283.2 313.6,282.4 314.4,281.6 315.3,280.7 316.1,279.8 316.9,278.9 317.7,278.1 318.6,277.2 319.4,276.5 320.2,275.8 321.1,275.1 321.9,274.6 322.7,274.2 323.5,273.9 324.4,273.6 325.2,273.3 326.0,273.0 326.9,272.8 327.7,272.5 328.5,272.3 329.4,272.0 330.2,271.8 331.0,271.5 331.8,271.3 332.7,271.1 333.5,270.9 334.3,270.7 335.2,270.5 336.0,270.3 336.8,270.1 337.6,269.9 338.5,269.8 339.3,269.6 340.1,269.5 341.0,269.3 341.8,269.2 342.6,269.1 343.4,269.0 344.3,268.9 345.1,268.8 345.9,268.7 346.8,268.7 347.6,268.6 348.4,268.6 349.3,268.5 350.1,268.5 350.9,268.4 351.7,268.4 352.6,268.4 353.4,268.3 354.2,268.3 355.1,268.3 355.9,268.2 356.7,268.2 357.5,268.2 358.4,268.2 359.2,268.1 360.0,268.1 360.9,268.1 361.7,268.1 362.5,268.1 363.3,268.0 364.2,268.0 365.0,268.0 365.8,268.0 366.7,268.0 367.5,268.0 368.3,268.0 369.2,268.0 370.0,268.0 370.8,268.1 371.6,268.2 372.5,268.3 373.3,268.4 374.1,268.6 375.0,268.7 375.8,268.9 376.6,269.1 377.4,269.3 378.3,269.5 379.1,269.8 379.7,48.5 380.3,206.9 380.6,58.7 381.1,150.2 381.5,47.7 382.0,109.3 382.3,56.5 383.0,143.0 383.5,48.1 383.9,177.5 384.5,44.8 385.2,127.2 385.5,45.8 386.1,126.3 386.5,56.8 388.9,105.2 391.1,114.2 393.2,118.3 395.4,157.4 397.6,211.3 399.8,297.3 400.7,298.0 401.5,298.6 402.3,299.0 403.2,299.3 404.0,299.3 404.8,299.3 405.6,299.3 406.5,299.2 407.3,299.2 408.1,299.1 409.0,299.0 409.8,298.9 410.6,298.8 411.4,298.7 412.3,298.5 413.1,298.4 413.9,298.3 414.8,298.1 415.6,298.0 416.4,297.8 417.2,297.5 418.1,297.2 418.9,296.9 419.7,296.5 420.6,296.2 421.4,295.8 422.2,295.4 423.1,294.9 423.9,294.5 424.7,294.1 425.5,293.7 426.4,293.3 427.2,292.8 428.0,292.4 428.9,292.1 429.7,291.7 430.5,291.4 431.3,291.1 432.2,290.8 433.0,290.5 433.8,290.3 434.7,290.2 435.5,290.1 436.3,289.9 437.1,289.8 438.0,289.7 438.8,289.6 439.6,289.5 440.5,289.4 441.3,289.3 442.1,289.2 443.0,289.2 443.8,289.1 444.6,289.0 445.4,288.9 446.3,288.8 447.1,288.8 447.9,288.7 448.8,288.6 449.6,288.6 450.4,288.5 451.2,288.4 452.1,288.4 452.9,288.3 453.7,288.3 454.6,288.3 455.4,288.2 456.2,288.2 457.0,288.2 457.9,288.2 458.7,288.2 459.5,288.2 460.4,288.2 461.2,288.2 462.0,288.2 462.9,288.2 463.7,288.3 464.5,288.3 465.3,288.4 466.2,288.4 467.0,288.5 467.8,288.6 468.7,288.6 469.5,288.7 470.3,288.8 471.1,288.9 472.0,288.9 472.8,289.0 473.6,289.1 474.5,289.2 475.3,289.2 476.1,289.3 476.9,289.4 477.8,289.4 478.6,289.5 479.4,289.5 480.3,289.6 481.1,289.6 481.9,289.7 482.8,289.8 483.6,289.8 484.4,289.9 485.2,289.9 486.1,290.0 486.9,290.0 487.7,290.1 488.6,290.2 489.4,290.2 490.2,290.3 491.0,290.3 491.9,290.4 492.7,290.5 493.5,290.5 494.4,290.6 495.2,290.7 496.0,290.8 496.9,290.9 497.7,291.2 498.5,290.6 499.3,292.1 500.2,291.8 501.0,291.4 501.8,292.0 502.7,291.7 503.5,292.3 504.3,289.5 505.1,290.4 506.0,291.5 506.8,292.2 507.6,289.8 508.5,292.0 509.3,292.6 510.1,292.3 510.9,292.4 511.8,291.3 512.6,293.1 513.4,290.8 514.3,294.3 515.1,292.7 515.9,294.8 516.8,291.8 517.6,294.3" stroke="#80bc58"/>
<polyline points="72.3,304.1 73.1,303.9 74.0,303.7 74.8,303.4 75.6,303.1 76.4,302.7 77.3,302.3 78.1,301.9 78.9,301.4 79.8,300.9 80.6,300.4 81.4,299.8 82.3,299.2 83.1,298.7 83.9,298.0 84.7,297.4 85.6,296.8 86.4,296.1 87.2,295.5 88.1,294.7 88.9,293.9 89.7,293.0 90.5,292.1 91.4,291.1 92.2,290.1 93.0,289.0 93.9,287.9 94.7,286.8 95.5,285.6 96.3,284.5 97.2,283.4 98.0,282.2 98.8,280.9 99.7,279.6 100.5,278.2 101.3,276.7 102.2,275.3 103.0,273.8 103.8,272.5 104.6,271.2 105.5,270.0 106.3,268.9 107.1,268.1 108.0,267.3 108.8,266.6 109.6,265.9 110.4,265.2 111.3,264.6 112.1,264.0 112.9,263.6 113.8,263.2 114.6,262.9 115.4,262.7 116.2,262.7 117.1,262.7 117.9,262.8 118.7,262.8 119.6,262.8 120.4,262.9 121.2,262.9 122.1,263.0 122.9,263.0 123.7,263.1 124.5,263.2 125.4,263.2 126.2,263.3 127.0,263.3 127.9,263.3 128.7,263.4 129.5,263.4 130.3,263.4 131.2,263.4 132.0,263.4 132.8,263.4 133.7,263.5 134.5,263.5 135.3,263.5 136.1,263.5 137.0,263.6 137.8,263.8 138.6,264.0 139.5,264.2 140.3,264.4 141.1,264.3 142.0,263.9 142.8,263.0 143.6,261.9 144.4,260.5 145.3,258.6 146.1,254.2 146.9,248.4 147.8,242.5 148.6,238.0 149.4,235.9 150.2,234.3 151.1,232.9 151.9,231.8 152.7,230.7 153.6,229.8 154.4,229.0 155.2,228.3 156.0,227.7 156.9,227.1 157.7,226.5 158.5,226.0 159.4,225.5 160.2,225.1 161.0,224.6 161.9,224.2 162.7,223.9 163.5,223.6 164.3,223.3 165.2,223.1 166.0,223.0 166.8,222.9 167.7,222.8 168.5,222.7 169.3,222.6 170.1,222.5 171.0,222.4 171.8,222.3 172.6,222.2 173.5,222.1 174.3,222.0 175.1,222.0 175.9,221.9 176.8,221.8 177.6,221.8 178.4,221.7 179.3,221.7 180.1,221.6 180.9,221.6 181.8,221.5 182.6,221.5 183.4,221.5 184.2,221.5 185.1,221.5 185.9,221.5 186.7,221.5 187.6,221.5 188.4,221.5 189.2,221.5 190.0,221.6 190.9,221.6 191.7,221.6 192.5,221.7 193.4,221.8 194.2,221.8 195.0,222.0 195.9,222.3 196.7,222.9 197.5,223.5 198.3,224.1 199.2,224.5 200.0,224.7 200.8,224.9 201.7,225.0 202.5,225.1 203.3,225.2 204.1,225.3 205.0,225.4 205.8,225.4 206.6,225.4 207.5,225.4 208.3,225.3 209.1,225.1 209.9,224.9 210.8,224.5 211.6,224.2 212.4,223.8 213.3,223.4 214.1,223.0 214.9,222.6 215.8,222.3 216.6,222.0 217.4,221.6 218.2,221.2 219.1,220.8 219.9,220.4 220.7,220.1 221.6,219.8 222.4,219.5 223.2,219.2 224.0,219.0 224.9,218.8 225.7,218.6 226.5,218.5 227.4,218.4 228.2,218.3 229.0,218.3 229.8,218.5 230.7,219.0 231.5,219.4 232.3,219.8 233.2,219.9 234.0,219.9 234.8,219.8 235.7,219.8 236.5,219.7 237.3,219.7 238.1,219.8 239.0,219.9 239.8,220.1 240.6,220.3 241.5,220.5 242.3,220.7 243.1,221.0 243.9,221.3 244.8,221.7 245.6,222.0 246.4,222.3 247.3,222.5 248.1,222.6 248.9,222.6 249.7,222.5 250.6,222.4 251.4,222.2 252.2,222.0 253.1,221.7 253.9,221.4 254.7,221.1 255.6,220.8 256.4,220.6 257.2,220.3 258.0,220.0 258.9,219.6 259.7,219.2 260.5,218.8 261.4,218.5 262.2,218.3 263.0,218.3 263.8,218.3 264.7,218.4 265.5,218.5 266.3,218.6 267.2,218.8 268.0,219.0 268.8,219.2 269.6,219.5 270.5,219.8 271.3,220.2 272.1,220.7 273.0,221.3 273.8,222.0 274.6,222.8 275.5,223.7 276.3,225.3 277.1,227.8 277.9,230.9 279.4,237.5 280.0,241.8 280.4,242.8 280.8,234.1 281.2,248.1 281.6,242.6 282.2,247.9 282.6,218.2 283.2,239.8 283.7,224.1 284.3,246.1 284.7,225.2 285.1,248.0 285.7,220.7 286.2,241.3 286.8,235.7 287.3,234.9 287.8,227.6 288.3,246.1 288.8,238.1 289.4,234.9 290.4,247.1 291.2,248.1 292.0,249.4 292.9,250.8 293.7,252.4 294.5,254.0 295.4,255.5 296.2,256.8 297.0,257.9 297.8,258.6 298.7,259.0 299.5,259.3 300.3,259.5 301.2,259.8 302.0,259.9 302.8,260.1 303.6,260.2 304.5,260.2 305.3,260.1 306.1,259.9 307.0,259.6 307.8,259.2 308.6,258.7 309.5,258.2 310.3,257.8 311.1,257.3 311.9,256.7 312.8,256.1 313.6,255.4 314.4,254.6 315.3,253.8 316.1,253.0 316.9,252.2 317.7,251.3 318.6,250.4 319.4,249.6 320.2,248.7 321.1,247.9 321.9,247.0 322.7,246.1 323.5,245.1 324.4,244.1 325.2,243.1 326.0,242.1 326.9,241.1 327.7,240.2 328.5,239.3 329.4,238.5 330.2,237.8 331.0,237.2 331.8,236.7 332.7,236.2 333.5,235.7 334.3,235.3 335.2,234.8 336.0,234.4 336.8,234.0 337.6,233.7 338.5,233.4 339.3,233.1 340.1,232.9 341.0,232.8 341.8,232.8 342.6,232.8 343.4,232.9 344.3,233.0 345.1,233.1 345.9,233.3 346.8,233.4 347.6,233.6 348.4,233.8 349.3,234.0 350.1,234.2 350.9,234.4 351.7,234.7 352.6,235.0 353.4,235.3 354.2,235.6 355.1,235.9 355.9,236.3 356.7,236.7 357.5,237.1 358.4,237.5 359.2,237.9 360.0,238.3 360.9,238.7 361.7,239.1 362.5,239.5 363.3,240.0 364.2,240.5 365.0,241.0 365.8,241.5 366.7,242.0 367.5,242.5 368.3,243.0 369.2,243.4 370.0,243.8 370.8,244.1 371.6,244.5 372.5,244.8 373.3,245.1 374.1,245.5 375.0,245.8 375.8,246.1 376.6,246.3 377.4,246.5 378.3,246.6 379.1,246.6 379.9,246.6 380.6,52.7 381.2,107.6 381.5,54.9 382.2,186.5 382.6,49.1 383.2,185.6 383.9,45.9 384.7,105.0 385.2,46.2 385.5,193.8 386.1,51.9 386.8,156.8 387.5,45.3 388.2,82.8 388.6,53.1 390.7,100.5 392.7,101.0 394.6,115.6 396.6,138.0 398.5,181.2 400.7,246.3 401.5,246.3 402.3,246.3 403.2,246.2 404.0,246.2 404.8,246.1 405.6,245.8 406.5,245.3 407.3,244.8 408.1,244.2 409.0,243.6 409.8,242.9 410.6,242.0 411.4,240.9 412.3,239.8 413.1,238.8 413.9,237.9 414.8,237.4 415.6,237.1 416.4,236.8 417.2,236.6 418.1,236.4 418.9,236.3 419.7,236.2 420.6,236.2 421.4,236.3 422.2,236.7 423.1,237.3 423.9,238.0 424.7,238.8 425.5,239.5 426.4,240.3 427.2,241.0 428.0,241.7 428.9,242.6 429.7,243.5 430.5,244.5 431.3,245.4 432.2,246.2 433.0,246.8 433.8,247.3 434.7,247.6 435.5,247.6 436.3,247.6 437.1,247.6 438.0,247.5 438.8,247.5 439.6,247.4 440.5,247.4 441.3,247.3 442.1,247.2 443.0,247.1 443.8,247.0 444.6,246.8 445.4,246.6 446.3,246.2 447.1,245.9 447.9,245.4 448.8,245.0 449.6,244.5 450.4,244.1 451.2,243.6 452.1,243.2 452.9,242.6 453.7,242.0 454.6,241.3 455.4,240.6 456.2,240.0 457.0,239.5 457.9,239.1 458.7,239.0 459.5,239.0 460.4,239.3 461.2,239.8 462.0,240.4 462.9,241.1 463.7,241.7 464.5,242.3 465.3,243.0 466.2,243.8 467.0,244.6 467.8,245.5 468.7,246.2 469.5,247.0 470.3,247.6 471.1,248.2 472.0,248.8 472.8,249.4 473.6,250.0 474.5,250.6 475.3,251.2 476.1,251.7 476.9,252.1 477.8,252.5 478.6,252.9 479.4,253.1 480.3,253.2 481.1,253.2 481.9,253.2 482.8,253.2 483.6,253.2 484.4,253.2 485.2,253.2 486.1,253.2 486.9,253.2 487.7,253.2 488.6,253.2 489.4,253.2 490.2,253.2 491.0,253.2 491.9,253.2 492.7,253.2 493.5,253.2 494.4,253.3 495.2,253.4 496.0,253.6 496.9,253.8 497.7,254.2 498.5,254.3 499.3,254.1 500.2,256.6 501.0,254.1 501.8,254.0 502.7,257.0 503.5,257.5 504.3,255.9 505.1,257.2 506.0,259.4 506.8,256.1 507.6,257.1 508.5,258.0 509.3,255.4 510.1,257.9 510.9,259.3 511.8,258.7 512.6,260.4 513.4,260.5 514.3,259.8 515.1,261.4 515.9,261.9 516.8,260.1 517.6,261.7" stroke="#3c3ca0"/>
<polyline points="72.3,296.5 73.1,296.1 74.0,295.7 74.8,295.3 75.6,294.9 76.4,294.5 77.3,294.0 78.1,293.6 78.9,293.2 79.8,292.8 80.6,292.4 81.4,292.0 82.3,291.6 83.1,291.2 83.9,290.9 84.7,290.5 85.6,290.1 86.4,289.7 87.2,289.3 88.1,289.0 88.9,288.6 89.7,288.2 90.5,287.9 91.4,287.5 92.2,287.1 93.0,286.8 93.9,286.4 94.7,286.1 95.5,285.8 96.3,285.4 97.2,285.1 98.0,284.8 98.8,284.4 99.7,284.1 100.5,283.8 101.3,283.5 102.2,283.2 103.0,282.9 103.8,282.6 104.6,282.3 105.5,282.0 106.3,281.7 107.1,281.5 108.0,281.2 108.8,281.0 109.6,280.8 110.4,280.6 111.3,280.4 112.1,280.2 112.9,280.0 113.8,279.8 114.6,279.6 115.4,279.5 116.2,279.3 117.1,279.1 117.9,278.9 118.7,278.8 119.6,278.6 120.4,278.4 121.2,278.2 122.1,278.1 122.9,277.9 123.7,277.7 124.5,277.5 125.4,277.3 126.2,277.1 127.0,276.9 127.9,276.6 128.7,276.4 129.5,276.2 130.3,275.9 131.2,275.6 132.0,275.4 132.8,275.1 133.7,274.7 134.5,274.4 135.3,274.1 136.1,273.7 137.0,273.3 137.8,272.9 138.6,272.5 139.5,272.1 140.3,271.6 141.1,271.1 142.0,270.2 142.8,269.0 143.6,267.6 144.4,266.1 145.3,264.5 146.1,263.0 146.9,261.6 147.8,260.5 148.6,259.7 149.4,259.2 150.2,258.9 151.1,258.5 151.9,258.2 152.7,258.0 153.6,257.7 154.4,257.5 155.2,257.3 156.0,257.2 156.9,257.1 157.7,257.0 158.5,256.9 159.4,256.8 160.2,256.8 161.0,256.7 161.9,256.6 162.7,256.6 163.5,256.5 164.3,256.5 165.2,256.5 166.0,256.4 166.8,256.4 167.7,256.3 168.5,256.3 169.3,256.3 170.1,256.3 171.0,256.2 171.8,256.2 172.6,256.2 173.5,256.1 174.3,256.1 175.1,256.1 175.9,256.1 176.8,256.0 177.6,256.0 178.4,256.0 179.3,255.9 180.1,255.9 180.9,255.8 181.8,255.8 182.6,255.7 183.4,255.7 184.2,255.6 185.1,255.6 185.9,255.5 186.7,255.4 187.6,255.3 188.4,255.2 189.2,255.0 190.0,254.9 190.9,254.7 191.7,254.5 192.5,254.3 193.4,254.1 194.2,253.8 195.0,253.6 195.9,253.3 196.7,253.1 197.5,252.8 198.3,252.5 199.2,252.2 200.0,252.0 200.8,251.7 201.7,251.4 202.5,251.1 203.3,250.9 204.1,250.6 205.0,250.3 205.8,250.1 206.6,249.9 207.5,249.6 208.3,249.4 209.1,249.2 209.9,248.9 210.8,248.7 211.6,248.4 212.4,248.2 213.3,248.0 214.1,247.7 214.9,247.5 215.8,247.2 216.6,247.0 217.4,246.7 218.2,246.5 219.1,246.3 219.9,246.0 220.7,245.8 221.6,245.6 222.4,245.4 223.2,245.1 224.0,244.9 224.9,244.7 225.7,244.5 226.5,244.3 227.4,244.1 228.2,243.9 229.0,243.8 229.8,243.6 230.7,243.4 231.5,243.3 232.3,243.1 233.2,242.9 234.0,242.8 234.8,242.6 235.7,242.5 236.5,242.3 237.3,242.2 238.1,242.0 239.0,241.9 239.8,241.8 240.6,241.6 241.5,241.5 242.3,241.3 243.1,241.2 243.9,241.0 244.8,240.9 245.6,240.8 246.4,240.6 247.3,240.5 248.1,240.3 248.9,240.2 249.7,240.0 250.6,239.8 251.4,239.6 252.2,239.4 253.1,239.3 253.9,239.1 254.7,238.9 255.6,238.6 256.4,238.4 257.2,238.2 258.0,238.0 258.9,237.9 259.7,237.7 260.5,237.5 261.4,237.3 262.2,237.2 263.0,237.0 263.8,236.9 264.7,236.8 265.5,236.7 266.3,236.6 267.2,236.5 268.0,236.5 268.8,236.4 269.6,236.4 270.5,236.5 271.3,236.5 272.1,236.6 273.0,236.8 273.8,236.9 274.6,237.1 275.5,237.3 276.3,237.5 277.1,237.7 277.9,237.9 279.3,241.3 279.7,243.1 280.2,237.8 280.8,247.0 281.2,245.9 281.7,237.2 282.2,242.4 282.8,245.2 283.4,248.8 284.0,243.8 284.6,247.9 285.2,241.9 285.8,239.5 286.2,238.3 286.6,238.7 287.2,230.7 287.9,234.7 288.5,244.3 289.1,243.9 289.5,240.2 290.4,241.5 291.2,241.8 292.0,242.1 292.9,242.3 293.7,242.6 294.5,242.9 295.4,243.2 296.2,243.5 297.0,243.8 297.8,244.2 298.7,244.6 299.5,244.9 300.3,245.3 301.2,245.6 302.0,245.9 302.8,246.2 303.6,246.4 304.5,246.6 305.3,246.7 306.1,246.8 307.0,246.8 307.8,246.7 308.6,246.5 309.5,246.2 310.3,245.8 311.1,245.4 311.9,244.9 312.8,244.4 313.6,243.8 314.4,243.3 315.3,242.7 316.1,242.1 316.9,241.5 317.7,240.9 318.6,240.3 319.4,239.8 320.2,239.3 321.1,238.9 321.9,238.6 322.7,238.3 323.5,238.1 324.4,237.9 325.2,237.7 326.0,237.5 326.9,237.3 327.7,237.2 328.5,237.0 329.4,236.8 330.2,236.7 331.0,236.5 331.8,236.4 332.7,236.2 333.5,236.1 334.3,236.0 335.2,235.8 336.0,235.7 336.8,235.6 337.6,235.5 338.5,235.4 339.3,235.3 340.1,235.2 341.0,235.1 341.8,235.0 342.6,234.9 343.4,234.8 344.3,234.8 345.1,234.7 345.9,234.6 346.8,234.6 347.6,234.5 348.4,234.4 349.3,234.4 350.1,234.3 350.9,234.3 351.7,234.2 352.6,234.2 353.4,234.1 354.2,234.1 355.1,234.0 355.9,234.0 356.7,233.9 357.5,233.9 358.4,233.8 359.2,233.8 360.0,233.8 360.9,233.7 361.7,233.7 362.5,233.7 363.3,233.6 364.2,233.6 365.0,233.6 365.8,233.6 366.7,233.6 367.5,233.5 368.3,233.5 369.2,233.6 370.0,233.6 370.8,233.8 371.6,234.0 372.5,234.3 373.3,234.6 374.1,234.9 375.0,235.2 375.8,235.5 376.6,235.8 377.4,236.0 378.3,236.2 379.1,236.3 379.9,236.4 380.5,58.2 380.9,92.4 381.3,54.6 381.6,94.7 382.1,51.0 382.9,103.0 383.3,59.7 383.8,80.9 384.2,61.5 384.5,98.6 385.0,53.6 385.6,157.0 386.0,49.2 386.6,142.1 387.1,52.3 387.5,81.5 388.0,56.8 388.6,91.2 389.0,48.8 390.7,109.4 391.9,114.5 393.1,108.4 394.3,134.0 395.5,175.9 397.3,237.8 398.2,237.8 399.0,237.8 399.8,237.8 400.7,237.8 401.5,237.8 402.3,237.7 403.2,237.5 404.0,237.2 404.8,236.9 405.6,236.6 406.5,236.3 407.3,235.8 408.1,235.2 409.0,234.5 409.8,233.8 410.6,233.1 411.4,232.3 412.3,231.6 413.1,230.9 413.9,230.3 414.8,229.8 415.6,229.4 416.4,229.1 417.2,228.8 418.1,228.5 418.9,228.2 419.7,228.0 420.6,227.7 421.4,227.5 422.2,227.2 423.1,227.0 423.9,226.8 424.7,226.6 425.5,226.4 426.4,226.2 427.2,226.0 428.0,225.8 428.9,225.5 429.7,225.3 430.5,225.1 431.3,224.8 432.2,224.6 433.0,224.4 433.8,224.2 434.7,224.0 435.5,223.8 436.3,223.6 437.1,223.5 438.0,223.4 438.8,223.3 439.6,223.3 440.5,223.3 441.3,223.4 442.1,223.5 443.0,223.8 443.8,224.0 444.6,224.4 445.4,224.7 446.3,225.1 447.1,225.5 447.9,225.9 448.8,226.3 449.6,226.6 450.4,227.1 451.2,227.6 452.1,228.3 452.9,228.9 453.7,229.5 454.6,230.1 455.4,230.5 456.2,230.8 457.0,230.8 457.9,230.8 458.7,230.6 459.5,230.4 460.4,230.2 461.2,230.0 462.0,229.7 462.9,229.4 463.7,229.2 464.5,229.0 465.3,228.9 466.2,228.9 467.0,228.9 467.8,228.9 468.7,228.9 469.5,228.9 470.3,228.9 471.1,228.9 472.0,229.0 472.8,229.0 473.6,229.0 474.5,229.0 475.3,229.1 476.1,229.1 476.9,229.1 477.8,229.2 478.6,229.2 479.4,229.3 480.3,229.3 481.1,229.3 481.9,229.4 482.8,229.4 483.6,229.5 484.4,229.6 485.2,229.7 486.1,229.8 486.9,229.9 487.7,230.0 488.6,230.1 489.4,230.3 490.2,230.4 491.0,230.5 491.9,230.7 492.7,230.8 493.5,230.9 494.4,231.0 495.2,231.2 496.0,231.3 496.9,231.4 497.7,233.0 498.5,231.2 499.3,231.2 500.2,231.4 501.0,231.7 501.8,230.6 502.7,231.9 503.5,231.6 504.3,232.1 505.1,230.8 506.0,235.0 506.8,231.6 507.6,233.4 508.5,233.5 509.3,234.3 510.1,235.4 510.9,233.7 511.8,234.1 512.6,232.9 513.4,235.1 514.3,231.9 515.1,233.3 515.9,233.9 516.8,234.4 517.6,234.5" stroke="#94781e"/>
<polyline points="72.0,319.0 73.5,318.8 75.7,318.4 78.0,317.9 80.0,317.0 81.5,315.7 82.8,314.0 83.9,312.1 85.0,310.0 86.1,307.7 87.1,305.1 88.1,302.5 89.0,300.0 89.8,297.9 90.6,296.1 91.4,293.9 92.4,291.0 93.7,287.0 95.1,282.2 96.6,277.1 98.0,272.0 99.4,266.7 100.7,261.0 102.0,255.6 103.3,251.0 104.5,247.6 105.5,245.1 106.7,242.8 108.0,240.0 109.6,236.5 111.4,232.8 113.2,228.8 115.0,225.0 116.8,221.2 118.6,217.2 120.4,213.5 122.0,210.0 123.4,207.2 124.6,204.9 125.9,202.4 127.5,199.0 129.6,194.2 132.1,188.4 134.6,182.4 137.0,177.0 139.1,172.4 141.1,168.1 143.0,164.1 145.0,160.0 146.9,156.0 148.8,152.2 150.8,148.3 153.0,144.0 155.5,139.2 158.3,134.1 161.2,128.9 164.0,124.0 166.8,119.3 169.6,114.6 172.4,110.2 175.2,106.3 178.1,102.9 181.1,100.0 183.8,97.4 186.2,95.3 187.9,93.7 189.0,92.7 190.1,91.9 191.7,91.0 193.9,90.1 196.6,89.3 199.3,88.5 201.6,87.6 203.4,86.7 204.8,85.7 206.3,84.6 208.2,83.2 210.7,81.2 213.6,78.8 216.6,76.3 219.3,74.3 221.8,72.8 224.2,71.6 226.4,70.6 228.1,69.9 229.2,69.5 229.9,69.3 230.4,69.3 231.0,69.4 231.8,69.5 232.7,69.6 233.6,70.0 234.7,71.0 235.9,72.8 237.3,75.1 238.7,77.6 240.0,80.0 241.3,82.1 242.5,84.1 243.8,86.0 245.0,88.0 246.2,90.3 247.3,92.8 248.4,94.9 249.6,95.9 250.9,95.4 252.2,93.9 253.6,91.9 255.0,90.0 256.5,88.2 257.9,86.3 259.5,84.5 261.0,83.0 262.6,81.8 264.2,80.7 265.8,80.0 267.3,79.8 268.8,80.2 270.2,81.1 271.6,82.4 273.0,84.0 274.4,86.2 275.9,89.0 277.2,91.8 278.3,94.0 279.1,94.3 279.6,93.4 280.1,93.8 280.5,98.0 280.9,109.8 281.2,126.8 281.5,142.3 281.8,150.0 282.1,146.0 282.3,134.5 282.5,120.8 282.8,110.0 283.1,103.4 283.4,98.3 283.7,94.0 284.0,90.0 284.3,85.2 284.6,80.2 284.9,76.9 285.2,77.0 285.5,83.1 285.7,93.6 286.0,104.0 286.2,110.0 286.4,108.0 286.6,101.1 286.8,95.0 287.0,95.0 287.2,105.7 287.5,123.1 287.7,140.2 288.0,150.0 288.2,147.7 288.5,138.1 288.8,128.2 289.0,125.0 289.2,132.6 289.5,146.6 289.8,161.0 290.0,170.0 290.2,170.3 290.5,165.5 290.7,160.5 291.0,160.0 291.2,166.6 291.3,177.3 291.6,188.6 292.2,197.0 293.3,201.4 294.7,203.7 296.2,204.9 297.6,206.0 298.8,207.0 299.9,207.5 300.9,207.8 302.0,208.0 303.0,208.4 304.0,208.9 305.1,209.0 306.5,208.4 308.3,206.9 310.5,204.7 312.7,202.2 315.0,200.0 317.2,198.2 319.3,196.5 321.6,194.8 324.0,193.0 326.7,191.0 329.7,188.8 332.6,186.7 335.0,185.0 336.9,183.8 338.4,183.0 339.7,182.4 341.0,182.0 342.3,181.6 343.6,181.4 344.8,181.5 346.0,182.0 347.2,182.8 348.4,184.0 349.7,185.7 351.0,188.0 352.5,191.6 354.0,196.3 355.5,200.8 357.0,204.0 358.3,205.4 359.5,205.7 360.7,205.4 362.0,205.0 363.5,204.6 365.0,203.8 366.5,202.9 368.0,202.0 369.3,201.1 370.6,200.2 371.8,199.1 373.0,198.0 374.1,197.6 375.2,197.7 376.2,196.5 377.0,192.5 377.6,184.2 377.9,172.8 378.2,160.6 378.5,150.0 378.9,140.2 379.2,130.5 379.6,123.0 380.0,120.0 380.5,124.9 381.0,135.6 381.5,146.0 382.0,150.0 382.5,143.0 383.0,129.4 383.5,116.0 384.0,110.0 384.5,116.0 385.0,129.4 385.5,143.0 386.0,150.0 386.5,146.0 387.0,135.6 387.5,124.9 388.0,120.0 388.5,124.2 389.0,133.8 389.5,143.9 390.0,150.0 390.4,149.8 390.8,146.2 391.2,142.0 391.5,140.0 391.9,143.7 392.2,150.8 392.5,155.0 392.8,150.0 393.0,128.3 393.1,95.2 393.2,63.7 393.3,47.0 393.5,54.0 393.7,76.0 394.0,99.2 394.2,110.0 394.4,100.4 394.6,79.1 394.8,57.5 395.0,47.0 395.2,54.6 395.4,72.9 395.6,91.5 395.8,100.0 396.0,90.5 396.1,70.4 396.3,51.8 396.4,47.0 396.5,63.0 396.6,92.1 396.8,124.3 396.9,150.0 397.0,166.0 397.2,177.7 397.3,188.0 397.5,200.0 397.7,215.1 397.9,231.6 398.1,247.2 398.3,260.0 398.5,269.3 398.6,276.2 398.7,281.3 398.8,285.0" stroke="#707070"/>
<polyline points="72.3,314.7 73.1,314.5 74.0,314.2 74.8,313.9 75.6,313.5 76.4,313.0 77.3,312.6 78.1,312.1 78.9,311.5 79.8,310.9 80.6,310.3 81.4,309.6 82.3,309.0 83.1,308.3 83.9,307.5 84.7,306.8 85.6,306.0 86.4,305.3 87.2,304.5 88.1,303.6 88.9,302.6 89.7,301.6 90.5,300.4 91.4,299.3 92.2,298.0 93.0,296.8 93.9,295.4 94.7,294.1 95.5,292.8 96.3,291.4 97.2,290.1 98.0,288.7 98.8,287.2 99.7,285.6 100.5,283.9 101.3,282.2 102.2,280.4 103.0,278.7 103.8,277.1 104.6,275.6 105.5,274.2 106.3,272.9 107.1,271.9 108.0,271.0 108.8,270.2 109.6,269.3 110.4,268.5 111.3,267.8 112.1,267.1 112.9,266.5 113.8,266.0 114.6,265.7 115.4,265.5 116.2,265.5 117.1,265.5 117.9,265.5 118.7,265.6 119.6,265.6 120.4,265.7 121.2,265.7 122.1,265.8 122.9,265.8 123.7,265.9 124.5,265.9 125.4,266.0 126.2,266.0 127.0,266.1 127.9,266.1 128.7,266.1 129.5,266.2 130.3,266.2 131.2,266.2 132.0,266.2 132.8,266.2 133.7,266.2 134.5,266.3 135.3,266.3 136.1,266.3 137.0,266.4 137.8,266.6 138.6,266.8 139.5,267.0 140.3,267.2 141.1,267.1 142.0,266.5 142.8,265.3 143.6,263.6 144.4,261.7 145.3,258.9 146.1,252.8 146.9,244.6 147.8,236.2 148.6,229.7 149.4,226.4 150.2,223.8 151.1,221.6 151.9,219.5 152.7,217.7 153.6,216.1 154.4,214.8 155.2,213.6 156.0,212.6 156.9,211.7 157.7,211.0 158.5,210.4 159.4,209.8 160.2,209.2 161.0,208.7 161.9,208.3 162.7,207.9 163.5,207.6 164.3,207.3 165.2,207.1 166.0,207.0 166.8,206.8 167.7,206.7 168.5,206.6 169.3,206.4 170.1,206.3 171.0,206.2 171.8,206.1 172.6,206.0 173.5,205.9 174.3,205.8 175.1,205.7 175.9,205.7 176.8,205.6 177.6,205.5 178.4,205.5 179.3,205.4 180.1,205.4 180.9,205.3 181.8,205.3 182.6,205.2 183.4,205.2 184.2,205.2 185.1,205.2 185.9,205.2 186.7,205.2 187.6,205.2 188.4,205.2 189.2,205.2 190.0,205.3 190.9,205.3 191.7,205.4 192.5,205.5 193.4,205.5 194.2,205.6 195.0,205.8 195.9,206.2 196.7,206.8 197.5,207.5 198.3,208.2 199.2,208.7 200.0,209.0 200.8,209.1 201.7,209.3 202.5,209.4 203.3,209.5 204.1,209.6 205.0,209.7 205.8,209.7 206.6,209.8 207.5,209.8 208.3,209.6 209.1,209.4 209.9,209.1 210.8,208.7 211.6,208.3 212.4,207.8 213.3,207.4 214.1,206.9 214.9,206.5 215.8,206.1 216.6,205.7 217.4,205.3 218.2,204.9 219.1,204.4 219.9,204.0 220.7,203.6 221.6,203.2 222.4,202.9 223.2,202.6 224.0,202.4 224.9,202.1 225.7,201.9 226.5,201.7 227.4,201.6 228.2,201.5 229.0,201.5 229.8,201.7 230.7,202.0 231.5,202.5 232.3,203.0 233.2,203.5 234.0,204.1 234.8,204.8 235.7,205.6 236.5,206.5 237.3,207.4 238.1,208.5 239.0,209.9 239.8,211.2 240.6,212.3 241.5,212.9 242.3,213.4 243.1,213.8 243.9,214.2 244.8,214.6 245.6,214.8 246.4,215.1 247.3,215.2 248.1,215.3 248.9,215.3 249.7,215.2 250.6,215.1 251.4,214.8 252.2,214.6 253.1,214.3 253.9,213.9 254.7,213.6 255.6,213.3 256.4,213.0 257.2,212.6 258.0,212.3 258.9,211.8 259.7,211.4 260.5,211.0 261.4,210.6 262.2,210.4 263.0,210.3 263.8,210.3 264.7,210.4 265.5,210.5 266.3,210.7 267.2,210.9 268.0,211.2 268.8,211.4 269.6,211.7 270.5,212.1 271.3,212.6 272.1,213.1 273.0,213.8 273.8,214.6 274.6,215.6 275.5,216.6 276.3,218.0 277.1,219.9 277.9,222.3 278.8,225.1 279.6,228.2 280.4,231.5 281.3,235.0 282.1,238.7 282.9,243.6 283.7,249.5 284.6,256.1 285.4,263.1 286.2,269.9 287.1,276.3 287.9,281.9 288.7,286.4 289.6,289.3 290.4,290.6 291.2,291.5 292.0,292.3 292.9,293.0 293.7,293.7 294.5,294.2 295.4,294.7 296.2,295.0 297.0,295.3 297.8,295.6 298.7,295.7 299.5,295.8 300.3,296.0 301.2,296.1 302.0,296.1 302.8,296.2 303.6,296.3 304.5,296.3 305.3,296.2 306.1,296.1 307.0,296.0 307.8,295.8 308.6,295.6 309.5,295.4 310.3,295.1 311.1,294.9 311.9,294.6 312.8,294.2 313.6,293.8 314.4,293.4 315.3,292.9 316.1,292.4 316.9,291.9 317.7,291.4 318.6,290.9 319.4,290.3 320.2,289.8 321.1,289.3 321.9,288.9 322.7,288.3 323.5,287.8 324.4,287.2 325.2,286.7 326.0,286.1 326.9,285.5 327.7,285.0 328.5,284.5 329.4,284.1 330.2,283.7 331.0,283.3 331.8,283.1 332.7,282.8 333.5,282.5 334.3,282.3 335.2,282.0 336.0,281.8 336.8,281.6 337.6,281.4 338.5,281.2 339.3,281.1 340.1,281.0 341.0,280.9 341.8,280.9 342.6,280.9 343.4,280.9 344.3,281.0 345.1,281.0 345.9,281.1 346.8,281.2 347.6,281.3 348.4,281.4 349.3,281.5 350.1,281.6 350.9,281.7 351.7,281.8 352.6,281.9 353.4,282.1 354.2,282.3 355.1,282.4 355.9,282.6 356.7,282.8 357.5,283.0 358.4,283.2 359.2,283.4 360.0,283.6 360.9,283.8 361.7,284.0 362.5,284.2 363.3,284.4 364.2,284.7 365.0,284.9 365.8,285.2 366.7,285.4 367.5,285.7 368.3,285.9 369.2,286.1 370.0,286.3 370.8,286.5 371.6,286.6 372.5,286.7 373.3,286.8 374.1,286.9 375.0,287.0 375.8,287.1 376.6,287.2 377.4,287.4 378.3,287.5 379.1,287.7 379.6,159.9 380.0,195.7 380.4,163.2 381.1,195.5 381.6,161.4 382.0,180.1 382.7,160.5 383.3,222.7 383.9,163.7 384.3,247.9 384.7,171.6 385.4,201.1 386.0,162.3 386.5,185.9 387.2,165.7 387.8,183.5 388.5,163.7 390.3,195.2 391.6,196.2 392.9,204.0 394.2,224.9 395.4,262.5 397.3,309.3 398.2,310.2 399.0,311.0 399.8,311.7 400.7,312.3 401.5,312.8 402.3,313.2 403.2,313.4 404.0,313.5 404.8,313.5 405.6,313.4 406.5,313.2 407.3,313.0 408.1,312.7 409.0,312.5 409.8,312.2 410.6,311.9 411.4,311.7 412.3,311.5 413.1,311.3 413.9,311.1 414.8,311.1 415.6,311.1 416.4,311.1 417.2,311.1 418.1,311.1 418.9,311.2 419.7,311.2 420.6,311.2 421.4,311.3 422.2,311.4 423.1,311.5 423.9,311.7 424.7,311.8 425.5,312.0 426.4,312.2 427.2,312.3 428.0,312.5 428.9,312.6 429.7,312.7 430.5,312.7 431.3,312.7 432.2,312.6 433.0,312.4 433.8,312.1 434.7,311.7 435.5,311.3 436.3,310.8 437.1,310.2 438.0,309.6 438.8,309.0 439.6,308.4 440.5,307.8 441.3,307.2 442.1,306.6 443.0,306.0 443.8,305.5 444.6,305.0 445.4,304.6 446.3,304.2 447.1,303.8 447.9,303.4 448.8,303.0 449.6,302.5 450.4,302.1 451.2,301.7 452.1,301.3 452.9,300.9 453.7,300.5 454.6,300.2 455.4,299.9 456.2,299.7 457.0,299.5 457.9,299.4 458.7,299.3 459.5,299.4 460.4,299.6 461.2,299.9 462.0,300.3 462.9,300.7 463.7,301.1 464.5,301.5 465.3,301.8 466.2,302.2 467.0,302.6 467.8,303.0 468.7,303.3 469.5,303.6 470.3,303.8 471.1,304.0 472.0,304.1 472.8,304.3 473.6,304.4 474.5,304.5 475.3,304.6 476.1,304.7 476.9,304.8 477.8,304.9 478.6,304.9 479.4,305.0 480.3,305.1 481.1,305.2 481.9,305.2 482.8,305.3 483.6,305.4 484.4,305.5 485.2,305.6 486.1,305.7 486.9,305.8 487.7,305.9 488.6,306.0 489.4,306.1 490.2,306.2 491.0,306.3 491.9,306.4 492.7,306.5 493.5,306.6 494.4,306.7 495.2,306.8 496.0,306.9 496.9,307.0 497.7,307.0 498.5,307.4 499.3,308.1 500.2,308.0 501.0,306.8 501.8,307.1 502.7,306.6 503.5,310.1 504.3,308.9 505.1,309.1 506.0,308.7 506.8,309.7 507.6,310.0 508.5,308.8 509.3,309.8 510.1,311.5 510.9,308.9 511.8,309.4 512.6,311.3 513.4,309.9 514.3,311.7 515.1,309.8 515.9,311.4 516.8,312.1 517.6,311.7" stroke="#a4bc34"/>
<polyline points="72.3,303.5 73.1,303.2 74.0,302.9 74.8,302.6 75.6,302.3 76.4,302.0 77.3,301.7 78.1,301.4 78.9,301.1 79.8,300.9 80.6,300.6 81.4,300.3 82.3,300.0 83.1,299.7 83.9,299.4 84.7,299.2 85.6,298.9 86.4,298.6 87.2,298.3 88.1,298.1 88.9,297.8 89.7,297.5 90.5,297.3 91.4,297.0 92.2,296.7 93.0,296.5 93.9,296.2 94.7,296.0 95.5,295.7 96.3,295.5 97.2,295.3 98.0,295.0 98.8,294.8 99.7,294.5 100.5,294.3 101.3,294.1 102.2,293.9 103.0,293.6 103.8,293.4 104.6,293.2 105.5,293.0 106.3,292.8 107.1,292.6 108.0,292.5 108.8,292.3 109.6,292.1 110.4,292.0 111.3,291.8 112.1,291.7 112.9,291.5 113.8,291.4 114.6,291.2 115.4,291.1 116.2,291.0 117.1,290.8 117.9,290.7 118.7,290.6 119.6,290.4 120.4,290.3 121.2,290.2 122.1,290.0 122.9,289.9 123.7,289.7 124.5,289.6 125.4,289.4 126.2,289.3 127.0,289.1 127.9,289.0 128.7,288.8 129.5,288.6 130.3,288.4 131.2,288.2 132.0,288.1 132.8,287.8 133.7,287.6 134.5,287.4 135.3,287.2 136.1,286.9 137.0,286.7 137.8,286.4 138.6,286.1 139.5,285.8 140.3,285.5 141.1,285.2 142.0,284.7 142.8,284.0 143.6,283.3 144.4,282.5 145.3,281.7 146.1,280.9 146.9,280.2 147.8,279.6 148.6,279.2 149.4,279.0 150.2,278.8 151.1,278.6 151.9,278.4 152.7,278.3 153.6,278.2 154.4,278.1 155.2,278.0 156.0,277.9 156.9,277.8 157.7,277.8 158.5,277.7 159.4,277.7 160.2,277.7 161.0,277.6 161.9,277.6 162.7,277.6 163.5,277.6 164.3,277.5 165.2,277.5 166.0,277.5 166.8,277.5 167.7,277.5 168.5,277.5 169.3,277.4 170.1,277.4 171.0,277.4 171.8,277.4 172.6,277.4 173.5,277.4 174.3,277.4 175.1,277.3 175.9,277.3 176.8,277.3 177.6,277.3 178.4,277.3 179.3,277.3 180.1,277.2 180.9,277.2 181.8,277.2 182.6,277.1 183.4,277.1 184.2,277.1 185.1,277.0 185.9,277.0 186.7,276.9 187.6,276.8 188.4,276.7 189.2,276.5 190.0,276.2 190.9,275.9 191.7,275.6 192.5,275.3 193.4,274.9 194.2,274.4 195.0,274.0 195.9,273.5 196.7,273.0 197.5,272.6 198.3,272.0 199.2,271.5 200.0,271.0 200.8,270.5 201.7,270.0 202.5,269.5 203.3,269.0 204.1,268.5 205.0,268.0 205.8,267.5 206.6,267.1 207.5,266.7 208.3,266.3 209.1,265.9 209.9,265.5 210.8,265.0 211.6,264.6 212.4,264.2 213.3,263.8 214.1,263.3 214.9,262.9 215.8,262.5 216.6,262.0 217.4,261.6 218.2,261.2 219.1,260.8 219.9,260.4 220.7,260.0 221.6,259.6 222.4,259.2 223.2,258.8 224.0,258.4 224.9,258.0 225.7,257.7 226.5,257.3 227.4,257.0 228.2,256.7 229.0,256.4 229.8,256.1 230.7,255.8 231.5,255.5 232.3,255.2 233.2,254.9 234.0,254.6 234.8,254.4 235.7,254.1 236.5,253.8 237.3,253.6 238.1,253.3 239.0,253.1 239.8,252.8 240.6,252.6 241.5,252.3 242.3,252.1 243.1,251.8 243.9,251.6 244.8,251.3 245.6,251.0 246.4,250.8 247.3,250.5 248.1,250.3 248.9,250.0 249.7,249.7 250.6,249.4 251.4,249.1 252.2,248.7 253.1,248.4 253.9,248.1 254.7,247.7 255.6,247.3 256.4,247.0 257.2,246.6 258.0,246.3 258.9,245.9 259.7,245.6 260.5,245.3 261.4,245.0 262.2,244.7 263.0,244.4 263.8,244.2 264.7,244.0 265.5,243.8 266.3,243.7 267.2,243.5 268.0,243.5 268.8,243.4 269.6,243.4 270.5,243.4 271.3,243.5 272.1,243.6 273.0,243.7 273.8,243.8 274.6,243.9 275.5,244.1 276.3,244.2 277.1,244.4 277.9,244.6 278.8,244.9 280.1,242.8 280.6,257.9 281.2,241.8 281.7,271.2 282.3,234.0 282.9,263.6 283.4,230.7 283.9,260.3 284.5,238.1 285.1,260.4 285.6,228.4 286.2,266.4 287.1,264.9 287.9,268.1 288.7,271.1 289.6,273.9 290.4,276.6 291.2,278.9 292.0,280.8 292.9,282.2 293.7,283.1 294.5,283.4 295.4,283.6 296.2,283.9 297.0,284.1 297.8,284.3 298.7,284.5 299.5,284.6 300.3,284.8 301.2,284.9 302.0,285.0 302.8,285.1 303.6,285.2 304.5,285.3 305.3,285.3 306.1,285.4 307.0,285.3 307.8,285.2 308.6,285.0 309.5,284.7 310.3,284.3 311.1,283.8 311.9,283.3 312.8,282.7 313.6,282.0 314.4,281.4 315.3,280.7 316.1,280.0 316.9,279.3 317.7,278.7 318.6,278.0 319.4,277.4 320.2,276.9 321.1,276.4 321.9,276.0 322.7,275.7 323.5,275.5 324.4,275.2 325.2,275.0 326.0,274.8 326.9,274.6 327.7,274.4 328.5,274.2 329.4,274.0 330.2,273.8 331.0,273.7 331.8,273.5 332.7,273.3 333.5,273.2 334.3,273.0 335.2,272.8 336.0,272.7 336.8,272.6 337.6,272.4 338.5,272.3 339.3,272.2 340.1,272.1 341.0,272.0 341.8,271.9 342.6,271.8 343.4,271.7 344.3,271.6 345.1,271.6 345.9,271.5 346.8,271.4 347.6,271.4 348.4,271.4 349.3,271.3 350.1,271.3 350.9,271.3 351.7,271.2 352.6,271.2 353.4,271.2 354.2,271.1 355.1,271.1 355.9,271.1 356.7,271.0 357.5,271.0 358.4,271.0 359.2,271.0 360.0,270.9 360.9,270.9 361.7,270.9 362.5,270.9 363.3,270.9 364.2,270.9 365.0,270.8 365.8,270.8 366.7,270.8 367.5,270.8 368.3,270.8 369.2,270.8 370.0,270.9 370.8,270.9 371.6,271.0 372.5,271.1 373.3,271.2 374.1,271.4 375.0,271.5 375.8,271.7 376.6,271.9 377.4,272.1 378.3,272.3 379.1,272.5 379.8,85.4 380.2,114.2 380.7,79.4 381.0,128.8 381.4,82.8 381.8,147.7 382.3,86.9 382.9,135.3 383.3,76.6 384.0,112.2 384.6,88.5 385.2,147.9 385.7,80.6 386.2,189.4 386.7,82.8 387.0,170.8 387.4,84.5 388.1,146.9 388.6,84.2 389.1,172.7 389.7,88.9 390.1,212.3 391.7,120.3 393.1,127.7 394.5,135.3 396.0,164.5 397.4,206.8 399.0,291.7 399.8,292.3 400.7,292.8 401.5,293.2 402.3,293.5 403.2,293.7 404.0,293.7 404.8,293.7 405.6,293.7 406.5,293.6 407.3,293.6 408.1,293.5 409.0,293.3 409.8,293.2 410.6,293.1 411.4,292.9 412.3,292.8 413.1,292.6 413.9,292.5 414.8,292.3 415.6,292.1 416.4,291.9 417.2,291.6 418.1,291.3 418.9,291.0 419.7,290.6 420.6,290.2 421.4,289.8 422.2,289.4 423.1,289.0 423.9,288.6 424.7,288.1 425.5,287.7 426.4,287.3 427.2,286.8 428.0,286.4 428.9,286.0 429.7,285.7 430.5,285.3 431.3,285.0 432.2,284.7 433.0,284.5 433.8,284.2 434.7,284.1 435.5,283.9 436.3,283.8 437.1,283.7 438.0,283.6 438.8,283.5 439.6,283.3 440.5,283.2 441.3,283.1 442.1,283.0 443.0,282.9 443.8,282.8 444.6,282.7 445.4,282.6 446.3,282.5 447.1,282.4 447.9,282.4 448.8,282.3 449.6,282.2 450.4,282.1 451.2,282.1 452.1,282.0 452.9,282.0 453.7,281.9 454.6,281.9 455.4,281.8 456.2,281.8 457.0,281.8 457.9,281.7 458.7,281.7 459.5,281.7 460.4,281.7 461.2,281.7 462.0,281.8 462.9,281.8 463.7,281.8 464.5,281.9 465.3,282.0 466.2,282.0 467.0,282.1 467.8,282.2 468.7,282.3 469.5,282.4 470.3,282.5 471.1,282.5 472.0,282.6 472.8,282.7 473.6,282.8 474.5,282.9 475.3,283.0 476.1,283.1 476.9,283.1 477.8,283.2 478.6,283.3 479.4,283.3 480.3,283.4 481.1,283.5 481.9,283.5 482.8,283.6 483.6,283.7 484.4,283.7 485.2,283.8 486.1,283.9 486.9,283.9 487.7,284.0 488.6,284.1 489.4,284.1 490.2,284.2 491.0,284.3 491.9,284.4 492.7,284.4 493.5,284.5 494.4,284.6 495.2,284.7 496.0,284.8 496.9,284.9 497.7,285.2 498.5,286.4 499.3,286.8 500.2,285.7 501.0,287.0 501.8,284.5 502.7,284.4 503.5,282.6 504.3,284.9 505.1,286.7 506.0,287.2 506.8,290.2 507.6,287.1 508.5,286.8 509.3,285.7 510.1,286.2 510.9,286.4 511.8,287.0 512.6,286.7 513.4,286.0 514.3,289.0 515.1,288.4 515.9,289.7 516.8,286.5 517.6,287.0" stroke="#5060c8"/>
<polyline points="72.3,300.7 73.1,300.7 74.0,300.7 74.8,300.7 75.6,300.7 76.4,300.7 77.3,300.7 78.1,300.7 78.9,300.6 79.8,300.6 80.6,300.6 81.4,300.6 82.3,300.6 83.1,300.6 83.9,300.5 84.7,300.5 85.6,300.5 86.4,300.5 87.2,300.4 88.1,300.4 88.9,300.4 89.7,300.4 90.5,300.3 91.4,300.3 92.2,300.3 93.0,300.2 93.9,300.2 94.7,300.2 95.5,300.1 96.3,300.1 97.2,300.0 98.0,300.0 98.8,300.0 99.7,299.9 100.5,299.9 101.3,299.8 102.2,299.8 103.0,299.7 103.8,299.7 104.6,299.6 105.5,299.6 106.3,299.6 107.1,299.5 108.0,299.5 108.8,299.5 109.6,299.4 110.4,299.4 111.3,299.4 112.1,299.4 112.9,299.4 113.8,299.4 114.6,299.3 115.4,299.3 116.2,299.3 117.1,299.3 117.9,299.4 118.7,299.4 119.6,299.4 120.4,299.4 121.2,299.4 122.1,299.4 122.9,299.5 123.7,299.5 124.5,299.5 125.4,299.5 126.2,299.6 127.0,299.6 127.9,299.6 128.7,299.6 129.5,299.7 130.3,299.7 131.2,299.7 132.0,299.8 132.8,299.8 133.7,299.8 134.5,299.9 135.3,299.9 136.1,300.0 137.0,300.1 137.8,300.2 138.6,300.4 139.5,300.6 140.3,300.7 141.1,300.6 142.0,299.6 142.8,297.8 143.6,295.4 144.4,292.4 145.3,288.3 146.1,279.2 146.9,267.0 147.8,254.4 148.6,244.4 149.4,238.8 150.2,234.2 151.1,230.0 151.9,226.2 152.7,222.7 153.6,219.6 154.4,217.0 155.2,214.8 156.0,213.1 156.9,211.8 157.7,211.0 158.5,210.3 159.4,209.7 160.2,209.1 161.0,208.6 161.9,208.2 162.7,207.9 163.5,207.6 164.3,207.3 165.2,207.1 166.0,207.0 166.8,206.8 167.7,206.7 168.5,206.6 169.3,206.4 170.1,206.3 171.0,206.2 171.8,206.1 172.6,206.0 173.5,205.9 174.3,205.8 175.1,205.7 175.9,205.7 176.8,205.6 177.6,205.5 178.4,205.5 179.3,205.4 180.1,205.4 180.9,205.3 181.8,205.3 182.6,205.2 183.4,205.2 184.2,205.2 185.1,205.2 185.9,205.2 186.7,205.2 187.6,205.2 188.4,205.2 189.2,205.2 190.0,205.3 190.9,205.3 191.7,205.4 192.5,205.5 193.4,205.5 194.2,205.6 195.0,205.8 195.9,206.2 196.7,206.8 197.5,207.5 198.3,208.2 199.2,208.7 200.0,209.0 200.8,209.1 201.7,209.3 202.5,209.4 203.3,209.5 204.1,209.6 205.0,209.7 205.8,209.7 206.6,209.8 207.5,209.8 208.3,209.6 209.1,209.4 209.9,209.1 210.8,208.7 211.6,208.3 212.4,207.8 213.3,207.4 214.1,206.9 214.9,206.5 215.8,206.1 216.6,205.7 217.4,205.3 218.2,204.9 219.1,204.4 219.9,204.0 220.7,203.6 221.6,203.2 222.4,202.9 223.2,202.6 224.0,202.4 224.9,202.1 225.7,201.9 226.5,201.7 227.4,201.6 228.2,201.5 229.0,201.5 229.8,201.6 230.7,201.9 231.5,202.4 232.3,202.9 233.2,203.5 234.0,204.6 234.8,206.1 235.7,207.8 236.5,209.7 237.3,211.6 238.1,213.9 239.0,216.5 239.8,219.0 240.6,220.8 241.5,221.7 242.3,222.2 243.1,222.7 243.9,223.1 244.8,223.4 245.6,223.7 246.4,223.9 247.3,224.0 248.1,224.1 248.9,224.1 249.7,224.0 250.6,223.9 251.4,223.6 252.2,223.4 253.1,223.1 253.9,222.7 254.7,222.4 255.6,222.1 256.4,221.8 257.2,221.5 258.0,221.1 258.9,220.6 259.7,220.2 260.5,219.8 261.4,219.4 262.2,219.2 263.0,219.1 263.8,219.1 264.7,219.2 265.5,219.3 266.3,219.5 267.2,219.7 268.0,220.0 268.8,220.2 269.6,220.5 270.5,220.9 271.3,221.4 272.1,222.0 273.0,222.7 273.8,223.5 274.6,224.4 275.5,225.4 276.3,226.7 277.1,228.6 277.9,230.9 278.8,233.6 279.6,236.4 280.4,239.4 281.3,242.3 282.1,245.3 282.9,248.7 283.7,252.7 284.6,256.8 285.4,261.1 286.2,265.3 287.1,269.3 287.9,272.8 288.7,275.8 289.6,277.9 290.4,279.2 291.2,280.4 292.0,281.4 292.9,282.3 293.7,283.2 294.5,283.9 295.4,284.6 296.2,285.1 297.0,285.5 297.8,285.8 298.7,286.0 299.5,286.2 300.3,286.4 301.2,286.5 302.0,286.6 302.8,286.7 303.6,286.7 304.5,286.8 305.3,286.7 306.1,286.6 307.0,286.4 307.8,286.1 308.6,285.9 309.5,285.6 310.3,285.3 311.1,285.0 311.9,284.7 312.8,284.3 313.6,284.0 314.4,283.6 315.3,283.2 316.1,282.8 316.9,282.3 317.7,281.9 318.6,281.4 319.4,281.0 320.2,280.5 321.1,280.1 321.9,279.6 322.7,279.1 323.5,278.6 324.4,278.1 325.2,277.5 326.0,277.0 326.9,276.4 327.7,275.9 328.5,275.5 329.4,275.0 330.2,274.6 331.0,274.3 331.8,274.0 332.7,273.8 333.5,273.5 334.3,273.3 335.2,273.0 336.0,272.8 336.8,272.6 337.6,272.4 338.5,272.3 339.3,272.1 340.1,272.0 341.0,272.0 341.8,271.9 342.6,272.0 343.4,272.0 344.3,272.0 345.1,272.1 345.9,272.2 346.8,272.3 347.6,272.4 348.4,272.5 349.3,272.7 350.1,272.8 350.9,272.9 351.7,273.0 352.6,273.2 353.4,273.4 354.2,273.6 355.1,273.8 355.9,274.0 356.7,274.2 357.5,274.5 358.4,274.7 359.2,274.9 360.0,275.1 360.9,275.4 361.7,275.6 362.5,275.9 363.3,276.2 364.2,276.5 365.0,276.8 365.8,277.1 366.7,277.4 367.5,277.6 368.3,277.9 369.2,278.2 370.0,278.4 370.8,278.6 371.6,278.8 372.5,278.9 373.3,279.0 374.1,279.2 375.0,279.3 375.8,279.4 376.6,279.5 377.4,279.7 378.3,279.8 379.1,280.0 379.4,194.8 380.0,207.6 380.6,201.0 381.3,229.4 381.7,200.9 382.1,220.6 382.5,198.9 382.9,230.9 383.3,199.5 383.9,220.2 384.3,190.0 385.0,213.4 385.6,201.4 386.1,243.2 386.7,191.5 387.2,228.9 389.1,208.5 390.9,211.9 392.6,223.9 394.3,229.3 396.0,251.2 398.2,294.6 399.0,295.1 399.8,295.6 400.7,295.9 401.5,296.2 402.3,296.5 403.2,296.6 404.0,296.6 404.8,296.6 405.6,296.3 406.5,295.9 407.3,295.5 408.1,294.9 409.0,294.3 409.8,293.7 410.6,293.1 411.4,292.5 412.3,292.0 413.1,291.6 413.9,291.4 414.8,291.2 415.6,291.2 416.4,291.3 417.2,291.3 418.1,291.4 418.9,291.4 419.7,291.5 420.6,291.6 421.4,291.7 422.2,291.9 423.1,292.2 423.9,292.5 424.7,292.9 425.5,293.3 426.4,293.6 427.2,294.0 428.0,294.3 428.9,294.5 429.7,294.7 430.5,294.8 431.3,294.8 432.2,294.8 433.0,294.7 433.8,294.5 434.7,294.3 435.5,294.0 436.3,293.8 437.1,293.5 438.0,293.2 438.8,292.9 439.6,292.6 440.5,292.3 441.3,292.0 442.1,291.7 443.0,291.5 443.8,291.2 444.6,291.1 445.4,290.9 446.3,290.8 447.1,290.7 447.9,290.6 448.8,290.5 449.6,290.4 450.4,290.4 451.2,290.3 452.1,290.2 452.9,290.1 453.7,290.0 454.6,290.0 455.4,289.9 456.2,289.9 457.0,289.9 457.9,289.8 458.7,289.8 459.5,289.9 460.4,290.2 461.2,290.6 462.0,291.1 462.9,291.7 463.7,292.2 464.5,292.7 465.3,293.2 466.2,293.7 467.0,294.2 467.8,294.7 468.7,295.2 469.5,295.5 470.3,295.8 471.1,296.0 472.0,296.2 472.8,296.4 473.6,296.6 474.5,296.7 475.3,296.9 476.1,297.0 476.9,297.1 477.8,297.2 478.6,297.3 479.4,297.4 480.3,297.5 481.1,297.7 481.9,297.8 482.8,297.9 483.6,298.0 484.4,298.1 485.2,298.2 486.1,298.3 486.9,298.5 487.7,298.6 488.6,298.7 489.4,298.9 490.2,299.0 491.0,299.2 491.9,299.3 492.7,299.5 493.5,299.7 494.4,299.8 495.2,300.0 496.0,300.1 496.9,300.3 497.7,299.4 498.5,301.4 499.3,301.4 500.2,301.8 501.0,301.9 501.8,301.2 502.7,302.9 503.5,302.6 504.3,300.9 505.1,301.7 506.0,301.3 506.8,304.0 507.6,302.8 508.5,302.7 509.3,302.1 510.1,303.0 510.9,301.4 511.8,302.6 512.6,302.7 513.4,302.9 514.3,302.2 515.1,303.7 515.9,302.1 516.8,303.0 517.6,303.5" stroke="#5a7a30"/>
<polyline points="72.3,313.3 73.1,313.1 74.0,312.9 74.8,312.6 75.6,312.3 76.4,311.9 77.3,311.5 78.1,311.0 78.9,310.6 79.8,310.1 80.6,309.5 81.4,309.0 82.3,308.4 83.1,307.8 83.9,307.2 84.7,306.6 85.6,305.9 86.4,305.3 87.2,304.6 88.1,303.8 88.9,303.0 89.7,302.1 90.5,301.2 91.4,300.1 92.2,299.1 93.0,298.0 93.9,296.9 94.7,295.8 95.5,294.6 96.3,293.5 97.2,292.4 98.0,291.2 98.8,289.9 99.7,288.5 100.5,287.0 101.3,285.6 102.2,284.1 103.0,282.7 103.8,281.3 104.6,280.0 105.5,278.8 106.3,277.7 107.1,276.8 108.0,276.1 108.8,275.3 109.6,274.6 110.4,273.9 111.3,273.3 112.1,272.7 112.9,272.2 113.8,271.8 114.6,271.5 115.4,271.4 116.2,271.4 117.1,271.4 117.9,271.4 118.7,271.4 119.6,271.5 120.4,271.5 121.2,271.6 122.1,271.6 122.9,271.7 123.7,271.7 124.5,271.8 125.4,271.8 126.2,271.9 127.0,271.9 127.9,271.9 128.7,271.9 129.5,272.0 130.3,272.0 131.2,272.0 132.0,272.0 132.8,272.0 133.7,272.0 134.5,272.0 135.3,272.0 136.1,272.1 137.0,272.1 137.8,272.3 138.6,272.4 139.5,272.6 140.3,272.8 141.1,272.7 142.0,272.0 142.8,270.6 143.6,268.8 144.4,266.6 145.3,263.4 146.1,256.3 146.9,246.8 147.8,237.3 148.6,230.2 149.4,227.1 150.2,225.0 151.1,223.1 151.9,221.5 152.7,220.1 153.6,218.9 154.4,217.9 155.2,217.0 156.0,216.1 156.9,215.4 157.7,214.7 158.5,214.0 159.4,213.3 160.2,212.7 161.0,212.2 161.9,211.7 162.7,211.2 163.5,210.8 164.3,210.5 165.2,210.2 166.0,209.9 166.8,209.7 167.7,209.4 168.5,209.2 169.3,209.0 170.1,208.8 171.0,208.6 171.8,208.4 172.6,208.2 173.5,208.0 174.3,207.8 175.1,207.7 175.9,207.5 176.8,207.3 177.6,207.2 178.4,207.1 179.3,206.9 180.1,206.8 180.9,206.7 181.8,206.6 182.6,206.5 183.4,206.5 184.2,206.4 185.1,206.3 185.9,206.3 186.7,206.2 187.6,206.2 188.4,206.1 189.2,206.1 190.0,206.1 190.9,206.0 191.7,206.0 192.5,206.0 193.4,206.0 194.2,206.0 195.0,206.0 195.9,206.3 196.7,206.9 197.5,207.6 198.3,208.2 199.2,208.6 200.0,208.7 200.8,208.8 201.7,208.8 202.5,208.9 203.3,208.9 204.1,208.9 205.0,208.9 205.8,209.0 206.6,209.0 207.5,208.9 208.3,208.8 209.1,208.5 209.9,208.1 210.8,207.7 211.6,207.1 212.4,206.6 213.3,206.0 214.1,205.5 214.9,205.0 215.8,204.5 216.6,204.0 217.4,203.5 218.2,203.0 219.1,202.5 219.9,202.0 220.7,201.5 221.6,201.0 222.4,200.6 223.2,200.2 224.0,199.9 224.9,199.6 225.7,199.3 226.5,199.1 227.4,198.8 228.2,198.7 229.0,198.7 229.8,199.0 230.7,199.5 231.5,200.1 232.3,200.5 233.2,200.6 234.0,200.6 234.8,200.5 235.7,200.5 236.5,200.4 237.3,200.4 238.1,200.5 239.0,200.7 239.8,200.9 240.6,201.1 241.5,201.3 242.3,201.6 243.1,201.9 243.9,202.3 244.8,202.7 245.6,203.1 246.4,203.4 247.3,203.7 248.1,203.8 248.9,203.8 249.7,203.7 250.6,203.6 251.4,203.3 252.2,203.1 253.1,202.8 253.9,202.4 254.7,202.1 255.6,201.7 256.4,201.4 257.2,201.1 258.0,200.7 258.9,200.3 259.7,199.8 260.5,199.4 261.4,199.0 262.2,198.8 263.0,198.7 263.8,198.7 264.7,198.8 265.5,198.9 266.3,199.1 267.2,199.3 268.0,199.6 268.8,199.8 269.6,200.1 270.5,200.5 271.3,201.0 272.1,201.6 273.0,202.3 273.8,203.1 274.6,204.1 275.5,205.1 276.3,206.8 277.1,209.4 277.9,212.7 278.8,216.4 279.6,220.1 280.4,219.7 280.9,244.6 281.3,192.1 281.8,251.2 282.3,192.5 282.7,244.7 283.3,201.6 283.8,266.9 285.4,235.1 286.2,236.4 287.1,237.8 287.9,239.1 288.7,240.4 289.6,241.7 290.4,243.1 291.2,244.6 292.0,246.2 292.9,247.8 293.7,249.3 294.5,250.8 295.4,252.2 296.2,253.4 297.0,254.3 297.8,254.9 298.7,255.3 299.5,255.6 300.3,255.9 301.2,256.1 302.0,256.3 302.8,256.4 303.6,256.5 304.5,256.6 305.3,256.5 306.1,256.3 307.0,256.0 307.8,255.5 308.6,255.1 309.5,254.5 310.3,254.0 311.1,253.4 311.9,252.7 312.8,251.9 313.6,250.9 314.4,249.8 315.3,248.6 316.1,247.4 316.9,246.1 317.7,244.8 318.6,243.5 319.4,242.2 320.2,240.9 321.1,239.7 321.9,238.5 322.7,237.2 323.5,235.9 324.4,234.5 325.2,233.1 326.0,231.8 326.9,230.4 327.7,229.1 328.5,228.0 329.4,226.9 330.2,225.9 331.0,225.1 331.8,224.4 332.7,223.7 333.5,223.1 334.3,222.5 335.2,221.8 336.0,221.3 336.8,220.8 337.6,220.3 338.5,219.9 339.3,219.6 340.1,219.3 341.0,219.1 341.8,219.1 342.6,219.1 343.4,219.2 344.3,219.3 345.1,219.4 345.9,219.6 346.8,219.8 347.6,220.0 348.4,220.3 349.3,220.5 350.1,220.7 350.9,221.0 351.7,221.3 352.6,221.6 353.4,221.9 354.2,222.3 355.1,222.7 355.9,223.1 356.7,223.6 357.5,224.0 358.4,224.5 359.2,224.9 360.0,225.4 360.9,225.8 361.7,226.3 362.5,226.8 363.3,227.4 364.2,227.9 365.0,228.5 365.8,229.1 366.7,229.7 367.5,230.2 368.3,230.7 369.2,231.2 370.0,231.7 370.8,232.1 371.6,232.4 372.5,232.7 373.3,233.0 374.1,233.2 375.0,233.4 375.8,233.7 376.6,233.9 377.4,234.2 378.3,234.5 379.1,234.9 379.9,235.5 380.8,236.3 381.6,237.2 382.4,238.4 383.3,239.7 384.1,241.2 384.9,242.9 385.2,30.9 385.6,174.2 386.1,30.9 386.7,141.7 387.0,30.9 387.7,237.0 388.3,30.9 390.9,106.8 392.9,109.5 394.9,118.8 396.9,139.0 398.9,198.8 401.5,278.4 402.3,279.0 403.2,279.4 404.0,279.5 404.8,279.4 405.6,279.0 406.5,278.4 407.3,277.7 408.1,276.8 409.0,275.9 409.8,275.0 410.6,274.0 411.4,273.1 412.3,272.4 413.1,271.7 413.9,271.3 414.8,271.1 415.6,271.1 416.4,271.2 417.2,271.2 418.1,271.3 418.9,271.4 419.7,271.5 420.6,271.7 421.4,271.9 422.2,272.2 423.1,272.6 423.9,273.1 424.7,273.7 425.5,274.2 426.4,274.8 427.2,275.4 428.0,275.8 428.9,276.2 429.7,276.5 430.5,276.7 431.3,276.7 432.2,276.6 433.0,276.3 433.8,275.9 434.7,275.5 435.5,274.9 436.3,274.3 437.1,273.6 438.0,272.9 438.8,272.2 439.6,271.4 440.5,270.6 441.3,269.8 442.1,269.1 443.0,268.4 443.8,267.7 444.6,267.1 445.4,266.5 446.3,266.0 447.1,265.4 447.9,264.8 448.8,264.2 449.6,263.6 450.4,263.0 451.2,262.4 452.1,261.8 452.9,261.3 453.7,260.8 454.6,260.3 455.4,259.9 456.2,259.6 457.0,259.3 457.9,259.2 458.7,259.1 459.5,259.2 460.4,259.7 461.2,260.5 462.0,261.5 462.9,262.5 463.7,263.4 464.5,264.3 465.3,265.2 466.2,266.1 467.0,267.1 467.8,268.0 468.7,268.8 469.5,269.5 470.3,270.0 471.1,270.4 472.0,270.7 472.8,271.1 473.6,271.4 474.5,271.6 475.3,271.9 476.1,272.1 476.9,272.3 477.8,272.6 478.6,272.8 479.4,272.9 480.3,273.1 481.1,273.3 481.9,273.5 482.8,273.7 483.6,273.9 484.4,274.1 485.2,274.3 486.1,274.5 486.9,274.8 487.7,275.0 488.6,275.3 489.4,275.6 490.2,275.8 491.0,276.1 491.9,276.4 492.7,276.7 493.5,277.0 494.4,277.3 495.2,277.5 496.0,277.8 496.9,278.1 497.7,278.8 498.5,279.3 499.3,278.5 500.2,280.9 501.0,280.9 501.8,280.2 502.7,280.5 503.5,280.0 504.3,279.1 505.1,281.1 506.0,280.2 506.8,280.3 507.6,282.4 508.5,281.1 509.3,282.6 510.1,280.6 510.9,281.5 511.8,282.3 512.6,284.0 513.4,282.7 514.3,284.0 515.1,282.6 515.9,283.8 516.8,284.9 517.6,283.3" stroke="#9098e8"/>
<polyline points="72.3,316.7 73.1,316.1 74.0,315.4 74.8,314.8 75.6,314.2 76.4,313.6 77.3,313.0 78.1,312.4 78.9,311.8 79.8,311.2 80.6,310.6 81.4,310.1 82.3,309.5 83.1,308.9 83.9,308.3 84.7,307.8 85.6,307.2 86.4,306.7 87.2,306.1 88.1,305.6 88.9,305.0 89.7,304.5 90.5,303.9 91.4,303.4 92.2,302.9 93.0,302.4 93.9,301.9 94.7,301.4 95.5,300.8 96.3,300.4 97.2,299.9 98.0,299.4 98.8,298.9 99.7,298.4 100.5,298.0 101.3,297.5 102.2,297.0 103.0,296.6 103.8,296.2 104.6,295.7 105.5,295.3 106.3,294.9 107.1,294.6 108.0,294.2 108.8,293.9 109.6,293.6 110.4,293.2 111.3,292.9 112.1,292.6 112.9,292.3 113.8,292.1 114.6,291.8 115.4,291.5 116.2,291.2 117.1,291.0 117.9,290.7 118.7,290.5 119.6,290.2 120.4,289.9 121.2,289.7 122.1,289.4 122.9,289.1 123.7,288.8 124.5,288.5 125.4,288.2 126.2,287.9 127.0,287.6 127.9,287.3 128.7,286.9 129.5,286.6 130.3,286.2 131.2,285.8 132.0,285.4 132.8,285.0 133.7,284.5 134.5,284.1 135.3,283.6 136.1,283.1 137.0,282.5 137.8,282.0 138.6,281.4 139.5,280.7 140.3,280.1 141.1,279.4 142.0,278.2 142.8,276.8 143.6,275.0 144.4,273.2 145.3,271.2 146.1,269.4 146.9,267.8 147.8,266.4 148.6,265.4 149.4,264.8 150.2,264.4 151.1,264.0 151.9,263.6 152.7,263.3 153.6,263.0 154.4,262.7 155.2,262.5 156.0,262.4 156.9,262.2 157.7,262.1 158.5,262.0 159.4,261.9 160.2,261.8 161.0,261.7 161.9,261.7 162.7,261.6 163.5,261.5 164.3,261.5 165.2,261.4 166.0,261.4 166.8,261.3 167.7,261.3 168.5,261.2 169.3,261.2 170.1,261.2 171.0,261.1 171.8,261.1 172.6,261.1 173.5,261.0 174.3,261.0 175.1,260.9 175.9,260.9 176.8,260.9 177.6,260.8 178.4,260.8 179.3,260.7 180.1,260.7 180.9,260.6 181.8,260.6 182.6,260.5 183.4,260.5 184.2,260.4 185.1,260.3 185.9,260.2 186.7,260.2 187.6,260.0 188.4,259.9 189.2,259.8 190.0,259.7 190.9,259.5 191.7,259.4 192.5,259.2 193.4,259.0 194.2,258.9 195.0,258.7 195.9,258.5 196.7,258.3 197.5,258.1 198.3,257.9 199.2,257.7 200.0,257.5 200.8,257.3 201.7,257.1 202.5,256.9 203.3,256.7 204.1,256.5 205.0,256.3 205.8,256.1 206.6,255.9 207.5,255.7 208.3,255.6 209.1,255.4 209.9,255.2 210.8,255.0 211.6,254.8 212.4,254.7 213.3,254.5 214.1,254.3 214.9,254.1 215.8,253.9 216.6,253.7 217.4,253.5 218.2,253.4 219.1,253.2 219.9,253.0 220.7,252.8 221.6,252.7 222.4,252.5 223.2,252.3 224.0,252.2 224.9,252.0 225.7,251.8 226.5,251.7 227.4,251.5 228.2,251.4 229.0,251.3 229.8,251.1 230.7,251.0 231.5,250.9 232.3,250.8 233.2,250.6 234.0,250.5 234.8,250.4 235.7,250.3 236.5,250.2 237.3,250.1 238.1,249.9 239.0,249.8 239.8,249.7 240.6,249.6 241.5,249.5 242.3,249.4 243.1,249.3 243.9,249.2 244.8,249.1 245.6,249.0 246.4,248.9 247.3,248.7 248.1,248.6 248.9,248.5 249.7,248.4 250.6,248.2 251.4,248.1 252.2,248.0 253.1,247.8 253.9,247.7 254.7,247.5 255.6,247.4 256.4,247.2 257.2,247.0 258.0,246.9 258.9,246.7 259.7,246.6 260.5,246.5 261.4,246.3 262.2,246.2 263.0,246.1 263.8,246.0 264.7,245.9 265.5,245.8 266.3,245.8 267.2,245.7 268.0,245.7 268.8,245.7 269.6,245.7 270.5,245.7 271.3,245.7 272.1,245.8 273.0,245.9 273.8,246.0 274.6,246.2 275.5,246.3 276.3,246.5 277.1,246.7 277.9,246.9 278.8,247.1 279.6,247.3 280.7,290.1 281.1,261.5 281.6,289.6 282.0,262.5 282.5,271.6 283.1,257.0 283.5,284.0 283.9,253.5 284.4,272.6 284.9,256.4 285.5,287.7 286.1,245.6 287.9,258.4 288.7,259.8 289.6,261.2 290.4,262.5 291.2,263.7 292.0,264.7 292.9,265.5 293.7,266.0 294.5,266.4 295.4,266.7 296.2,267.0 297.0,267.3 297.8,267.6 298.7,267.8 299.5,268.1 300.3,268.3 301.2,268.5 302.0,268.7 302.8,268.8 303.6,268.9 304.5,269.0 305.3,269.1 306.1,269.1 307.0,269.1 307.8,269.0 308.6,268.9 309.5,268.6 310.3,268.3 311.1,267.9 311.9,267.5 312.8,267.0 313.6,266.5 314.4,266.0 315.3,265.4 316.1,264.9 316.9,264.3 317.7,263.8 318.6,263.3 319.4,262.8 320.2,262.4 321.1,262.0 321.9,261.7 322.7,261.4 323.5,261.2 324.4,261.0 325.2,260.9 326.0,260.7 326.9,260.5 327.7,260.4 328.5,260.2 329.4,260.1 330.2,259.9 331.0,259.8 331.8,259.7 332.7,259.5 333.5,259.4 334.3,259.3 335.2,259.2 336.0,259.1 336.8,259.0 337.6,258.9 338.5,258.8 339.3,258.7 340.1,258.6 341.0,258.5 341.8,258.4 342.6,258.3 343.4,258.3 344.3,258.2 345.1,258.1 345.9,258.1 346.8,258.0 347.6,258.0 348.4,257.9 349.3,257.9 350.1,257.9 350.9,257.8 351.7,257.8 352.6,257.7 353.4,257.7 354.2,257.6 355.1,257.6 355.9,257.6 356.7,257.5 357.5,257.5 358.4,257.5 359.2,257.4 360.0,257.4 360.9,257.4 361.7,257.4 362.5,257.3 363.3,257.3 364.2,257.3 365.0,257.3 365.8,257.3 366.7,257.3 367.5,257.3 368.3,257.3 369.2,257.3 370.0,257.3 370.8,257.4 371.6,257.5 372.5,257.6 373.3,257.8 374.1,258.0 375.0,258.2 375.8,258.4 376.6,258.7 377.4,258.9 378.3,259.1 379.1,259.3 380.0,30.9 380.6,246.2 381.2,30.9 381.9,174.7 382.4,30.9 382.9,69.6 383.4,30.9 383.8,210.8 384.3,30.9 387.3,96.0 389.9,114.0 392.5,125.9 395.1,152.4 397.7,184.7 400.7,270.9 401.5,271.1 402.3,271.3 403.2,271.3 404.0,271.4 404.8,271.4 405.6,271.3 406.5,271.1 407.3,271.0 408.1,270.8 409.0,270.6 409.8,270.3 410.6,270.1 411.4,269.8 412.3,269.6 413.1,269.4 413.9,269.2 414.8,269.1 415.6,268.9 416.4,268.8 417.2,268.6 418.1,268.5 418.9,268.3 419.7,268.2 420.6,268.1 421.4,267.9 422.2,267.8 423.1,267.7 423.9,267.6 424.7,267.4 425.5,267.3 426.4,267.2 427.2,267.1 428.0,266.9 428.9,266.8 429.7,266.7 430.5,266.6 431.3,266.5 432.2,266.4 433.0,266.2 433.8,266.1 434.7,266.0 435.5,265.9 436.3,265.8 437.1,265.6 438.0,265.5 438.8,265.4 439.6,265.2 440.5,265.1 441.3,264.9 442.1,264.8 443.0,264.7 443.8,264.5 444.6,264.4 445.4,264.2 446.3,264.1 447.1,264.0 447.9,263.8 448.8,263.7 449.6,263.6 450.4,263.5 451.2,263.3 452.1,263.2 452.9,263.1 453.7,263.1 454.6,263.0 455.4,262.9 456.2,262.8 457.0,262.8 457.9,262.8 458.7,262.7 459.5,262.7 460.4,262.7 461.2,262.7 462.0,262.8 462.9,262.8 463.7,262.9 464.5,263.0 465.3,263.1 466.2,263.1 467.0,263.3 467.8,263.4 468.7,263.5 469.5,263.6 470.3,263.7 471.1,263.9 472.0,264.0 472.8,264.1 473.6,264.3 474.5,264.4 475.3,264.5 476.1,264.6 476.9,264.7 477.8,264.8 478.6,264.9 479.4,265.0 480.3,265.1 481.1,265.2 481.9,265.3 482.8,265.4 483.6,265.4 484.4,265.5 485.2,265.6 486.1,265.7 486.9,265.8 487.7,265.9 488.6,266.0 489.4,266.1 490.2,266.2 491.0,266.3 491.9,266.4 492.7,266.5 493.5,266.7 494.4,266.8 495.2,266.9 496.0,267.0 496.9,267.2 497.7,268.7 498.5,267.8 499.3,267.4 500.2,266.9 501.0,268.6 501.8,269.4 502.7,267.1 503.5,267.2 504.3,268.2 505.1,269.5 506.0,268.6 506.8,269.1 507.6,268.5 508.5,271.1 509.3,269.7 510.1,270.3 510.9,271.6 511.8,270.3 512.6,270.7 513.4,271.5 514.3,270.8 515.1,273.1 515.9,271.8 516.8,271.5 517.6,272.0" stroke="#d4b070"/>
<polyline points="72.3,317.5 73.1,317.4 74.0,317.3 74.8,317.1 75.6,317.0 76.4,316.8 77.3,316.5 78.1,316.3 78.9,316.1 79.8,315.8 80.6,315.5 81.4,315.2 82.3,314.9 83.1,314.6 83.9,314.3 84.7,314.0 85.6,313.6 86.4,313.3 87.2,312.9 88.1,312.5 88.9,312.1 89.7,311.6 90.5,311.1 91.4,310.6 92.2,310.0 93.0,309.5 93.9,308.9 94.7,308.3 95.5,307.7 96.3,307.1 97.2,306.5 98.0,305.8 98.8,305.2 99.7,304.4 100.5,303.7 101.3,302.9 102.2,302.1 103.0,301.4 103.8,300.6 104.6,299.9 105.5,299.3 106.3,298.8 107.1,298.3 108.0,297.9 108.8,297.5 109.6,297.1 110.4,296.8 111.3,296.4 112.1,296.1 112.9,295.9 113.8,295.7 114.6,295.5 115.4,295.4 116.2,295.4 117.1,295.4 117.9,295.4 118.7,295.5 119.6,295.5 120.4,295.5 121.2,295.5 122.1,295.5 122.9,295.6 123.7,295.6 124.5,295.6 125.4,295.7 126.2,295.7 127.0,295.7 127.9,295.7 128.7,295.8 129.5,295.8 130.3,295.8 131.2,295.8 132.0,295.8 132.8,295.8 133.7,295.9 134.5,295.9 135.3,295.9 136.1,296.0 137.0,296.0 137.8,296.1 138.6,296.3 139.5,296.4 140.3,296.5 141.1,296.5 142.0,295.9 142.8,294.8 143.6,293.3 144.4,291.4 145.3,288.9 146.1,283.4 146.9,276.0 147.8,268.4 148.6,262.1 149.4,258.3 150.2,255.1 151.1,252.1 151.9,249.3 152.7,246.7 153.6,244.5 154.4,242.5 155.2,240.8 156.0,239.5 156.9,238.6 157.7,238.1 158.5,237.6 159.4,237.2 160.2,236.8 161.0,236.5 161.9,236.2 162.7,236.0 163.5,235.8 164.3,235.7 165.2,235.6 166.0,235.6 166.8,235.6 167.7,235.6 168.5,235.6 169.3,235.6 170.1,235.6 171.0,235.6 171.8,235.6 172.6,235.6 173.5,235.6 174.3,235.6 175.1,235.6 175.9,235.6 176.8,235.6 177.6,235.6 178.4,235.6 179.3,235.6 180.1,235.6 180.9,235.6 181.8,235.6 182.6,235.6 183.4,235.6 184.2,235.6 185.1,235.6 185.9,235.6 186.7,235.6 187.6,235.6 188.4,235.7 189.2,235.7 190.0,235.8 190.9,235.9 191.7,236.0 192.5,236.1 193.4,236.3 194.2,236.4 195.0,236.6 195.9,237.0 196.7,237.5 197.5,238.1 198.3,238.6 199.2,239.0 200.0,239.3 200.8,239.5 201.7,239.7 202.5,239.9 203.3,240.0 204.1,240.1 205.0,240.2 205.8,240.3 206.6,240.4 207.5,240.4 208.3,240.3 209.1,240.1 209.9,240.0 210.8,239.7 211.6,239.5 212.4,239.2 213.3,239.0 214.1,238.7 214.9,238.5 215.8,238.2 216.6,238.0 217.4,237.7 218.2,237.5 219.1,237.2 219.9,236.9 220.7,236.7 221.6,236.5 222.4,236.3 223.2,236.1 224.0,236.0 224.9,235.9 225.7,235.8 226.5,235.7 227.4,235.6 228.2,235.6 229.0,235.6 229.8,235.8 230.7,236.2 231.5,236.6 232.3,236.9 233.2,237.0 234.0,236.9 234.8,236.9 235.7,236.9 236.5,236.8 237.3,236.8 238.1,236.9 239.0,237.0 239.8,237.1 240.6,237.3 241.5,237.5 242.3,237.7 243.1,237.9 243.9,238.2 244.8,238.5 245.6,238.7 246.4,239.0 247.3,239.1 248.1,239.2 248.9,239.3 249.7,239.2 250.6,239.1 251.4,238.9 252.2,238.7 253.1,238.5 253.9,238.3 254.7,238.0 255.6,237.8 256.4,237.5 257.2,237.3 258.0,237.0 258.9,236.7 259.7,236.4 260.5,236.1 261.4,235.8 262.2,235.7 263.0,235.6 263.8,235.6 264.7,235.7 265.5,235.8 266.3,235.9 267.2,236.1 268.0,236.2 268.8,236.4 269.6,236.6 270.5,236.9 271.3,237.2 272.1,237.7 273.0,238.2 273.8,238.8 274.6,239.4 275.5,240.2 276.3,241.3 277.1,243.1 277.9,245.3 278.8,247.8 279.6,250.4 280.4,252.9 281.3,255.1 282.1,257.1 282.9,259.0 283.7,260.8 284.6,262.7 285.4,264.5 286.2,266.2 287.1,267.8 287.9,269.4 288.7,270.8 289.6,272.0 290.4,273.2 291.2,274.3 292.0,275.3 292.9,276.4 293.7,277.4 294.5,278.3 295.4,279.1 296.2,279.8 297.0,280.3 297.8,280.7 298.7,280.9 299.5,281.1 300.3,281.3 301.2,281.4 302.0,281.6 302.8,281.6 303.6,281.7 304.5,281.7 305.3,281.7 306.1,281.6 307.0,281.4 307.8,281.1 308.6,280.8 309.5,280.5 310.3,280.1 311.1,279.7 311.9,278.9 312.8,277.9 313.6,276.7 314.4,275.2 315.3,273.6 316.1,271.9 316.9,270.0 317.7,268.2 318.6,266.4 319.4,264.6 320.2,262.9 321.1,261.3 321.9,259.8 322.7,258.2 323.5,256.6 324.4,254.9 325.2,253.3 326.0,251.6 326.9,250.0 327.7,248.5 328.5,247.1 329.4,245.8 330.2,244.6 331.0,243.6 331.8,242.8 332.7,242.0 333.5,241.3 334.3,240.5 335.2,239.8 336.0,239.1 336.8,238.4 337.6,237.9 338.5,237.4 339.3,237.0 340.1,236.7 341.0,236.5 341.8,236.4 342.6,236.5 343.4,236.5 344.3,236.6 345.1,236.7 345.9,236.9 346.8,237.0 347.6,237.2 348.4,237.4 349.3,237.6 350.1,237.8 350.9,238.0 351.7,238.2 352.6,238.5 353.4,238.8 354.2,239.1 355.1,239.5 355.9,239.8 356.7,240.2 357.5,240.6 358.4,240.9 359.2,241.3 360.0,241.7 360.9,242.1 361.7,242.5 362.5,242.9 363.3,243.4 364.2,243.9 365.0,244.3 365.8,244.8 366.7,245.3 367.5,245.8 368.3,246.2 369.2,246.6 370.0,247.0 370.8,247.3 371.6,247.6 372.5,247.9 373.3,248.1 374.1,248.3 375.0,248.5 375.8,248.7 376.6,248.9 377.4,249.1 378.3,249.4 379.1,249.7 379.9,250.2 380.8,250.9 381.5,195.6 381.8,205.5 382.4,191.6 383.1,215.0 383.4,188.5 383.8,210.6 384.5,188.9 384.8,210.2 385.3,193.7 385.9,199.8 386.7,198.4 387.0,226.6 389.3,208.0 391.2,224.0 393.1,221.6 395.0,234.7 396.9,255.2 399.0,287.6 399.8,288.8 400.7,289.8 401.5,290.6 402.3,291.2 403.2,291.5 404.0,291.7 404.8,291.5 405.6,291.3 406.5,290.8 407.3,290.3 408.1,289.6 409.0,288.9 409.8,288.2 410.6,287.5 411.4,286.9 412.3,286.3 413.1,285.8 413.9,285.5 414.8,285.4 415.6,285.4 416.4,285.4 417.2,285.4 418.1,285.5 418.9,285.6 419.7,285.7 420.6,285.8 421.4,285.9 422.2,286.2 423.1,286.5 423.9,286.9 424.7,287.3 425.5,287.7 426.4,288.1 427.2,288.5 428.0,288.9 428.9,289.2 429.7,289.4 430.5,289.5 431.3,289.5 432.2,289.4 433.0,289.2 433.8,288.9 434.7,288.4 435.5,288.0 436.3,287.4 437.1,286.8 438.0,286.1 438.8,285.5 439.6,284.8 440.5,284.1 441.3,283.4 442.1,282.7 443.0,282.1 443.8,281.5 444.6,280.9 445.4,280.5 446.3,280.0 447.1,279.5 447.9,279.0 448.8,278.5 449.6,278.0 450.4,277.5 451.2,277.0 452.1,276.5 452.9,276.0 453.7,275.6 454.6,275.2 455.4,274.9 456.2,274.6 457.0,274.4 457.9,274.2 458.7,274.2 459.5,274.3 460.4,274.7 461.2,275.3 462.0,276.0 462.9,276.8 463.7,277.6 464.5,278.2 465.3,278.9 466.2,279.6 467.0,280.4 467.8,281.1 468.7,281.7 469.5,282.3 470.3,282.7 471.1,283.0 472.0,283.3 472.8,283.5 473.6,283.7 474.5,284.0 475.3,284.2 476.1,284.3 476.9,284.5 477.8,284.7 478.6,284.8 479.4,285.0 480.3,285.1 481.1,285.3 481.9,285.4 482.8,285.5 483.6,285.7 484.4,285.9 485.2,286.0 486.1,286.2 486.9,286.4 487.7,286.6 488.6,286.8 489.4,287.0 490.2,287.2 491.0,287.4 491.9,287.7 492.7,287.9 493.5,288.1 494.4,288.3 495.2,288.6 496.0,288.8 496.9,289.0 497.7,288.0 498.5,289.8 499.3,288.9 500.2,291.4 501.0,287.5 501.8,288.9 502.7,290.6 503.5,291.9 504.3,290.3 505.1,293.0 506.0,291.9 506.8,290.4 507.6,291.3 508.5,292.1 509.3,290.6 510.1,293.0 510.9,291.7 511.8,292.8 512.6,293.4 513.4,292.1 514.3,294.0 515.1,291.0 515.9,294.0 516.8,291.4 517.6,295.1" stroke="#a8c8a8"/>
<polyline points="72.3,320.0 73.1,320.0 74.0,320.0 74.8,320.0 75.6,320.0 76.4,319.9 77.3,319.9 78.1,319.8 78.9,319.8 79.8,319.7 80.6,319.6 81.4,319.5 82.3,319.5 83.1,319.4 83.9,319.3 84.7,319.2 85.6,319.1 86.4,319.0 87.2,318.9 88.1,318.7 88.9,318.5 89.7,318.3 90.5,318.0 91.4,317.7 92.2,317.4 93.0,317.1 93.9,316.7 94.7,316.2 95.5,315.8 96.3,315.3 97.2,314.8 98.0,314.2 98.8,313.6 99.7,313.0 100.5,312.0 101.3,310.8 102.2,309.4 103.0,307.8 103.8,306.1 104.6,304.4 105.5,302.8 106.3,301.3 107.1,299.9 108.0,298.8 108.8,297.5 109.6,296.3 110.4,295.1 111.3,294.0 112.1,293.1 112.9,292.6 113.8,292.4 114.6,292.5 115.4,292.8 116.2,293.4 117.1,294.0 117.9,294.8 118.7,295.5 119.6,296.2 120.4,296.9 121.2,297.5 122.1,298.2 122.9,298.9 123.7,299.7 124.5,300.4 125.4,301.1 126.2,301.9 127.0,302.6 127.9,303.2 128.7,303.8 129.5,304.5 130.3,305.1 131.2,305.7 132.0,306.4 132.8,307.0 133.7,307.5 134.5,308.0 135.3,308.5 136.1,308.9 137.0,309.3 137.8,309.7 138.6,310.0 139.5,310.3 140.3,310.5 141.1,310.5 142.0,310.0 142.8,309.0 143.6,307.7 144.4,305.9 145.3,302.5 146.1,290.9 146.9,274.0 147.8,255.9 148.6,241.2 149.4,232.8 150.2,225.9 151.1,219.3 151.9,213.3 152.7,207.8 153.6,202.9 154.4,198.7 155.2,195.2 156.0,192.6 156.9,190.8 157.7,190.0 158.5,189.2 159.4,188.6 160.2,188.0 161.0,187.5 161.9,187.0 162.7,186.7 163.5,186.4 164.3,186.2 165.2,186.1 166.0,186.1 166.8,186.1 167.7,186.1 168.5,186.1 169.3,186.1 170.1,186.1 171.0,186.1 171.8,186.1 172.6,186.1 173.5,186.1 174.3,186.1 175.1,186.1 175.9,186.1 176.8,186.1 177.6,186.1 178.4,186.1 179.3,186.1 180.1,186.1 180.9,186.1 181.8,186.1 182.6,186.1 183.4,186.1 184.2,186.1 185.1,186.1 185.9,186.1 186.7,186.1 187.6,186.1 188.4,186.2 189.2,186.3 190.0,186.4 190.9,186.6 191.7,186.8 192.5,186.9 193.4,187.2 194.2,187.4 195.0,187.7 195.9,188.3 196.7,189.0 197.5,189.9 198.3,190.7 199.2,191.4 200.0,191.8 200.8,192.1 201.7,192.4 202.5,192.7 203.3,192.9 204.1,193.1 205.0,193.3 205.8,193.4 206.6,193.4 207.5,193.4 208.3,193.3 209.1,193.1 209.9,192.8 210.8,192.5 211.6,192.1 212.4,191.7 213.3,191.3 214.1,190.9 214.9,190.5 215.8,190.2 216.6,189.8 217.4,189.4 218.2,189.0 219.1,188.6 219.9,188.2 220.7,187.8 221.6,187.4 222.4,187.1 223.2,186.9 224.0,186.7 224.9,186.6 225.7,186.4 226.5,186.3 227.4,186.2 228.2,186.1 229.0,186.1 229.8,186.3 230.7,186.6 231.5,187.1 232.3,187.7 233.2,188.4 234.0,189.8 234.8,191.9 235.7,194.3 236.5,196.9 237.3,199.5 238.1,202.6 239.0,206.1 239.8,209.5 240.6,212.0 241.5,213.1 242.3,213.7 243.1,214.2 243.9,214.6 244.8,215.0 245.6,215.3 246.4,215.5 247.3,215.7 248.1,215.7 248.9,215.7 249.7,215.6 250.6,215.5 251.4,215.2 252.2,214.9 253.1,214.6 253.9,214.2 254.7,213.8 255.6,213.5 256.4,213.1 257.2,212.8 258.0,212.3 258.9,211.8 259.7,211.3 260.5,210.9 261.4,210.5 262.2,210.2 263.0,210.1 263.8,210.1 264.7,210.2 265.5,210.4 266.3,210.6 267.2,210.8 268.0,211.1 268.8,211.4 269.6,211.7 270.5,212.1 271.3,212.7 272.1,213.3 273.0,214.1 273.8,215.0 274.6,216.0 275.5,217.2 276.3,218.6 277.1,220.6 277.9,223.0 278.8,225.8 279.6,228.8 280.4,232.0 281.3,235.3 282.1,238.7 282.9,242.9 283.7,247.9 284.6,253.3 285.4,258.9 286.2,264.5 287.1,269.7 287.9,274.2 288.7,278.0 289.6,280.6 290.4,281.9 291.2,283.0 292.0,284.0 292.9,284.9 293.7,285.7 294.5,286.4 295.4,287.0 296.2,287.5 297.0,287.9 297.8,288.1 298.7,288.3 299.5,288.5 300.3,288.6 301.2,288.7 302.0,288.8 302.8,288.9 303.6,289.0 304.5,289.0 305.3,289.0 306.1,288.8 307.0,288.7 307.8,288.5 308.6,288.2 309.5,287.9 310.3,287.6 311.1,287.3 311.9,286.8 312.8,286.3 313.6,285.6 314.4,284.9 315.3,284.1 316.1,283.2 316.9,282.3 317.7,281.4 318.6,280.5 319.4,279.6 320.2,278.7 321.1,277.9 321.9,277.1 322.7,276.3 323.5,275.4 324.4,274.5 325.2,273.6 326.0,272.7 326.9,271.8 327.7,271.0 328.5,270.2 329.4,269.5 330.2,268.8 331.0,268.3 331.8,267.9 332.7,267.4 333.5,267.0 334.3,266.6 335.2,266.2 336.0,265.8 336.8,265.5 337.6,265.2 338.5,264.9 339.3,264.7 340.1,264.5 341.0,264.4 341.8,264.4 342.6,264.4 343.4,264.4 344.3,264.5 345.1,264.6 345.9,264.7 346.8,264.8 347.6,264.9 348.4,265.1 349.3,265.2 350.1,265.3 350.9,265.5 351.7,265.6 352.6,265.8 353.4,266.0 354.2,266.3 355.1,266.5 355.9,266.7 356.7,267.0 357.5,267.2 358.4,267.5 359.2,267.8 360.0,268.0 360.9,268.3 361.7,268.6 362.5,268.9 363.3,269.2 364.2,269.5 365.0,269.9 365.8,270.2 366.7,270.5 367.5,270.9 368.3,271.2 369.2,271.5 370.0,271.7 370.8,271.9 371.6,272.1 372.5,272.3 373.3,272.4 374.1,272.6 375.0,272.7 375.8,272.9 376.6,273.0 377.4,273.2 378.3,273.4 379.1,273.6 379.4,217.7 380.0,236.7 380.6,222.8 381.3,220.3 381.9,211.3 382.4,228.5 382.9,218.3 383.2,252.4 383.7,210.8 384.2,251.3 384.8,214.3 385.3,227.6 385.9,210.6 386.3,235.5 386.6,213.3 387.2,240.4 387.6,217.7 389.4,241.2 391.0,238.5 392.6,242.4 394.2,242.8 395.8,275.4 397.3,298.7 398.2,299.7 399.0,300.7 399.8,301.5 400.7,302.2 401.5,302.8 402.3,303.2 403.2,303.4 404.0,303.5 404.8,303.5 405.6,303.3 406.5,303.0 407.3,302.6 408.1,302.2 409.0,301.7 409.8,301.3 410.6,300.8 411.4,300.4 412.3,300.0 413.1,299.7 413.9,299.4 414.8,299.3 415.6,299.3 416.4,299.4 417.2,299.4 418.1,299.4 418.9,299.5 419.7,299.6 420.6,299.6 421.4,299.7 422.2,299.9 423.1,300.1 423.9,300.3 424.7,300.6 425.5,300.9 426.4,301.2 427.2,301.5 428.0,301.7 428.9,301.9 429.7,302.0 430.5,302.1 431.3,302.1 432.2,302.1 433.0,301.9 433.8,301.7 434.7,301.5 435.5,301.2 436.3,300.9 437.1,300.6 438.0,300.3 438.8,299.9 439.6,299.5 440.5,299.2 441.3,298.8 442.1,298.5 443.0,298.2 443.8,297.9 444.6,297.7 445.4,297.5 446.3,297.4 447.1,297.2 447.9,297.0 448.8,296.9 449.6,296.7 450.4,296.6 451.2,296.4 452.1,296.3 452.9,296.2 453.7,296.1 454.6,296.0 455.4,295.9 456.2,295.8 457.0,295.8 457.9,295.7 458.7,295.7 459.5,295.8 460.4,296.0 461.2,296.4 462.0,296.8 462.9,297.3 463.7,297.7 464.5,298.1 465.3,298.5 466.2,299.0 467.0,299.4 467.8,299.8 468.7,300.2 469.5,300.5 470.3,300.8 471.1,300.9 472.0,301.1 472.8,301.3 473.6,301.4 474.5,301.5 475.3,301.6 476.1,301.7 476.9,301.8 477.8,301.9 478.6,302.0 479.4,302.1 480.3,302.2 481.1,302.3 481.9,302.4 482.8,302.5 483.6,302.6 484.4,302.7 485.2,302.8 486.1,302.9 486.9,303.0 487.7,303.1 488.6,303.2 489.4,303.3 490.2,303.5 491.0,303.6 491.9,303.7 492.7,303.9 493.5,304.0 494.4,304.1 495.2,304.3 496.0,304.4 496.9,304.5 497.7,304.4 498.5,304.5 499.3,306.0 500.2,307.4 501.0,305.7 501.8,306.3 502.7,306.1 503.5,305.8 504.3,306.9 505.1,306.9 506.0,305.8 506.8,305.7 507.6,306.7 508.5,305.5 509.3,306.4 510.1,307.4 510.9,306.3 511.8,304.3 512.6,307.3 513.4,305.4 514.3,305.3 515.1,305.3 515.9,308.0 516.8,305.0 517.6,307.3" stroke="#e0e060"/>
</g>
<line x1="72.2" y1="47.3" x2="72.2" y2="327.8" stroke="#000" stroke-width="1.6"/>
<line x1="71.5" y1="327.6" x2="518" y2="327.6" stroke="#000" stroke-width="1.8"/>
<line x1="53.8" y1="398.2" x2="72.4" y2="398.2" stroke="#ac9628" stroke-width="2"/>
<text x="74.6" y="402.6" font-family="Liberation Serif, serif" font-size="12.5" fill="#606060">BOER4 1 (NPV)</text>
<line x1="162.3" y1="398.2" x2="180.9" y2="398.2" stroke="#a9a9a9" stroke-width="2"/>
<text x="183.1" y="402.6" font-family="Liberation Serif, serif" font-size="12.5" fill="#606060">BOER4 2 (NPV)</text>
<line x1="270.8" y1="398.2" x2="289.4" y2="398.2" stroke="#c8c820" stroke-width="2"/>
<text x="291.6" y="402.6" font-family="Liberation Serif, serif" font-size="12.5" fill="#606060">LEFE (NPV)</text>
<line x1="379.3" y1="398.2" x2="397.9" y2="398.2" stroke="#5a74dc" stroke-width="2"/>
<text x="400.1" y="402.6" font-family="Liberation Serif, serif" font-size="12.5" fill="#606060">ATCA2 (GV)</text>
<line x1="53.8" y1="417.3" x2="72.4" y2="417.3" stroke="#86ac48" stroke-width="2"/>
<text x="74.6" y="421.7" font-family="Liberation Serif, serif" font-size="12.5" fill="#606060">MAPIP 1 (GV)</text>
<line x1="162.3" y1="417.3" x2="180.9" y2="417.3" stroke="#1f3a7c" stroke-width="2"/>
<text x="183.1" y="421.7" font-family="Liberation Serif, serif" font-size="12.5" fill="#606060">CHER2 1 (GV)</text>
<line x1="270.8" y1="417.3" x2="289.4" y2="417.3" stroke="#7a5020" stroke-width="2"/>
<text x="291.6" y="421.7" font-family="Liberation Serif, serif" font-size="12.5" fill="#606060">BOGR2 1 (NPV)</text>
<line x1="379.3" y1="417.3" x2="397.9" y2="417.3" stroke="#404040" stroke-width="2"/>
<text x="400.1" y="421.7" font-family="Liberation Serif, serif" font-size="12.5" fill="#606060">BOGR2 2 (NPV)</text>
<line x1="53.8" y1="436.4" x2="72.4" y2="436.4" stroke="#7a6a10" stroke-width="2"/>
<text x="74.6" y="440.8" font-family="Liberation Serif, serif" font-size="12.5" fill="#606060">YUGL (GV)</text>
<line x1="162.3" y1="436.4" x2="180.9" y2="436.4" stroke="#2a3a8c" stroke-width="2"/>
<text x="183.1" y="440.8" font-family="Liberation Serif, serif" font-size="12.5" fill="#606060">Soil 1</text>
<line x1="270.8" y1="436.4" x2="289.4" y2="436.4" stroke="#3c5a20" stroke-width="2"/>
<text x="291.6" y="440.8" font-family="Liberation Serif, serif" font-size="12.5" fill="#606060">MAPIP 2 (GV)</text>
<line x1="379.3" y1="436.4" x2="397.9" y2="436.4" stroke="#6478dc" stroke-width="2"/>
<text x="400.1" y="440.8" font-family="Liberation Serif, serif" font-size="12.5" fill="#606060">CHER2 2 (GV)</text>
<line x1="53.8" y1="455.5" x2="72.4" y2="455.5" stroke="#c0b058" stroke-width="2"/>
<text x="74.6" y="459.9" font-family="Liberation Serif, serif" font-size="12.5" fill="#606060">LATR2 (GV)</text>
<line x1="162.3" y1="455.5" x2="180.9" y2="455.5" stroke="#a0a8a0" stroke-width="2"/>
<text x="183.1" y="459.9" font-family="Liberation Serif, serif" font-size="12.5" fill="#606060">GUSA2 1 (GV)</text>
<line x1="270.8" y1="455.5" x2="289.4" y2="455.5" stroke="#d0d840" stroke-width="2"/>
<text x="291.6" y="459.9" font-family="Liberation Serif, serif" font-size="12.5" fill="#606060">CHER2 3 (GV)</text>
<line x1="379.3" y1="455.5" x2="397.9" y2="455.5" stroke="#8090e8" stroke-width="2"/>
<text x="400.1" y="459.9" font-family="Liberation Serif, serif" font-size="12.5" fill="#606060">CHER2 4 (GV)</text>
<line x1="53.8" y1="474.6" x2="72.4" y2="474.6" stroke="#80bc58" stroke-width="2"/>
<text x="74.6" y="479.0" font-family="Liberation Serif, serif" font-size="12.5" fill="#606060">BOER4 3 (NPV)</text>
<line x1="162.3" y1="474.6" x2="180.9" y2="474.6" stroke="#3c3ca0" stroke-width="2"/>
<text x="183.1" y="479.0" font-family="Liberation Serif, serif" font-size="12.5" fill="#606060">BOER4 4 (NPV)</text>
<line x1="270.8" y1="474.6" x2="289.4" y2="474.6" stroke="#94781e" stroke-width="2"/>
<text x="291.6" y="479.0" font-family="Liberation Serif, serif" font-size="12.5" fill="#606060">Rock (soil)</text>
<line x1="379.3" y1="474.6" x2="397.9" y2="474.6" stroke="#707070" stroke-width="2"/>
<text x="400.1" y="479.0" font-family="Liberation Serif, serif" font-size="12.5" fill="#606060">OPUNT (GV)</text>
<line x1="53.8" y1="493.7" x2="72.4" y2="493.7" stroke="#a4bc34" stroke-width="2"/>
<text x="74.6" y="498.1" font-family="Liberation Serif, serif" font-size="12.5" fill="#606060">JUMO (GV)</text>
<line x1="162.3" y1="493.7" x2="180.9" y2="493.7" stroke="#5060c8" stroke-width="2"/>
<text x="183.1" y="498.1" font-family="Liberation Serif, serif" font-size="12.5" fill="#606060">BOGR2 3 (NPV)</text>
<line x1="270.8" y1="493.7" x2="289.4" y2="493.7" stroke="#5a7a30" stroke-width="2"/>
<text x="291.6" y="498.1" font-family="Liberation Serif, serif" font-size="12.5" fill="#606060">CERCO (GV)</text>
<line x1="379.3" y1="493.7" x2="397.9" y2="493.7" stroke="#9098e8" stroke-width="2"/>
<text x="400.1" y="498.1" font-family="Liberation Serif, serif" font-size="12.5" fill="#606060">BOGR2 4 (NPV)</text>
<line x1="53.8" y1="512.8" x2="72.4" y2="512.8" stroke="#d4bc80" stroke-width="2"/>
<text x="74.6" y="517.2" font-family="Liberation Serif, serif" font-size="12.5" fill="#606060">BOGR2 5 (NPV)</text>
<line x1="162.3" y1="512.8" x2="180.9" y2="512.8" stroke="#a8c8a8" stroke-width="2"/>
<text x="183.1" y="517.2" font-family="Liberation Serif, serif" font-size="12.5" fill="#606060">CHER2 5 (GV)</text>
<line x1="270.8" y1="512.8" x2="289.4" y2="512.8" stroke="#e0e060" stroke-width="2"/>
<text x="291.6" y="517.2" font-family="Liberation Serif, serif" font-size="12.5" fill="#606060">GUSA2 2 (GV)</text>
<text x="269.6" y="539.0" font-family="Liberation Serif, serif" font-weight="bold" font-size="11" fill="#1a1a1a" text-anchor="middle">(c)</text></svg></body></html>
